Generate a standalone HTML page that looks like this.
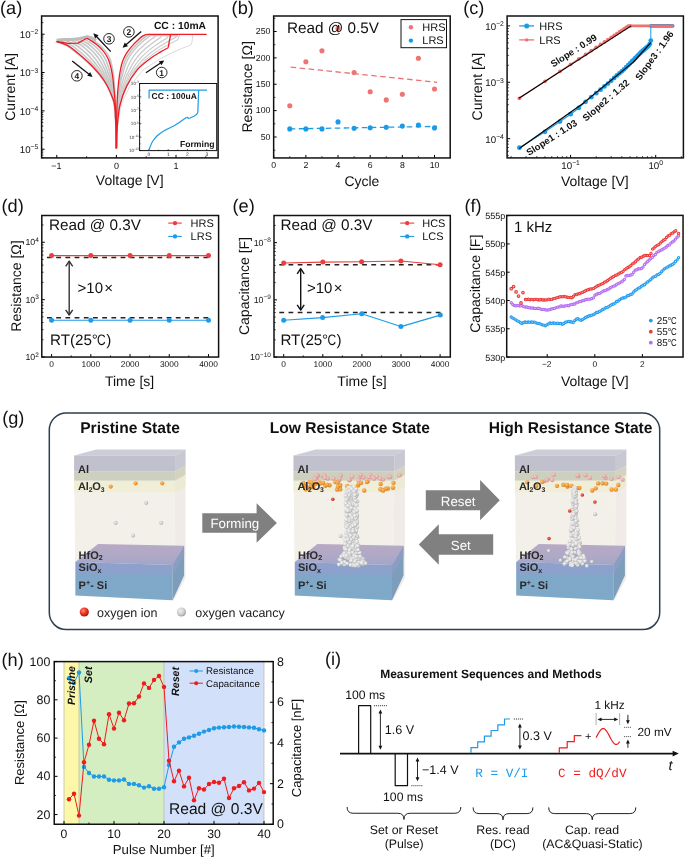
<!DOCTYPE html><html><head><meta charset="utf-8"><style>html,body{margin:0;padding:0;background:#fff;}svg{display:block;will-change:transform;text-rendering:geometricPrecision;}</style></head><body>
<svg width="685" height="858" viewBox="0 0 685 858" font-family='"Liberation Sans", sans-serif'>
<rect width="685" height="858" fill="#fff"/>
<g>
<path d="M89.22,37.94 C90.07,38.47 92.68,40.01 94.36,41.14 C96.03,42.27 97.72,43.41 99.25,44.72 C100.78,46.02 102.21,47.46 103.55,48.97 C104.88,50.47 106.15,52.07 107.23,53.77 C108.31,55.47 109.28,57.28 110.03,59.15 C110.78,61.03 111.26,63.04 111.74,65.01 C112.22,66.99 112.57,69.00 112.91,71.01 C113.24,73.02 113.54,75.05 113.75,77.08 C113.96,79.11 114.03,81.16 114.17,83.19 C114.31,85.23 114.46,87.26 114.59,89.29 C114.71,91.32 114.80,93.35 114.91,95.37 C115.02,97.39 115.17,99.42 115.26,101.44 C115.35,103.46 115.39,105.48 115.47,107.50 C115.54,109.51 115.64,111.53 115.72,113.54 C115.81,115.56 115.92,117.57 115.98,119.58 C116.05,121.60 116.07,123.61 116.12,125.63 C116.17,127.64 116.24,129.66 116.28,131.67 C116.32,133.69 116.33,135.70 116.34,137.72 C116.36,139.73 116.37,142.00 116.38,143.77 C116.39,145.53 116.40,147.54 116.40,148.30" fill="none" stroke="#c8c8c8" stroke-width="1.6"/>
<path d="M83.18,38.60 C84.07,39.10 86.79,40.55 88.54,41.62 C90.28,42.70 92.04,43.78 93.64,45.05 C95.24,46.32 96.72,47.78 98.14,49.26 C99.55,50.74 100.93,52.28 102.13,53.93 C103.33,55.58 104.41,57.34 105.33,59.15 C106.26,60.95 106.97,62.85 107.65,64.75 C108.34,66.65 108.90,68.60 109.46,70.55 C110.01,72.49 110.53,74.45 110.97,76.43 C111.40,78.40 111.69,80.41 112.04,82.40 C112.40,84.40 112.77,86.40 113.07,88.41 C113.38,90.42 113.62,92.45 113.88,94.47 C114.15,96.50 114.45,98.52 114.66,100.56 C114.88,102.59 115.05,104.64 115.20,106.68 C115.35,108.73 115.46,110.78 115.57,112.84 C115.68,114.89 115.78,116.94 115.86,119.00 C115.95,121.05 116.00,123.11 116.06,125.16 C116.12,127.22 116.19,129.28 116.23,131.33 C116.27,133.39 116.29,135.45 116.31,137.50 C116.33,139.56 116.35,141.87 116.36,143.67 C116.38,145.47 116.39,147.53 116.40,148.30" fill="none" stroke="#c8c8c8" stroke-width="1.6"/>
<path d="M79.25,39.03 C80.17,39.51 82.96,40.90 84.75,41.94 C86.54,42.98 88.35,44.02 90.00,45.27 C91.65,46.52 93.16,47.99 94.62,49.45 C96.09,50.91 97.54,52.42 98.81,54.03 C100.09,55.65 101.25,57.38 102.28,59.14 C103.31,60.90 104.18,62.73 105.00,64.58 C105.82,66.43 106.52,68.34 107.21,70.24 C107.91,72.15 108.58,74.06 109.16,76.00 C109.73,77.94 110.17,79.92 110.66,81.89 C111.15,83.86 111.66,85.83 112.09,87.83 C112.51,89.83 112.85,91.87 113.22,93.89 C113.58,95.92 113.98,97.94 114.28,99.98 C114.58,102.03 114.82,104.09 115.02,106.15 C115.22,108.22 115.35,110.30 115.47,112.38 C115.60,114.45 115.70,116.54 115.79,118.62 C115.88,120.70 115.95,122.78 116.02,124.86 C116.09,126.95 116.15,129.03 116.20,131.11 C116.24,133.19 116.26,135.28 116.28,137.36 C116.31,139.45 116.33,141.79 116.35,143.61 C116.37,145.44 116.39,147.52 116.40,148.30" fill="none" stroke="#c8c8c8" stroke-width="1.6"/>
<path d="M75.02,39.49 C75.96,39.95 78.83,41.28 80.68,42.28 C82.52,43.28 84.38,44.27 86.08,45.50 C87.77,46.73 89.31,48.22 90.84,49.66 C92.37,51.10 93.88,52.56 95.24,54.14 C96.60,55.72 97.85,57.43 99.00,59.14 C100.15,60.85 101.17,62.60 102.14,64.40 C103.11,66.20 103.95,68.06 104.80,69.92 C105.64,71.77 106.48,73.63 107.21,75.54 C107.94,77.44 108.54,79.39 109.17,81.34 C109.81,83.28 110.47,85.23 111.03,87.21 C111.58,89.20 112.02,91.24 112.50,93.26 C112.97,95.29 113.47,97.31 113.86,99.37 C114.25,101.42 114.58,103.50 114.84,105.58 C115.09,107.67 115.22,109.78 115.37,111.88 C115.51,113.98 115.60,116.10 115.70,118.21 C115.81,120.32 115.90,122.43 115.97,124.54 C116.05,126.65 116.11,128.76 116.16,130.87 C116.21,132.99 116.23,135.10 116.26,137.21 C116.29,139.32 116.32,141.70 116.34,143.55 C116.36,145.40 116.39,147.51 116.40,148.30" fill="none" stroke="#c8c8c8" stroke-width="1.6"/>
<path d="M70.49,39.98 C71.46,40.43 74.41,41.68 76.31,42.64 C78.21,43.61 80.13,44.54 81.87,45.75 C83.62,46.95 85.19,48.46 86.79,49.88 C88.38,51.30 89.97,52.72 91.42,54.26 C92.86,55.81 94.20,57.48 95.48,59.13 C96.75,60.79 97.95,62.46 99.07,64.20 C100.20,65.94 101.20,67.76 102.21,69.57 C103.21,71.38 104.22,73.18 105.12,75.04 C106.02,76.90 106.78,78.83 107.58,80.74 C108.37,82.66 109.20,84.58 109.89,86.55 C110.58,88.52 111.14,90.57 111.73,92.59 C112.31,94.62 112.93,96.64 113.42,98.71 C113.90,100.77 114.33,102.87 114.63,104.97 C114.94,107.08 115.09,109.22 115.25,111.35 C115.42,113.48 115.50,115.63 115.62,117.77 C115.73,119.91 115.84,122.05 115.93,124.19 C116.01,126.33 116.07,128.48 116.12,130.62 C116.17,132.76 116.20,134.90 116.23,137.05 C116.27,139.19 116.30,141.60 116.33,143.48 C116.36,145.35 116.39,147.50 116.40,148.30" fill="none" stroke="#c8c8c8" stroke-width="1.6"/>
<path d="M65.66,40.51 C66.66,40.93 69.70,42.12 71.65,43.03 C73.61,43.95 75.59,44.84 77.39,46.02 C79.19,47.20 80.80,48.72 82.46,50.11 C84.12,51.51 85.79,52.89 87.33,54.39 C88.88,55.89 90.31,57.53 91.72,59.13 C93.13,60.73 94.52,62.32 95.81,64.00 C97.09,65.67 98.26,67.44 99.44,69.20 C100.62,70.95 101.82,72.70 102.89,74.51 C103.96,76.33 104.91,78.22 105.88,80.11 C106.84,82.00 107.84,83.88 108.68,85.84 C109.52,87.80 110.19,89.85 110.90,91.87 C111.61,93.90 112.35,95.93 112.94,98.00 C113.53,100.08 114.05,102.19 114.42,104.32 C114.79,106.45 114.95,108.62 115.13,110.78 C115.32,112.95 115.40,115.13 115.52,117.30 C115.64,119.47 115.78,121.65 115.87,123.82 C115.97,125.99 116.03,128.17 116.08,130.35 C116.14,132.52 116.16,134.70 116.20,136.87 C116.24,139.05 116.28,141.50 116.32,143.40 C116.35,145.31 116.39,147.48 116.40,148.30" fill="none" stroke="#c8c8c8" stroke-width="1.6"/>
<path d="M60.83,41.04 C61.86,41.44 64.99,42.55 67.00,43.42 C69.01,44.30 71.05,45.13 72.91,46.28 C74.76,47.44 76.41,48.97 78.13,50.35 C79.86,51.72 81.61,53.06 83.25,54.52 C84.89,55.98 86.42,57.58 87.97,59.12 C89.51,60.67 91.09,62.17 92.54,63.79 C93.99,65.40 95.33,67.12 96.68,68.82 C98.04,70.52 99.42,72.21 100.67,73.99 C101.91,75.76 103.04,77.62 104.17,79.48 C105.31,81.34 106.49,83.19 107.47,85.13 C108.45,87.08 109.25,89.13 110.08,91.16 C110.91,93.18 111.78,95.21 112.46,97.30 C113.15,99.38 113.78,101.52 114.21,103.67 C114.63,105.83 114.81,108.02 115.01,110.22 C115.22,112.41 115.29,114.63 115.43,116.83 C115.56,119.04 115.72,121.24 115.82,123.45 C115.93,125.66 115.98,127.86 116.04,130.07 C116.10,132.28 116.13,134.49 116.17,136.70 C116.22,138.91 116.27,141.40 116.30,143.33 C116.34,145.26 116.38,147.47 116.40,148.30" fill="none" stroke="#c8c8c8" stroke-width="1.6"/>
<path d="M55.69,41.60 C56.75,41.97 59.98,43.01 62.05,43.84 C64.12,44.66 66.23,45.44 68.14,46.57 C70.06,47.69 71.74,49.25 73.54,50.60 C75.33,51.94 77.18,53.24 78.92,54.66 C80.66,56.08 82.28,57.63 83.98,59.12 C85.67,60.60 87.44,62.01 89.07,63.56 C90.69,65.12 92.21,66.78 93.75,68.43 C95.29,70.07 96.86,71.70 98.30,73.43 C99.74,75.16 101.05,76.98 102.37,78.81 C103.68,80.63 105.04,82.45 106.18,84.38 C107.32,86.31 108.25,88.37 109.21,90.40 C110.17,92.42 111.16,94.45 111.96,96.55 C112.75,98.65 113.49,100.80 113.98,102.98 C114.47,105.16 114.66,107.39 114.88,109.61 C115.11,111.84 115.18,114.09 115.32,116.34 C115.47,118.58 115.66,120.81 115.77,123.06 C115.88,125.30 115.93,127.54 116.00,129.78 C116.06,132.03 116.09,134.27 116.14,136.52 C116.19,138.76 116.25,141.29 116.29,143.25 C116.33,145.21 116.38,147.46 116.40,148.30" fill="none" stroke="#c8c8c8" stroke-width="1.6"/>
<path d="M116.40,148.30 L116.41,147.24 L116.42,146.18 L116.43,145.11 L116.44,144.05 L116.45,142.99 L116.46,141.93 L116.47,140.87 L116.48,139.80 L116.49,138.74 L116.50,137.68 L116.51,136.62 L116.52,135.55 L116.53,134.49 L116.54,133.43 L116.55,132.37 L116.56,131.31 L116.58,130.24 L116.60,129.18 L116.62,128.12 L116.65,127.06 L116.67,126.00 L116.70,124.94 L116.72,123.88 L116.75,122.81 L116.77,121.75 L116.80,120.69 L116.82,119.63 L116.85,118.57 L116.88,117.51 L116.91,116.45 L116.95,115.38 L116.99,114.32 L117.03,113.26 L117.07,112.20 L117.12,111.15 L117.18,110.09 L117.23,109.03 L117.29,107.98 L117.35,106.92 L117.40,105.86 L117.46,104.81 L117.51,103.75 L117.57,102.69 L117.64,101.64 L117.73,100.58 L117.81,99.53 L117.89,98.47 L117.98,97.41 L118.06,96.36 L118.16,95.31 L118.26,94.26 L118.36,93.22 L118.46,92.17 L118.56,91.12 L118.70,90.08 L118.83,89.03 L118.97,87.99 L119.10,86.95 L119.24,85.90 L119.37,84.86 L119.50,83.81 L119.64,82.77 L119.79,81.72 L119.96,80.68 L120.15,79.66 L120.35,78.64 L120.54,77.61 L120.73,76.59 L120.92,75.57 L121.14,74.55 L121.37,73.53 L121.59,72.51 L121.82,71.49 L122.05,70.47 L122.27,69.45 L122.55,68.44 L122.82,67.43 L123.10,66.43 L123.39,65.43 L123.67,64.43 L124.04,63.45 L124.40,62.48 L124.76,61.50 L125.12,60.52 L125.57,59.57 L126.03,58.63 L126.50,57.69 L126.96,56.76 L127.50,55.86 L128.07,54.97 L128.63,54.09 L129.19,53.20 L129.78,52.33 L130.43,51.50 L131.08,50.68 L131.74,49.85 L132.39,49.02 L133.08,48.23 L133.79,47.45 L134.51,46.67 L135.22,45.90 L135.94,45.12 L136.66,44.36 L137.43,43.63 L138.20,42.90 L138.97,42.18 L139.74,41.45 L140.51,40.73 L141.31,40.04 L142.12,39.36 L142.94,38.68 L143.75,38.01 L144.57,37.33 L145.38,36.66 L146.29,36.13 L147.25,35.67 L148.21,35.21 L149.17,34.76 L150.13,34.30" fill="none" stroke="#c4c4c4" stroke-width="1.6" stroke-linejoin="round"/>
<path d="M116.40,148.30 L116.41,147.22 L116.43,146.14 L116.44,145.06 L116.45,143.98 L116.47,142.91 L116.48,141.83 L116.49,140.75 L116.51,139.67 L116.52,138.59 L116.53,137.51 L116.55,136.43 L116.56,135.35 L116.57,134.28 L116.59,133.20 L116.60,132.12 L116.61,131.04 L116.64,129.96 L116.66,128.88 L116.69,127.80 L116.73,126.73 L116.76,125.65 L116.80,124.57 L116.83,123.49 L116.87,122.42 L116.91,121.34 L116.94,120.26 L116.98,119.19 L117.01,118.11 L117.05,117.03 L117.10,115.95 L117.14,114.88 L117.19,113.80 L117.24,112.72 L117.29,111.65 L117.38,110.58 L117.46,109.51 L117.54,108.44 L117.63,107.37 L117.71,106.30 L117.80,105.24 L117.88,104.17 L117.96,103.10 L118.05,102.03 L118.15,100.96 L118.26,99.90 L118.37,98.83 L118.48,97.76 L118.59,96.69 L118.69,95.63 L118.83,94.57 L118.98,93.52 L119.12,92.47 L119.27,91.43 L119.42,90.38 L119.59,89.33 L119.77,88.28 L119.95,87.23 L120.12,86.19 L120.30,85.14 L120.47,84.09 L120.65,83.04 L120.82,82.00 L121.02,80.95 L121.23,79.91 L121.48,78.89 L121.73,77.88 L121.98,76.87 L122.23,75.86 L122.48,74.85 L122.75,73.85 L123.03,72.84 L123.32,71.83 L123.60,70.83 L123.88,69.82 L124.16,68.82 L124.49,67.82 L124.82,66.82 L125.15,65.83 L125.49,64.86 L125.84,63.88 L126.26,62.92 L126.67,61.97 L127.09,61.01 L127.51,60.05 L128.00,59.13 L128.51,58.20 L129.02,57.28 L129.54,56.37 L130.12,55.49 L130.72,54.63 L131.33,53.76 L131.94,52.89 L132.57,52.04 L133.25,51.23 L133.94,50.42 L134.63,49.61 L135.32,48.81 L136.05,48.03 L136.79,47.27 L137.54,46.51 L138.29,45.75 L139.04,44.99 L139.80,44.24 L140.59,43.53 L141.39,42.81 L142.19,42.10 L142.99,41.40 L143.79,40.69 L144.62,40.00 L145.46,39.34 L146.30,38.67 L147.14,38.01 L147.98,37.34 L148.83,36.68 L149.76,36.15 L150.73,35.69 L151.71,35.22 L152.68,34.76" fill="none" stroke="#c8c8c8" stroke-width="1.4" stroke-linejoin="round"/>
<path d="M116.40,148.30 L116.42,147.19 L116.44,146.09 L116.46,144.98 L116.48,143.87 L116.50,142.76 L116.51,141.66 L116.53,140.55 L116.55,139.44 L116.57,138.33 L116.59,137.23 L116.61,136.12 L116.63,135.01 L116.65,133.90 L116.67,132.80 L116.69,131.69 L116.71,130.58 L116.73,129.47 L116.76,128.37 L116.81,127.26 L116.86,126.16 L116.92,125.05 L116.97,123.95 L117.02,122.84 L117.08,121.74 L117.13,120.63 L117.19,119.53 L117.24,118.42 L117.30,117.32 L117.35,116.21 L117.41,115.11 L117.48,114.00 L117.54,112.90 L117.60,111.80 L117.68,110.69 L117.81,109.60 L117.94,108.52 L118.08,107.43 L118.21,106.34 L118.34,105.25 L118.47,104.16 L118.60,103.08 L118.74,101.99 L118.87,100.90 L119.02,99.81 L119.17,98.72 L119.32,97.64 L119.48,96.55 L119.63,95.46 L119.79,94.37 L119.99,93.31 L120.21,92.26 L120.43,91.20 L120.66,90.15 L120.88,89.09 L121.13,88.04 L121.37,86.99 L121.62,85.94 L121.87,84.88 L122.12,83.83 L122.36,82.78 L122.61,81.73 L122.86,80.67 L123.12,79.62 L123.40,78.57 L123.74,77.58 L124.09,76.59 L124.44,75.61 L124.79,74.62 L125.14,73.63 L125.51,72.65 L125.89,71.66 L126.27,70.68 L126.65,69.69 L127.03,68.71 L127.40,67.73 L127.82,66.75 L128.23,65.77 L128.66,64.81 L129.11,63.87 L129.55,62.94 L130.06,62.02 L130.57,61.09 L131.08,60.17 L131.59,59.25 L132.17,58.36 L132.76,57.47 L133.34,56.58 L133.94,55.70 L134.60,54.86 L135.28,54.03 L135.96,53.20 L136.64,52.37 L137.34,51.55 L138.09,50.76 L138.84,49.99 L139.59,49.21 L140.35,48.44 L141.13,47.69 L141.94,46.96 L142.74,46.23 L143.55,45.50 L144.36,44.77 L145.17,44.04 L146.02,43.35 L146.87,42.66 L147.72,41.98 L148.57,41.29 L149.42,40.61 L150.30,39.95 L151.18,39.30 L152.07,38.66 L152.96,38.01 L153.85,37.37 L154.73,36.72 L155.70,36.19" fill="none" stroke="#cacaca" stroke-width="1.3" stroke-linejoin="round"/>
<polyline points="155.70,36.19 156.90,35.50 157.70,34.30" fill="none" stroke="#cacaca" stroke-width="1.3" stroke-linejoin="round"/>
<path d="M116.40,148.30 L116.43,147.16 L116.45,146.02 L116.48,144.88 L116.50,143.74 L116.53,142.60 L116.56,141.46 L116.58,140.31 L116.61,139.17 L116.63,138.03 L116.66,136.89 L116.68,135.75 L116.71,134.61 L116.74,133.47 L116.76,132.33 L116.79,131.19 L116.82,130.05 L116.85,128.91 L116.88,127.77 L116.95,126.63 L117.02,125.49 L117.10,124.36 L117.17,123.22 L117.25,122.08 L117.32,120.94 L117.40,119.81 L117.47,118.67 L117.55,117.53 L117.62,116.40 L117.70,115.26 L117.78,114.12 L117.87,112.99 L117.95,111.85 L118.03,110.71 L118.13,109.58 L118.32,108.47 L118.51,107.36 L118.70,106.25 L118.88,105.14 L119.07,104.02 L119.26,102.91 L119.45,101.80 L119.64,100.69 L119.83,99.58 L120.03,98.47 L120.23,97.36 L120.44,96.25 L120.65,95.13 L120.85,94.02 L121.06,92.91 L121.35,91.84 L121.66,90.78 L121.96,89.72 L122.27,88.66 L122.59,87.60 L122.92,86.54 L123.25,85.48 L123.58,84.42 L123.91,83.36 L124.24,82.31 L124.57,81.25 L124.90,80.19 L125.23,79.13 L125.57,78.07 L125.93,77.01 L126.39,76.05 L126.86,75.09 L127.32,74.13 L127.79,73.17 L128.25,72.20 L128.74,71.25 L129.23,70.29 L129.71,69.33 L130.20,68.37 L130.69,67.41 L131.18,66.46 L131.70,65.50 L132.22,64.55 L132.76,63.62 L133.32,62.72 L133.89,61.83 L134.51,60.95 L135.12,60.08 L135.74,59.20 L136.36,58.32 L137.03,57.46 L137.71,56.61 L138.39,55.75 L139.09,54.92 L139.84,54.12 L140.60,53.33 L141.36,52.54 L142.12,51.75 L142.91,50.97 L143.72,50.21 L144.55,49.48 L145.38,48.74 L146.21,48.01 L147.07,47.30 L147.94,46.60 L148.81,45.90 L149.69,45.20 L150.56,44.51 L151.44,43.81 L152.34,43.14 L153.25,42.48 L154.16,41.83 L155.08,41.18 L155.99,40.52 L156.92,39.89 L157.86,39.26 L158.80,38.64 L159.74,38.02 L160.68,37.39" fill="none" stroke="#cbcbcb" stroke-width="1.3" stroke-linejoin="round"/>
<polyline points="160.68,37.39 161.40,35.50 162.20,34.30" fill="none" stroke="#cbcbcb" stroke-width="1.3" stroke-linejoin="round"/>
<path d="M116.40,148.30 L116.43,147.12 L116.47,145.95 L116.50,144.77 L116.53,143.59 L116.57,142.42 L116.60,141.24 L116.63,140.06 L116.67,138.89 L116.70,137.71 L116.73,136.54 L116.77,135.36 L116.80,134.18 L116.83,133.01 L116.86,131.83 L116.90,130.65 L116.93,129.48 L116.97,128.30 L117.01,127.12 L117.10,125.95 L117.19,124.78 L117.29,123.61 L117.39,122.44 L117.49,121.27 L117.58,120.10 L117.68,118.92 L117.78,117.75 L117.88,116.58 L117.98,115.41 L118.07,114.24 L118.18,113.07 L118.28,111.90 L118.38,110.73 L118.49,109.55 L118.61,108.39 L118.86,107.25 L119.11,106.12 L119.36,104.98 L119.61,103.84 L119.86,102.71 L120.11,101.57 L120.36,100.43 L120.61,99.30 L120.85,98.16 L121.11,97.03 L121.37,95.89 L121.64,94.75 L121.90,93.62 L122.16,92.48 L122.42,91.35 L122.80,90.27 L123.20,89.20 L123.60,88.13 L124.01,87.07 L124.41,86.00 L124.83,84.93 L125.25,83.87 L125.67,82.80 L126.09,81.74 L126.51,80.67 L126.93,79.61 L127.35,78.54 L127.77,77.48 L128.20,76.41 L128.64,75.35 L129.22,74.41 L129.81,73.48 L130.41,72.54 L131.00,71.61 L131.59,70.68 L132.19,69.75 L132.80,68.81 L133.41,67.88 L134.02,66.95 L134.62,66.02 L135.23,65.09 L135.86,64.17 L136.49,63.24 L137.14,62.34 L137.84,61.49 L138.53,60.65 L139.26,59.82 L140.00,58.98 L140.73,58.15 L141.46,57.32 L142.23,56.50 L143.02,55.68 L143.80,54.87 L144.60,54.09 L145.44,53.33 L146.30,52.59 L147.15,51.84 L148.00,51.09 L148.87,50.35 L149.77,49.63 L150.67,48.93 L151.59,48.24 L152.50,47.55 L153.43,46.88 L154.37,46.22 L155.32,45.55 L156.26,44.89 L157.20,44.22 L158.15,43.57 L159.12,42.93 L160.09,42.29 L161.07,41.67 L162.05,41.05 L163.02,40.43 L164.01,39.82 L165.01,39.22 L166.01,38.62 L167.01,38.02" fill="none" stroke="#cccccc" stroke-width="1.2" stroke-linejoin="round"/>
<polyline points="167.01,38.02 168.40,35.50 169.20,34.30" fill="none" stroke="#cccccc" stroke-width="1.2" stroke-linejoin="round"/>
<path d="M116.40,148.30 L116.44,147.09 L116.48,145.88 L116.52,144.66 L116.56,143.45 L116.60,142.24 L116.64,141.03 L116.68,139.81 L116.72,138.60 L116.76,137.39 L116.80,136.18 L116.85,134.97 L116.89,133.75 L116.93,132.54 L116.97,131.33 L117.01,130.12 L117.05,128.90 L117.09,127.69 L117.13,126.48 L117.24,125.27 L117.36,124.07 L117.48,122.86 L117.61,121.66 L117.73,120.45 L117.85,119.25 L117.97,118.04 L118.09,116.83 L118.21,115.63 L118.33,114.42 L118.45,113.22 L118.57,112.01 L118.70,110.81 L118.82,109.60 L118.95,108.40 L119.10,107.20 L119.41,106.04 L119.72,104.88 L120.03,103.71 L120.33,102.55 L120.64,101.39 L120.95,100.23 L121.26,99.07 L121.57,97.91 L121.88,96.75 L122.20,95.59 L122.51,94.43 L122.83,93.26 L123.15,92.10 L123.47,90.94 L123.78,89.78 L124.25,88.69 L124.74,87.62 L125.24,86.54 L125.74,85.47 L126.24,84.40 L126.75,83.33 L127.26,82.25 L127.77,81.18 L128.28,80.11 L128.79,79.04 L129.30,77.97 L129.80,76.89 L130.31,75.82 L130.83,74.75 L131.35,73.68 L132.06,72.77 L132.77,71.86 L133.49,70.96 L134.21,70.05 L134.92,69.15 L135.64,68.24 L136.37,67.34 L137.10,66.44 L137.83,65.54 L138.55,64.63 L139.28,63.73 L140.02,62.83 L140.77,61.93 L141.53,61.06 L142.35,60.26 L143.18,59.47 L144.02,58.68 L144.87,57.89 L145.72,57.10 L146.57,56.32 L147.44,55.54 L148.32,54.76 L149.20,53.99 L150.11,53.26 L151.05,52.55 L151.99,51.84 L152.94,51.14 L153.88,50.43 L154.83,49.73 L155.81,49.04 L156.79,48.39 L157.79,47.74 L158.78,47.10 L159.79,46.46 L160.80,45.83 L161.82,45.20 L162.83,44.57 L163.85,43.94 L164.86,43.32 L165.90,42.71 L166.93,42.10 L167.97,41.51 L169.02,40.92 L170.06,40.33 L171.11,39.75 L172.17,39.17 L173.22,38.60 L174.28,38.02 L175.34,37.45 L176.39,36.87" fill="none" stroke="#cccccc" stroke-width="1.2" stroke-linejoin="round"/>
<polyline points="176.39,36.87 176.90,35.50 177.70,34.30" fill="none" stroke="#cccccc" stroke-width="1.2" stroke-linejoin="round"/>
<path d="M116.40,148.30 L116.45,147.05 L116.49,145.81 L116.54,144.56 L116.59,143.32 L116.64,142.07 L116.68,140.83 L116.73,139.58 L116.78,138.34 L116.83,137.09 L116.87,135.84 L116.92,134.60 L116.97,133.35 L117.01,132.11 L117.06,130.86 L117.11,129.62 L117.16,128.37 L117.21,127.12 L117.25,125.88 L117.38,124.64 L117.52,123.40 L117.67,122.17 L117.81,120.93 L117.95,119.69 L118.09,118.45 L118.23,117.22 L118.37,115.98 L118.51,114.74 L118.66,113.50 L118.80,112.26 L118.94,111.03 L119.08,109.79 L119.23,108.55 L119.37,107.31 L119.55,106.09 L119.92,104.90 L120.28,103.72 L120.65,102.53 L121.01,101.35 L121.38,100.16 L121.74,98.98 L122.11,97.79 L122.47,96.61 L122.84,95.43 L123.21,94.24 L123.58,93.06 L123.95,91.87 L124.32,90.69 L124.69,89.50 L125.06,88.32 L125.60,87.22 L126.19,86.14 L126.77,85.06 L127.36,83.98 L127.95,82.90 L128.54,81.83 L129.13,80.75 L129.72,79.67 L130.32,78.59 L130.91,77.51 L131.50,76.43 L132.09,75.36 L132.69,74.28 L133.28,73.20 L133.88,72.12 L134.70,71.24 L135.54,70.36 L136.37,69.48 L137.20,68.60 L138.03,67.72 L138.87,66.84 L139.71,65.97 L140.55,65.09 L141.38,64.21 L142.22,63.33 L143.06,62.46 L143.91,61.58 L144.75,60.71 L145.63,59.87 L146.57,59.12 L147.51,58.37 L148.47,57.62 L149.42,56.87 L150.38,56.13 L151.33,55.38 L152.30,54.64 L153.28,53.90 L154.25,53.16 L155.25,52.48 L156.28,51.81 L157.31,51.14 L158.34,50.48 L159.37,49.81 L160.40,49.15 L161.44,48.50 L162.51,47.88 L163.58,47.27 L164.65,46.67 L165.72,46.07 L166.81,45.47 L167.89,44.88 L168.97,44.28 L170.05,43.68 L171.13,43.09 L172.22,42.50 L173.32,41.93 L174.42,41.37 L175.52,40.80 L176.63,40.24 L177.73,39.69" fill="none" stroke="#cfcfcf" stroke-width="1.1" stroke-linejoin="round"/>
<polyline points="177.73,39.69 178.90,36.69 179.70,34.30" fill="none" stroke="#cfcfcf" stroke-width="1.1" stroke-linejoin="round"/>
<path d="M116.40,148.30 L116.47,147.02 L116.54,145.73 L116.61,144.45 L116.69,143.17 L116.76,141.88 L116.83,140.60 L116.90,139.31 L116.97,138.03 L117.04,136.75 L117.12,135.46 L117.19,134.18 L117.26,132.90 L117.33,131.61 L117.40,130.33 L117.47,129.04 L117.55,127.76 L117.62,126.48 L117.69,125.19 L117.88,123.92 L118.10,122.64 L118.31,121.37 L118.53,120.09 L118.74,118.82 L118.96,117.55 L119.18,116.27 L119.39,115.00 L119.61,113.72 L119.82,112.45 L120.04,111.18 L120.25,109.90 L120.47,108.63 L120.68,107.35 L120.90,106.08 L121.17,104.81 L121.72,103.60 L122.28,102.39 L122.84,101.18 L123.40,99.97 L123.96,98.76 L124.52,97.55 L125.08,96.34 L125.63,95.13 L126.19,93.92 L126.75,92.70 L127.31,91.49 L127.87,90.28 L128.43,89.07 L128.99,87.86 L129.54,86.65 L130.37,85.54 L131.26,84.45 L132.16,83.37 L133.05,82.28 L133.95,81.20 L134.84,80.11 L135.73,79.03 L136.63,77.94 L137.52,76.86 L138.41,75.77 L139.31,74.68 L140.20,73.60 L141.10,72.51 L141.99,71.43 L142.88,70.34 L144.13,69.49 L145.38,68.64 L146.63,67.79 L147.89,66.94 L149.14,66.09 L150.40,65.24 L151.65,64.40 L152.91,63.55 L154.16,62.70 L155.42,61.85 L156.67,61.00 L157.93,60.16 L159.18,59.31 L160.48,58.50 L161.88,57.80 L163.28,57.11 L164.69,56.41 L166.09,55.71 L167.49,55.01 L168.89,54.31 L170.30,53.62 L171.70,52.92 L173.10,52.22 L174.55,51.59 L176.02,50.97 L177.48,50.35 L178.94,49.73 L180.41,49.11 L181.87,48.49 L183.34,47.87 L184.83,47.30 L186.33,46.74 L187.84,46.18 L189.34,45.62 L190.84,45.06" fill="none" stroke="#d4d4d4" stroke-width="0.9" stroke-linejoin="round"/>
<polyline points="190.84,45.06 192.00,42.06 192.80,34.30" fill="none" stroke="#d4d4d4" stroke-width="0.9" stroke-linejoin="round"/>
<polyline points="56.60,40.30 64.00,39.40 72.00,39.50 80.00,38.40 87.40,36.60 92.00,38.00 96.00,40.60" fill="none" stroke="#bdbdbd" stroke-width="3.0" stroke-linejoin="round"/>
<polyline points="147.00,35.40 160.00,35.60 178.00,35.80" fill="none" stroke="#cccccc" stroke-width="1.4" stroke-linejoin="round"/>
<path d="M86.80,38.20 C87.62,38.68 89.92,39.93 91.70,41.10 C93.48,42.27 95.75,43.73 97.50,45.20 C99.25,46.67 100.83,48.35 102.20,49.90 C103.57,51.45 104.63,52.82 105.70,54.50 C106.77,56.18 107.73,57.83 108.60,60.00 C109.47,62.17 110.23,64.75 110.90,67.50 C111.57,70.25 112.10,73.08 112.60,76.50 C113.10,79.92 113.48,83.75 113.90,88.00 C114.32,92.25 114.77,97.00 115.10,102.00 C115.43,107.00 115.70,112.83 115.90,118.00 C116.10,123.17 116.22,127.95 116.30,133.00 C116.38,138.05 116.38,145.75 116.40,148.30" fill="none" stroke="#ee1c25" stroke-width="1.3"/>
<path d="M56.60,41.50 C58.42,42.15 63.73,43.28 67.50,45.40 C71.27,47.52 75.30,50.98 79.20,54.20 C83.10,57.42 87.40,61.20 90.90,64.70 C94.40,68.20 97.48,71.70 100.20,75.20 C102.92,78.70 105.25,82.20 107.20,85.70 C109.15,89.20 110.67,92.98 111.90,96.20 C113.13,99.42 113.93,100.20 114.60,105.00 C115.27,109.80 115.60,117.78 115.90,125.00 C116.20,132.22 116.32,144.42 116.40,148.30" fill="none" stroke="#ee1c25" stroke-width="1.3"/>
<polyline points="56.60,41.50 68.00,43.40 78.00,43.10 86.80,38.20" fill="none" stroke="#ee1c25" stroke-width="1.3" stroke-linejoin="round"/>
<path d="M146.60,34.30 C145.87,34.65 143.72,35.37 142.20,36.40 C140.68,37.43 138.97,39.13 137.50,40.50 C136.03,41.87 134.70,43.20 133.40,44.60 C132.10,46.00 130.80,47.52 129.70,48.90 C128.60,50.28 127.67,51.57 126.80,52.90 C125.93,54.23 125.17,55.58 124.50,56.90 C123.83,58.22 123.30,59.45 122.80,60.80 C122.30,62.15 121.90,63.47 121.50,65.00 C121.10,66.53 120.75,68.17 120.40,70.00 C120.05,71.83 119.72,73.83 119.40,76.00 C119.08,78.17 118.78,80.33 118.50,83.00 C118.22,85.67 117.93,88.67 117.70,92.00 C117.47,95.33 117.27,98.67 117.10,103.00 C116.93,107.33 116.80,113.17 116.70,118.00 C116.60,122.83 116.55,126.95 116.50,132.00 C116.45,137.05 116.42,145.58 116.40,148.30" fill="none" stroke="#ee1c25" stroke-width="1.3"/>
<path d="M168.20,47.70 C166.87,48.43 163.23,50.27 160.20,52.10 C157.17,53.93 153.90,55.67 150.00,58.70 C146.10,61.73 140.70,65.68 136.80,70.30 C132.90,74.92 129.40,80.62 126.60,86.40 C123.80,92.18 121.53,98.57 120.00,105.00 C118.47,111.43 118.00,117.78 117.40,125.00 C116.80,132.22 116.57,144.42 116.40,148.30" fill="none" stroke="#ee1c25" stroke-width="1.3"/>
<polyline points="168.20,47.70 170.40,35.30 170.60,34.30" fill="none" stroke="#ee1c25" stroke-width="1.3" stroke-linejoin="round"/>
<line x1="146.60" y1="34.30" x2="206.60" y2="34.30" stroke="#ee1c25" stroke-width="1.3"/>
</g>
<line x1="145.90" y1="72.70" x2="160.55" y2="62.99" stroke="#111" stroke-width="1.3"/>
<polygon points="164.30,60.50 161.46,65.26 158.81,61.26" fill="#111"/>
<line x1="141.20" y1="31.40" x2="125.98" y2="44.73" stroke="#111" stroke-width="1.3"/>
<polygon points="122.60,47.70 124.78,42.60 127.94,46.21" fill="#111"/>
<line x1="110.70" y1="51.60" x2="96.48" y2="36.48" stroke="#111" stroke-width="1.3"/>
<polygon points="93.40,33.20 98.57,35.20 95.08,38.49" fill="#111"/>
<line x1="72.20" y1="61.00" x2="89.06" y2="74.22" stroke="#111" stroke-width="1.3"/>
<polygon points="92.60,77.00 87.18,75.80 90.15,72.03" fill="#111"/>
<circle cx="161.70" cy="72.50" r="5.3" fill="#fff" stroke="#111" stroke-width="0.9"/>
<text x="161.70" y="75.50" font-size="8.4" text-anchor="middle" fill="#111" font-weight="bold">1</text>
<circle cx="128.90" cy="31.90" r="5.3" fill="#fff" stroke="#111" stroke-width="0.9"/>
<text x="128.90" y="34.90" font-size="8.4" text-anchor="middle" fill="#111" font-weight="bold">2</text>
<circle cx="109.00" cy="38.80" r="5.3" fill="#fff" stroke="#111" stroke-width="0.9"/>
<text x="109.00" y="41.80" font-size="8.4" text-anchor="middle" fill="#111" font-weight="bold">3</text>
<circle cx="76.90" cy="75.80" r="5.3" fill="#fff" stroke="#111" stroke-width="0.9"/>
<text x="76.90" y="78.80" font-size="8.4" text-anchor="middle" fill="#111" font-weight="bold">4</text>
<text x="206.00" y="29.30" font-size="10.3" text-anchor="end" fill="#111" font-weight="bold">CC : 10mA</text>
<rect x="139.60" y="83.50" width="77.10" height="67.10" fill="#fff" stroke="#111" stroke-width="1.0"/>
<line x1="139.60" y1="83.50" x2="141.40" y2="83.50" stroke="#000" stroke-width="0.6"/>
<text x="139" y="85.10" font-size="4.6" text-anchor="end" fill="#444">10<tspan font-size="3.4" dy="-1.8">-3</tspan></text>
<line x1="139.60" y1="90.20" x2="140.60" y2="90.20" stroke="#000" stroke-width="0.5"/>
<line x1="139.60" y1="96.90" x2="141.40" y2="96.90" stroke="#000" stroke-width="0.6"/>
<text x="139" y="98.50" font-size="4.6" text-anchor="end" fill="#444">10<tspan font-size="3.4" dy="-1.8">-5</tspan></text>
<line x1="139.60" y1="103.60" x2="140.60" y2="103.60" stroke="#000" stroke-width="0.5"/>
<line x1="139.60" y1="110.30" x2="141.40" y2="110.30" stroke="#000" stroke-width="0.6"/>
<text x="139" y="111.90" font-size="4.6" text-anchor="end" fill="#444">10<tspan font-size="3.4" dy="-1.8">-7</tspan></text>
<line x1="139.60" y1="117.00" x2="140.60" y2="117.00" stroke="#000" stroke-width="0.5"/>
<line x1="139.60" y1="123.70" x2="141.40" y2="123.70" stroke="#000" stroke-width="0.6"/>
<text x="139" y="125.30" font-size="4.6" text-anchor="end" fill="#444">10<tspan font-size="3.4" dy="-1.8">-9</tspan></text>
<line x1="139.60" y1="130.40" x2="140.60" y2="130.40" stroke="#000" stroke-width="0.5"/>
<line x1="139.60" y1="137.10" x2="141.40" y2="137.10" stroke="#000" stroke-width="0.6"/>
<text x="139" y="138.70" font-size="4.6" text-anchor="end" fill="#444">10<tspan font-size="3.4" dy="-1.8">-11</tspan></text>
<line x1="139.60" y1="143.80" x2="140.60" y2="143.80" stroke="#000" stroke-width="0.5"/>
<line x1="139.60" y1="150.50" x2="141.40" y2="150.50" stroke="#000" stroke-width="0.6"/>
<text x="139" y="152.10" font-size="4.6" text-anchor="end" fill="#444">10<tspan font-size="3.4" dy="-1.8">-13</tspan></text>
<line x1="148.80" y1="150.60" x2="148.80" y2="149.00" stroke="#000" stroke-width="0.6"/>
<text x="148.80" y="155.60" font-size="5" text-anchor="middle" fill="#333">0</text>
<line x1="158.45" y1="150.60" x2="158.45" y2="149.60" stroke="#000" stroke-width="0.5"/>
<line x1="168.20" y1="150.60" x2="168.20" y2="149.00" stroke="#000" stroke-width="0.6"/>
<text x="168.20" y="155.60" font-size="5" text-anchor="middle" fill="#333">1</text>
<line x1="177.85" y1="150.60" x2="177.85" y2="149.60" stroke="#000" stroke-width="0.5"/>
<line x1="187.50" y1="150.60" x2="187.50" y2="149.00" stroke="#000" stroke-width="0.6"/>
<text x="187.50" y="155.60" font-size="5" text-anchor="middle" fill="#333">2</text>
<line x1="197.15" y1="150.60" x2="197.15" y2="149.60" stroke="#000" stroke-width="0.5"/>
<line x1="206.80" y1="150.60" x2="206.80" y2="149.00" stroke="#000" stroke-width="0.6"/>
<text x="206.80" y="155.60" font-size="5" text-anchor="middle" fill="#333">3</text>
<path d="M148.80,150.20 C149.05,149.58 149.77,147.78 150.30,146.50 C150.83,145.22 151.35,143.72 152.00,142.50 C152.65,141.28 153.20,140.45 154.20,139.20 C155.20,137.95 156.53,136.30 158.00,135.00 C159.47,133.70 161.33,132.45 163.00,131.40 C164.67,130.35 166.07,129.70 168.00,128.70 C169.93,127.70 172.60,126.52 174.60,125.40 C176.60,124.28 178.05,123.30 180.00,122.00 C181.95,120.70 185.25,118.33 186.30,117.60" fill="none" stroke="#1e9ae6" stroke-width="1.2"/>
<polyline points="186.30,117.60 187.50,117.30 188.50,118.40 190.00,118.00 194.00,116.20 196.50,114.60 197.80,112.50 198.30,100.00 198.70,90.30" fill="none" stroke="#1e9ae6" stroke-width="1.2" stroke-linejoin="round"/>
<polyline points="149.10,98.40 149.10,90.20 207.00,90.20" fill="none" stroke="#1e9ae6" stroke-width="1.2" stroke-linejoin="round"/>
<text x="151.50" y="99.30" font-size="8.5" text-anchor="start" fill="#111" font-weight="bold">CC : 100uA</text>
<text x="214.40" y="146.70" font-size="8.6" text-anchor="end" fill="#111" font-weight="bold">Forming</text>
<rect x="41.60" y="16.00" width="176.50" height="141.90" fill="none" stroke="#111" stroke-width="1.5"/>
<line x1="41.60" y1="34.20" x2="44.60" y2="34.20" stroke="#000" stroke-width="1"/>
<text x="38.30" y="38.00" font-size="9.7" text-anchor="end" fill="#111">10<tspan font-size="6.8" dy="-3.69">−2</tspan></text>
<line x1="41.60" y1="72.53" x2="44.60" y2="72.53" stroke="#000" stroke-width="1"/>
<text x="38.30" y="76.33" font-size="9.7" text-anchor="end" fill="#111">10<tspan font-size="6.8" dy="-3.69">−3</tspan></text>
<line x1="41.60" y1="110.86" x2="44.60" y2="110.86" stroke="#000" stroke-width="1"/>
<text x="38.30" y="114.66" font-size="9.7" text-anchor="end" fill="#111">10<tspan font-size="6.8" dy="-3.69">−4</tspan></text>
<line x1="41.60" y1="149.19" x2="44.60" y2="149.19" stroke="#000" stroke-width="1"/>
<text x="38.30" y="152.99" font-size="9.7" text-anchor="end" fill="#111">10<tspan font-size="6.8" dy="-3.69">−5</tspan></text>
<line x1="41.60" y1="157.69" x2="43.30" y2="157.69" stroke="#000" stroke-width="0.8"/>
<line x1="41.60" y1="155.13" x2="43.30" y2="155.13" stroke="#000" stroke-width="0.8"/>
<line x1="41.60" y1="152.90" x2="43.30" y2="152.90" stroke="#000" stroke-width="0.8"/>
<line x1="41.60" y1="150.94" x2="43.30" y2="150.94" stroke="#000" stroke-width="0.8"/>
<line x1="41.60" y1="137.65" x2="43.30" y2="137.65" stroke="#000" stroke-width="0.8"/>
<line x1="41.60" y1="130.90" x2="43.30" y2="130.90" stroke="#000" stroke-width="0.8"/>
<line x1="41.60" y1="126.11" x2="43.30" y2="126.11" stroke="#000" stroke-width="0.8"/>
<line x1="41.60" y1="122.40" x2="43.30" y2="122.40" stroke="#000" stroke-width="0.8"/>
<line x1="41.60" y1="119.36" x2="43.30" y2="119.36" stroke="#000" stroke-width="0.8"/>
<line x1="41.60" y1="116.80" x2="43.30" y2="116.80" stroke="#000" stroke-width="0.8"/>
<line x1="41.60" y1="114.57" x2="43.30" y2="114.57" stroke="#000" stroke-width="0.8"/>
<line x1="41.60" y1="112.61" x2="43.30" y2="112.61" stroke="#000" stroke-width="0.8"/>
<line x1="41.60" y1="99.32" x2="43.30" y2="99.32" stroke="#000" stroke-width="0.8"/>
<line x1="41.60" y1="92.57" x2="43.30" y2="92.57" stroke="#000" stroke-width="0.8"/>
<line x1="41.60" y1="87.78" x2="43.30" y2="87.78" stroke="#000" stroke-width="0.8"/>
<line x1="41.60" y1="84.07" x2="43.30" y2="84.07" stroke="#000" stroke-width="0.8"/>
<line x1="41.60" y1="81.03" x2="43.30" y2="81.03" stroke="#000" stroke-width="0.8"/>
<line x1="41.60" y1="78.47" x2="43.30" y2="78.47" stroke="#000" stroke-width="0.8"/>
<line x1="41.60" y1="76.24" x2="43.30" y2="76.24" stroke="#000" stroke-width="0.8"/>
<line x1="41.60" y1="74.28" x2="43.30" y2="74.28" stroke="#000" stroke-width="0.8"/>
<line x1="41.60" y1="60.99" x2="43.30" y2="60.99" stroke="#000" stroke-width="0.8"/>
<line x1="41.60" y1="54.24" x2="43.30" y2="54.24" stroke="#000" stroke-width="0.8"/>
<line x1="41.60" y1="49.45" x2="43.30" y2="49.45" stroke="#000" stroke-width="0.8"/>
<line x1="41.60" y1="45.74" x2="43.30" y2="45.74" stroke="#000" stroke-width="0.8"/>
<line x1="41.60" y1="42.70" x2="43.30" y2="42.70" stroke="#000" stroke-width="0.8"/>
<line x1="41.60" y1="40.14" x2="43.30" y2="40.14" stroke="#000" stroke-width="0.8"/>
<line x1="41.60" y1="37.91" x2="43.30" y2="37.91" stroke="#000" stroke-width="0.8"/>
<line x1="41.60" y1="35.95" x2="43.30" y2="35.95" stroke="#000" stroke-width="0.8"/>
<line x1="41.60" y1="22.66" x2="43.30" y2="22.66" stroke="#000" stroke-width="0.8"/>
<line x1="56.80" y1="157.90" x2="56.80" y2="154.90" stroke="#000" stroke-width="1"/>
<line x1="116.40" y1="157.90" x2="116.40" y2="154.90" stroke="#000" stroke-width="1"/>
<line x1="176.00" y1="157.90" x2="176.00" y2="154.90" stroke="#000" stroke-width="1"/>
<line x1="86.60" y1="157.90" x2="86.60" y2="156.20" stroke="#000" stroke-width="0.8"/>
<line x1="146.20" y1="157.90" x2="146.20" y2="156.20" stroke="#000" stroke-width="0.8"/>
<line x1="205.80" y1="157.90" x2="205.80" y2="156.20" stroke="#000" stroke-width="0.8"/>
<text x="56.30" y="168.90" font-size="9" text-anchor="middle" fill="#111">−1</text>
<text x="116.40" y="168.90" font-size="9" text-anchor="middle" fill="#111">0</text>
<text x="176.00" y="168.90" font-size="9" text-anchor="middle" fill="#111">1</text>
<text x="129.70" y="184.90" font-size="14.0" text-anchor="middle" fill="#111">Voltage [V]</text>
<text x="14.60" y="86.90" font-size="14.0" text-anchor="middle" fill="#111" transform="rotate(-90 14.60 86.90)">Current [A]</text>
<text x="0.00" y="14.30" font-size="18.2" text-anchor="start" fill="#111">(a)</text>
<line x1="273.65" y1="137.00" x2="276.65" y2="137.00" stroke="#000" stroke-width="1"/>
<text x="270.30" y="139.80" font-size="8.7" text-anchor="end" fill="#111">50</text>
<line x1="273.65" y1="110.62" x2="276.65" y2="110.62" stroke="#000" stroke-width="1"/>
<text x="270.30" y="113.42" font-size="8.7" text-anchor="end" fill="#111">100</text>
<line x1="273.65" y1="84.25" x2="276.65" y2="84.25" stroke="#000" stroke-width="1"/>
<text x="270.30" y="87.05" font-size="8.7" text-anchor="end" fill="#111">150</text>
<line x1="273.65" y1="57.88" x2="276.65" y2="57.88" stroke="#000" stroke-width="1"/>
<text x="270.30" y="60.67" font-size="8.7" text-anchor="end" fill="#111">200</text>
<line x1="273.65" y1="31.50" x2="276.65" y2="31.50" stroke="#000" stroke-width="1"/>
<text x="270.30" y="34.30" font-size="8.7" text-anchor="end" fill="#111">250</text>
<line x1="273.65" y1="150.19" x2="275.35" y2="150.19" stroke="#000" stroke-width="0.8"/>
<line x1="273.65" y1="123.81" x2="275.35" y2="123.81" stroke="#000" stroke-width="0.8"/>
<line x1="273.65" y1="97.44" x2="275.35" y2="97.44" stroke="#000" stroke-width="0.8"/>
<line x1="273.65" y1="71.06" x2="275.35" y2="71.06" stroke="#000" stroke-width="0.8"/>
<line x1="273.65" y1="44.69" x2="275.35" y2="44.69" stroke="#000" stroke-width="0.8"/>
<line x1="273.65" y1="18.31" x2="275.35" y2="18.31" stroke="#000" stroke-width="0.8"/>
<line x1="273.70" y1="157.95" x2="273.70" y2="154.95" stroke="#000" stroke-width="1"/>
<text x="273.70" y="168.40" font-size="8.7" text-anchor="middle" fill="#111">0</text>
<line x1="289.78" y1="157.95" x2="289.78" y2="156.25" stroke="#000" stroke-width="0.8"/>
<line x1="305.86" y1="157.95" x2="305.86" y2="154.95" stroke="#000" stroke-width="1"/>
<text x="305.86" y="168.40" font-size="8.7" text-anchor="middle" fill="#111">2</text>
<line x1="321.94" y1="157.95" x2="321.94" y2="156.25" stroke="#000" stroke-width="0.8"/>
<line x1="338.02" y1="157.95" x2="338.02" y2="154.95" stroke="#000" stroke-width="1"/>
<text x="338.02" y="168.40" font-size="8.7" text-anchor="middle" fill="#111">4</text>
<line x1="354.10" y1="157.95" x2="354.10" y2="156.25" stroke="#000" stroke-width="0.8"/>
<line x1="370.18" y1="157.95" x2="370.18" y2="154.95" stroke="#000" stroke-width="1"/>
<text x="370.18" y="168.40" font-size="8.7" text-anchor="middle" fill="#111">6</text>
<line x1="386.26" y1="157.95" x2="386.26" y2="156.25" stroke="#000" stroke-width="0.8"/>
<line x1="402.34" y1="157.95" x2="402.34" y2="154.95" stroke="#000" stroke-width="1"/>
<text x="402.34" y="168.40" font-size="8.7" text-anchor="middle" fill="#111">8</text>
<line x1="418.42" y1="157.95" x2="418.42" y2="156.25" stroke="#000" stroke-width="0.8"/>
<line x1="434.50" y1="157.95" x2="434.50" y2="154.95" stroke="#000" stroke-width="1"/>
<text x="434.50" y="168.40" font-size="8.7" text-anchor="middle" fill="#111">10</text>
<line x1="290.70" y1="67.10" x2="437.20" y2="82.30" stroke="#f07070" stroke-width="1.3" stroke-dasharray="5.5 3.5"/>
<line x1="289.80" y1="128.90" x2="437.00" y2="126.40" stroke="#1a9be8" stroke-width="1.3" stroke-dasharray="5.5 3.5"/>
<circle cx="289.78" cy="105.80" r="2.55" fill="#f07272" stroke="none" stroke-width="0"/>
<circle cx="305.86" cy="61.70" r="2.55" fill="#f07272" stroke="none" stroke-width="0"/>
<circle cx="321.94" cy="50.80" r="2.55" fill="#f07272" stroke="none" stroke-width="0"/>
<circle cx="338.02" cy="28.20" r="2.55" fill="#f07272" stroke="none" stroke-width="0"/>
<circle cx="354.10" cy="72.50" r="2.55" fill="#f07272" stroke="none" stroke-width="0"/>
<circle cx="370.18" cy="91.80" r="2.55" fill="#f07272" stroke="none" stroke-width="0"/>
<circle cx="386.26" cy="99.90" r="2.55" fill="#f07272" stroke="none" stroke-width="0"/>
<circle cx="402.34" cy="94.30" r="2.55" fill="#f07272" stroke="none" stroke-width="0"/>
<circle cx="418.42" cy="58.20" r="2.55" fill="#f07272" stroke="none" stroke-width="0"/>
<circle cx="434.50" cy="89.00" r="2.55" fill="#f07272" stroke="none" stroke-width="0"/>
<circle cx="289.78" cy="128.90" r="2.55" fill="#1a9be8" stroke="none" stroke-width="0"/>
<circle cx="305.86" cy="128.90" r="2.55" fill="#1a9be8" stroke="none" stroke-width="0"/>
<circle cx="321.94" cy="128.90" r="2.55" fill="#1a9be8" stroke="none" stroke-width="0"/>
<circle cx="338.02" cy="121.90" r="2.55" fill="#1a9be8" stroke="none" stroke-width="0"/>
<circle cx="354.10" cy="128.20" r="2.55" fill="#1a9be8" stroke="none" stroke-width="0"/>
<circle cx="370.18" cy="127.80" r="2.55" fill="#1a9be8" stroke="none" stroke-width="0"/>
<circle cx="386.26" cy="127.20" r="2.55" fill="#1a9be8" stroke="none" stroke-width="0"/>
<circle cx="402.34" cy="126.10" r="2.55" fill="#1a9be8" stroke="none" stroke-width="0"/>
<circle cx="418.42" cy="125.10" r="2.55" fill="#1a9be8" stroke="none" stroke-width="0"/>
<circle cx="434.50" cy="127.90" r="2.55" fill="#1a9be8" stroke="none" stroke-width="0"/>
<text x="286.90" y="32.90" font-size="15.3" text-anchor="start" fill="#111">Read @ 0.5V</text>
<rect x="401.00" y="19.60" width="45.50" height="28.10" fill="#fff" stroke="#111" stroke-width="1"/>
<circle cx="410.90" cy="27.20" r="2.2" fill="#f07272" stroke="none" stroke-width="0"/>
<circle cx="410.90" cy="40.60" r="2.2" fill="#1a9be8" stroke="none" stroke-width="0"/>
<text x="422.30" y="31.30" font-size="11" text-anchor="start" fill="#111">HRS</text>
<text x="422.30" y="44.30" font-size="11" text-anchor="start" fill="#111">LRS</text>
<rect x="273.65" y="16.00" width="176.55" height="141.95" fill="none" stroke="#111" stroke-width="1.5"/>
<text x="361.90" y="186.10" font-size="14.0" text-anchor="middle" fill="#111">Cycle</text>
<text x="251.60" y="86.90" font-size="14.0" text-anchor="middle" fill="#111" transform="rotate(-90 251.60 86.90)">Resistance [Ω]</text>
<text x="231.60" y="14.10" font-size="18.2" text-anchor="start" fill="#111">(b)</text>
<line x1="507.10" y1="25.90" x2="510.10" y2="25.90" stroke="#000" stroke-width="1"/>
<text x="503.90" y="29.80" font-size="9.7" text-anchor="end" fill="#111">10<tspan font-size="6.8" dy="-3.69">−2</tspan></text>
<line x1="507.10" y1="82.30" x2="510.10" y2="82.30" stroke="#000" stroke-width="1"/>
<text x="503.90" y="86.20" font-size="9.7" text-anchor="end" fill="#111">10<tspan font-size="6.8" dy="-3.69">−3</tspan></text>
<line x1="507.10" y1="138.70" x2="510.10" y2="138.70" stroke="#000" stroke-width="1"/>
<text x="503.90" y="142.60" font-size="9.7" text-anchor="end" fill="#111">10<tspan font-size="6.8" dy="-3.69">−4</tspan></text>
<line x1="507.10" y1="155.68" x2="508.80" y2="155.68" stroke="#000" stroke-width="0.8"/>
<line x1="507.10" y1="151.21" x2="508.80" y2="151.21" stroke="#000" stroke-width="0.8"/>
<line x1="507.10" y1="147.44" x2="508.80" y2="147.44" stroke="#000" stroke-width="0.8"/>
<line x1="507.10" y1="144.17" x2="508.80" y2="144.17" stroke="#000" stroke-width="0.8"/>
<line x1="507.10" y1="141.28" x2="508.80" y2="141.28" stroke="#000" stroke-width="0.8"/>
<line x1="507.10" y1="121.72" x2="508.80" y2="121.72" stroke="#000" stroke-width="0.8"/>
<line x1="507.10" y1="111.79" x2="508.80" y2="111.79" stroke="#000" stroke-width="0.8"/>
<line x1="507.10" y1="104.74" x2="508.80" y2="104.74" stroke="#000" stroke-width="0.8"/>
<line x1="507.10" y1="99.28" x2="508.80" y2="99.28" stroke="#000" stroke-width="0.8"/>
<line x1="507.10" y1="94.81" x2="508.80" y2="94.81" stroke="#000" stroke-width="0.8"/>
<line x1="507.10" y1="91.04" x2="508.80" y2="91.04" stroke="#000" stroke-width="0.8"/>
<line x1="507.10" y1="87.77" x2="508.80" y2="87.77" stroke="#000" stroke-width="0.8"/>
<line x1="507.10" y1="84.88" x2="508.80" y2="84.88" stroke="#000" stroke-width="0.8"/>
<line x1="507.10" y1="65.32" x2="508.80" y2="65.32" stroke="#000" stroke-width="0.8"/>
<line x1="507.10" y1="55.39" x2="508.80" y2="55.39" stroke="#000" stroke-width="0.8"/>
<line x1="507.10" y1="48.34" x2="508.80" y2="48.34" stroke="#000" stroke-width="0.8"/>
<line x1="507.10" y1="42.88" x2="508.80" y2="42.88" stroke="#000" stroke-width="0.8"/>
<line x1="507.10" y1="38.41" x2="508.80" y2="38.41" stroke="#000" stroke-width="0.8"/>
<line x1="507.10" y1="34.64" x2="508.80" y2="34.64" stroke="#000" stroke-width="0.8"/>
<line x1="507.10" y1="31.37" x2="508.80" y2="31.37" stroke="#000" stroke-width="0.8"/>
<line x1="507.10" y1="28.48" x2="508.80" y2="28.48" stroke="#000" stroke-width="0.8"/>
<line x1="511.12" y1="157.90" x2="511.12" y2="156.20" stroke="#000" stroke-width="0.8"/>
<line x1="526.10" y1="157.90" x2="526.10" y2="156.20" stroke="#000" stroke-width="0.8"/>
<line x1="536.74" y1="157.90" x2="536.74" y2="156.20" stroke="#000" stroke-width="0.8"/>
<line x1="544.98" y1="157.90" x2="544.98" y2="156.20" stroke="#000" stroke-width="0.8"/>
<line x1="551.72" y1="157.90" x2="551.72" y2="156.20" stroke="#000" stroke-width="0.8"/>
<line x1="557.42" y1="157.90" x2="557.42" y2="156.20" stroke="#000" stroke-width="0.8"/>
<line x1="562.35" y1="157.90" x2="562.35" y2="156.20" stroke="#000" stroke-width="0.8"/>
<line x1="566.71" y1="157.90" x2="566.71" y2="156.20" stroke="#000" stroke-width="0.8"/>
<line x1="570.60" y1="157.90" x2="570.60" y2="154.90" stroke="#000" stroke-width="1"/>
<line x1="596.22" y1="157.90" x2="596.22" y2="156.20" stroke="#000" stroke-width="0.8"/>
<line x1="611.20" y1="157.90" x2="611.20" y2="156.20" stroke="#000" stroke-width="0.8"/>
<line x1="621.84" y1="157.90" x2="621.84" y2="156.20" stroke="#000" stroke-width="0.8"/>
<line x1="630.08" y1="157.90" x2="630.08" y2="156.20" stroke="#000" stroke-width="0.8"/>
<line x1="636.82" y1="157.90" x2="636.82" y2="156.20" stroke="#000" stroke-width="0.8"/>
<line x1="642.52" y1="157.90" x2="642.52" y2="156.20" stroke="#000" stroke-width="0.8"/>
<line x1="647.45" y1="157.90" x2="647.45" y2="156.20" stroke="#000" stroke-width="0.8"/>
<line x1="651.81" y1="157.90" x2="651.81" y2="156.20" stroke="#000" stroke-width="0.8"/>
<line x1="655.70" y1="157.90" x2="655.70" y2="154.90" stroke="#000" stroke-width="1"/>
<line x1="681.32" y1="157.90" x2="681.32" y2="156.20" stroke="#000" stroke-width="0.8"/>
<text x="579.90" y="168.80" font-size="9.7" text-anchor="end" fill="#111">10<tspan font-size="6.8" dy="-3.69">−1</tspan></text>
<text x="663.00" y="168.80" font-size="9.7" text-anchor="end" fill="#111">10<tspan font-size="6.8" dy="-3.69">0</tspan></text>
<line x1="650.80" y1="25.90" x2="672.60" y2="25.90" stroke="#1a9be8" stroke-width="3.9" stroke-linecap="round"/>
<polyline points="519.36,98.28 544.98,81.30 559.97,71.37 570.60,64.32 578.85,58.86 585.59,54.39 591.28,50.61 596.22,47.34 600.57,44.46 604.46,41.88 607.99,39.54 611.20,37.41 614.16,35.45 616.90,33.64 619.45,31.95 621.84,30.37 624.08,28.88 626.19,27.48 628.19,26.16 630.08,25.90 631.20,25.90" fill="none" stroke="#f07070" stroke-width="1.2" stroke-linejoin="round"/>
<line x1="631.20" y1="25.90" x2="672.20" y2="25.90" stroke="#f07070" stroke-width="2.8" stroke-linecap="round"/>
<circle cx="519.36" cy="98.28" r="1.9" fill="#f07070" stroke="none" stroke-width="0"/>
<circle cx="544.98" cy="81.30" r="1.9" fill="#f07070" stroke="none" stroke-width="0"/>
<circle cx="559.97" cy="71.37" r="1.9" fill="#f07070" stroke="none" stroke-width="0"/>
<circle cx="570.60" cy="64.32" r="1.9" fill="#f07070" stroke="none" stroke-width="0"/>
<circle cx="578.85" cy="58.86" r="1.9" fill="#f07070" stroke="none" stroke-width="0"/>
<circle cx="585.59" cy="54.39" r="1.9" fill="#f07070" stroke="none" stroke-width="0"/>
<circle cx="591.28" cy="50.61" r="1.9" fill="#f07070" stroke="none" stroke-width="0"/>
<circle cx="596.22" cy="47.34" r="1.9" fill="#f07070" stroke="none" stroke-width="0"/>
<circle cx="600.57" cy="44.46" r="1.9" fill="#f07070" stroke="none" stroke-width="0"/>
<circle cx="604.46" cy="41.88" r="1.9" fill="#f07070" stroke="none" stroke-width="0"/>
<circle cx="607.99" cy="39.54" r="1.9" fill="#f07070" stroke="none" stroke-width="0"/>
<circle cx="611.20" cy="37.41" r="1.9" fill="#f07070" stroke="none" stroke-width="0"/>
<circle cx="614.16" cy="35.45" r="1.9" fill="#f07070" stroke="none" stroke-width="0"/>
<circle cx="616.90" cy="33.64" r="1.9" fill="#f07070" stroke="none" stroke-width="0"/>
<circle cx="619.45" cy="31.95" r="1.9" fill="#f07070" stroke="none" stroke-width="0"/>
<circle cx="621.84" cy="30.37" r="1.9" fill="#f07070" stroke="none" stroke-width="0"/>
<circle cx="624.08" cy="28.88" r="1.9" fill="#f07070" stroke="none" stroke-width="0"/>
<circle cx="626.19" cy="27.48" r="1.9" fill="#f07070" stroke="none" stroke-width="0"/>
<circle cx="628.19" cy="26.16" r="1.9" fill="#f07070" stroke="none" stroke-width="0"/>
<circle cx="630.08" cy="25.90" r="1.9" fill="#f07070" stroke="none" stroke-width="0"/>
<line x1="650.80" y1="40.60" x2="650.80" y2="25.90" stroke="#1a9be8" stroke-width="1.0"/>
<polyline points="519.36,147.70 544.98,131.84 559.97,121.56 570.60,114.17 578.85,107.92 585.59,101.81 591.28,97.13 596.22,93.15 600.57,89.66 604.46,86.43 607.99,83.56 611.20,80.69 614.16,77.88 616.90,75.45 619.45,73.32 621.84,71.34 624.08,69.32 626.19,67.21 628.19,65.21 630.08,63.32 631.89,61.51 633.60,59.80 635.25,58.15 636.82,56.58 638.33,55.07 639.78,53.62 641.17,52.23 642.52,51.02 643.81,49.91 645.07,48.85 646.28,47.82 647.45,46.82 648.59,45.85 649.69,44.15 650.80,40.60" fill="none" stroke="#1a9be8" stroke-width="1.2" stroke-linejoin="round"/>
<circle cx="519.36" cy="147.70" r="2.4" fill="#1a9be8" stroke="none" stroke-width="0"/>
<circle cx="544.98" cy="131.84" r="2.4" fill="#1a9be8" stroke="none" stroke-width="0"/>
<circle cx="559.97" cy="121.56" r="2.4" fill="#1a9be8" stroke="none" stroke-width="0"/>
<circle cx="570.60" cy="114.17" r="2.4" fill="#1a9be8" stroke="none" stroke-width="0"/>
<circle cx="578.85" cy="107.92" r="2.4" fill="#1a9be8" stroke="none" stroke-width="0"/>
<circle cx="585.59" cy="101.81" r="2.4" fill="#1a9be8" stroke="none" stroke-width="0"/>
<circle cx="591.28" cy="97.13" r="2.4" fill="#1a9be8" stroke="none" stroke-width="0"/>
<circle cx="596.22" cy="93.15" r="2.4" fill="#1a9be8" stroke="none" stroke-width="0"/>
<circle cx="600.57" cy="89.66" r="2.4" fill="#1a9be8" stroke="none" stroke-width="0"/>
<circle cx="604.46" cy="86.43" r="2.4" fill="#1a9be8" stroke="none" stroke-width="0"/>
<circle cx="607.99" cy="83.56" r="2.4" fill="#1a9be8" stroke="none" stroke-width="0"/>
<circle cx="611.20" cy="80.69" r="2.4" fill="#1a9be8" stroke="none" stroke-width="0"/>
<circle cx="614.16" cy="77.88" r="2.4" fill="#1a9be8" stroke="none" stroke-width="0"/>
<circle cx="616.90" cy="75.45" r="2.4" fill="#1a9be8" stroke="none" stroke-width="0"/>
<circle cx="619.45" cy="73.32" r="2.4" fill="#1a9be8" stroke="none" stroke-width="0"/>
<circle cx="621.84" cy="71.34" r="2.4" fill="#1a9be8" stroke="none" stroke-width="0"/>
<circle cx="624.08" cy="69.32" r="2.4" fill="#1a9be8" stroke="none" stroke-width="0"/>
<circle cx="626.19" cy="67.21" r="2.4" fill="#1a9be8" stroke="none" stroke-width="0"/>
<circle cx="628.19" cy="65.21" r="2.4" fill="#1a9be8" stroke="none" stroke-width="0"/>
<circle cx="630.08" cy="63.32" r="2.4" fill="#1a9be8" stroke="none" stroke-width="0"/>
<circle cx="631.89" cy="61.51" r="2.4" fill="#1a9be8" stroke="none" stroke-width="0"/>
<circle cx="633.60" cy="59.80" r="2.4" fill="#1a9be8" stroke="none" stroke-width="0"/>
<circle cx="635.25" cy="58.15" r="2.4" fill="#1a9be8" stroke="none" stroke-width="0"/>
<circle cx="636.82" cy="56.58" r="2.4" fill="#1a9be8" stroke="none" stroke-width="0"/>
<circle cx="638.33" cy="55.07" r="2.4" fill="#1a9be8" stroke="none" stroke-width="0"/>
<circle cx="639.78" cy="53.62" r="2.4" fill="#1a9be8" stroke="none" stroke-width="0"/>
<circle cx="641.17" cy="52.23" r="2.4" fill="#1a9be8" stroke="none" stroke-width="0"/>
<circle cx="642.52" cy="51.02" r="2.4" fill="#1a9be8" stroke="none" stroke-width="0"/>
<circle cx="643.81" cy="49.91" r="2.4" fill="#1a9be8" stroke="none" stroke-width="0"/>
<circle cx="645.07" cy="48.85" r="2.4" fill="#1a9be8" stroke="none" stroke-width="0"/>
<circle cx="646.28" cy="47.82" r="2.4" fill="#1a9be8" stroke="none" stroke-width="0"/>
<circle cx="647.45" cy="46.82" r="2.4" fill="#1a9be8" stroke="none" stroke-width="0"/>
<circle cx="648.59" cy="45.85" r="2.4" fill="#1a9be8" stroke="none" stroke-width="0"/>
<circle cx="649.69" cy="44.15" r="2.4" fill="#1a9be8" stroke="none" stroke-width="0"/>
<circle cx="650.80" cy="40.60" r="2.4" fill="#1a9be8" stroke="none" stroke-width="0"/>
<line x1="518.90" y1="98.20" x2="631.20" y2="25.90" stroke="#000" stroke-width="1.1"/>
<line x1="519.30" y1="148.60" x2="584.30" y2="102.40" stroke="#000" stroke-width="1.2"/>
<line x1="583.80" y1="102.60" x2="633.90" y2="61.60" stroke="#000" stroke-width="1.2"/>
<line x1="633.50" y1="62.00" x2="650.80" y2="42.60" stroke="#000" stroke-width="1.2"/>
<text x="553.20" y="67.50" font-size="9.5" font-weight="bold" fill="#111" transform="rotate(-32.5 553.20 67.50)">Slope : 0.99</text>
<text x="529.00" y="156.00" font-size="9.5" font-weight="bold" fill="#111" transform="rotate(-32.7 529.00 156.00)">Slope1 : 1.03</text>
<text x="586.00" y="121.80" font-size="9.5" font-weight="bold" fill="#111" transform="rotate(-40.9 586.00 121.80)">Slope2 : 1.32</text>
<text x="640.00" y="81.00" font-size="9.5" font-weight="bold" fill="#111" transform="rotate(-54.1 640.00 81.00)">Slope3 : 1.96</text>
<line x1="519.20" y1="25.90" x2="534.10" y2="25.90" stroke="#1a9be8" stroke-width="1.3"/>
<circle cx="526.70" cy="25.90" r="2.5" fill="#1a9be8" stroke="none" stroke-width="0"/>
<line x1="519.20" y1="39.90" x2="534.10" y2="39.90" stroke="#f07070" stroke-width="1.3"/>
<circle cx="526.70" cy="39.90" r="1.7" fill="#f07070" stroke="none" stroke-width="0"/>
<text x="539.30" y="29.90" font-size="11" text-anchor="start" fill="#111">HRS</text>
<text x="539.30" y="43.50" font-size="11" text-anchor="start" fill="#111">LRS</text>
<rect x="507.10" y="16.00" width="176.30" height="141.90" fill="none" stroke="#111" stroke-width="1.5"/>
<text x="594.80" y="186.00" font-size="14.0" text-anchor="middle" fill="#111">Voltage [V]</text>
<text x="482.20" y="86.60" font-size="14.0" text-anchor="middle" fill="#111" transform="rotate(-90 482.20 86.60)">Current [A]</text>
<text x="463.20" y="14.30" font-size="18.2" text-anchor="start" fill="#111">(c)</text>
<line x1="41.80" y1="357.05" x2="44.80" y2="357.05" stroke="#000" stroke-width="1"/>
<text x="38.9" y="360.15" font-size="8.8" text-anchor="end" fill="#111">10<tspan font-size="6.5" dy="-3.4">2</tspan></text>
<line x1="41.80" y1="299.65" x2="44.80" y2="299.65" stroke="#000" stroke-width="1"/>
<text x="38.9" y="302.75" font-size="8.8" text-anchor="end" fill="#111">10<tspan font-size="6.5" dy="-3.4">3</tspan></text>
<line x1="41.80" y1="242.25" x2="44.80" y2="242.25" stroke="#000" stroke-width="1"/>
<text x="38.9" y="245.35" font-size="8.8" text-anchor="end" fill="#111">10<tspan font-size="6.5" dy="-3.4">4</tspan></text>
<line x1="41.80" y1="339.77" x2="43.50" y2="339.77" stroke="#000" stroke-width="0.8"/>
<line x1="41.80" y1="329.66" x2="43.50" y2="329.66" stroke="#000" stroke-width="0.8"/>
<line x1="41.80" y1="322.49" x2="43.50" y2="322.49" stroke="#000" stroke-width="0.8"/>
<line x1="41.80" y1="316.93" x2="43.50" y2="316.93" stroke="#000" stroke-width="0.8"/>
<line x1="41.80" y1="312.38" x2="43.50" y2="312.38" stroke="#000" stroke-width="0.8"/>
<line x1="41.80" y1="308.54" x2="43.50" y2="308.54" stroke="#000" stroke-width="0.8"/>
<line x1="41.80" y1="305.21" x2="43.50" y2="305.21" stroke="#000" stroke-width="0.8"/>
<line x1="41.80" y1="302.28" x2="43.50" y2="302.28" stroke="#000" stroke-width="0.8"/>
<line x1="41.80" y1="282.37" x2="43.50" y2="282.37" stroke="#000" stroke-width="0.8"/>
<line x1="41.80" y1="272.26" x2="43.50" y2="272.26" stroke="#000" stroke-width="0.8"/>
<line x1="41.80" y1="265.09" x2="43.50" y2="265.09" stroke="#000" stroke-width="0.8"/>
<line x1="41.80" y1="259.53" x2="43.50" y2="259.53" stroke="#000" stroke-width="0.8"/>
<line x1="41.80" y1="254.98" x2="43.50" y2="254.98" stroke="#000" stroke-width="0.8"/>
<line x1="41.80" y1="251.14" x2="43.50" y2="251.14" stroke="#000" stroke-width="0.8"/>
<line x1="41.80" y1="247.81" x2="43.50" y2="247.81" stroke="#000" stroke-width="0.8"/>
<line x1="41.80" y1="244.88" x2="43.50" y2="244.88" stroke="#000" stroke-width="0.8"/>
<line x1="41.80" y1="224.97" x2="43.50" y2="224.97" stroke="#000" stroke-width="0.8"/>
<line x1="51.60" y1="357.05" x2="51.60" y2="354.05" stroke="#000" stroke-width="1"/>
<text x="51.60" y="367.40" font-size="8.4" text-anchor="middle" fill="#111">0</text>
<line x1="71.21" y1="357.05" x2="71.21" y2="355.35" stroke="#000" stroke-width="0.8"/>
<line x1="90.82" y1="357.05" x2="90.82" y2="354.05" stroke="#000" stroke-width="1"/>
<text x="90.82" y="367.40" font-size="8.4" text-anchor="middle" fill="#111">1000</text>
<line x1="110.43" y1="357.05" x2="110.43" y2="355.35" stroke="#000" stroke-width="0.8"/>
<line x1="130.04" y1="357.05" x2="130.04" y2="354.05" stroke="#000" stroke-width="1"/>
<text x="130.04" y="367.40" font-size="8.4" text-anchor="middle" fill="#111">2000</text>
<line x1="149.65" y1="357.05" x2="149.65" y2="355.35" stroke="#000" stroke-width="0.8"/>
<line x1="169.26" y1="357.05" x2="169.26" y2="354.05" stroke="#000" stroke-width="1"/>
<text x="169.26" y="367.40" font-size="8.4" text-anchor="middle" fill="#111">3000</text>
<line x1="188.87" y1="357.05" x2="188.87" y2="355.35" stroke="#000" stroke-width="0.8"/>
<line x1="208.48" y1="357.05" x2="208.48" y2="354.05" stroke="#000" stroke-width="1"/>
<text x="208.48" y="367.40" font-size="8.4" text-anchor="middle" fill="#111">4000</text>
<line x1="47.00" y1="257.40" x2="212.00" y2="257.40" stroke="#222" stroke-width="1.5" stroke-dasharray="4.8 4.4"/>
<line x1="47.00" y1="317.70" x2="212.00" y2="317.70" stroke="#222" stroke-width="1.5" stroke-dasharray="4.8 4.4"/>
<line x1="51.60" y1="255.60" x2="208.48" y2="255.60" stroke="#ee3d3d" stroke-width="1.1"/>
<line x1="51.60" y1="320.30" x2="208.48" y2="320.30" stroke="#1e9be8" stroke-width="1.1"/>
<circle cx="51.60" cy="255.60" r="2.5" fill="#ee3d3d" stroke="none" stroke-width="0"/>
<circle cx="51.60" cy="320.30" r="2.5" fill="#1e9be8" stroke="none" stroke-width="0"/>
<circle cx="90.82" cy="255.60" r="2.5" fill="#ee3d3d" stroke="none" stroke-width="0"/>
<circle cx="90.82" cy="320.30" r="2.5" fill="#1e9be8" stroke="none" stroke-width="0"/>
<circle cx="130.04" cy="255.60" r="2.5" fill="#ee3d3d" stroke="none" stroke-width="0"/>
<circle cx="130.04" cy="320.30" r="2.5" fill="#1e9be8" stroke="none" stroke-width="0"/>
<circle cx="169.26" cy="255.60" r="2.5" fill="#ee3d3d" stroke="none" stroke-width="0"/>
<circle cx="169.26" cy="320.30" r="2.5" fill="#1e9be8" stroke="none" stroke-width="0"/>
<circle cx="208.48" cy="255.60" r="2.5" fill="#ee3d3d" stroke="none" stroke-width="0"/>
<circle cx="208.48" cy="320.30" r="2.5" fill="#1e9be8" stroke="none" stroke-width="0"/>
<line x1="69.20" y1="261.50" x2="69.20" y2="314.70" stroke="#333" stroke-width="1.4"/>
<polyline points="65.70,266.40 69.20,261.20 72.70,266.40" fill="none" stroke="#333" stroke-width="1.4" stroke-linejoin="round"/>
<polyline points="65.70,309.80 69.20,315.00 72.70,309.80" fill="none" stroke="#333" stroke-width="1.4" stroke-linejoin="round"/>
<text x="77.60" y="292.60" font-size="15" text-anchor="start" fill="#111">&gt;10<tspan dx="1.3">×</tspan></text>
<text x="48.90" y="229.70" font-size="15.3" text-anchor="start" fill="#111">Read @ 0.3V</text>
<text x="50.00" y="344.80" font-size="15.2" text-anchor="start" fill="#111">RT(25<tspan dx="-0.2">°</tspan><tspan dx="-0.7" textLength="8.6" lengthAdjust="spacingAndGlyphs">C</tspan><tspan dx="0.5">)</tspan></text>
<line x1="168.20" y1="223.10" x2="181.80" y2="223.10" stroke="#ee3d3d" stroke-width="1.1"/>
<circle cx="175.00" cy="223.10" r="2.2" fill="#ee3d3d" stroke="none" stroke-width="0"/>
<line x1="168.20" y1="236.40" x2="181.80" y2="236.40" stroke="#1e9be8" stroke-width="1.1"/>
<circle cx="175.00" cy="236.40" r="2.2" fill="#1e9be8" stroke="none" stroke-width="0"/>
<text x="190.60" y="227.20" font-size="11" text-anchor="start" fill="#111">HRS</text>
<text x="190.60" y="240.30" font-size="11" text-anchor="start" fill="#111">LRS</text>
<rect x="41.80" y="215.50" width="176.80" height="141.55" fill="none" stroke="#111" stroke-width="1.5"/>
<text x="129.60" y="386.20" font-size="14.0" text-anchor="middle" fill="#111">Time [s]</text>
<text x="21.00" y="286.00" font-size="14.0" text-anchor="middle" fill="#111" transform="rotate(-90 21.00 286.00)">Resistance [Ω]</text>
<text x="1.50" y="211.60" font-size="18.2" text-anchor="start" fill="#111">(d)</text>
<line x1="274.00" y1="357.05" x2="277.00" y2="357.05" stroke="#000" stroke-width="1"/>
<text x="270.9" y="359.95" font-size="8.8" text-anchor="end" fill="#111">10<tspan font-size="6.5" dy="-3.4">−10</tspan></text>
<line x1="274.00" y1="299.85" x2="277.00" y2="299.85" stroke="#000" stroke-width="1"/>
<text x="270.9" y="302.75" font-size="8.8" text-anchor="end" fill="#111">10<tspan font-size="6.5" dy="-3.4">−9</tspan></text>
<line x1="274.00" y1="242.65" x2="277.00" y2="242.65" stroke="#000" stroke-width="1"/>
<text x="270.9" y="245.55" font-size="8.8" text-anchor="end" fill="#111">10<tspan font-size="6.5" dy="-3.4">−8</tspan></text>
<line x1="274.00" y1="339.83" x2="275.70" y2="339.83" stroke="#000" stroke-width="0.8"/>
<line x1="274.00" y1="329.76" x2="275.70" y2="329.76" stroke="#000" stroke-width="0.8"/>
<line x1="274.00" y1="322.61" x2="275.70" y2="322.61" stroke="#000" stroke-width="0.8"/>
<line x1="274.00" y1="317.07" x2="275.70" y2="317.07" stroke="#000" stroke-width="0.8"/>
<line x1="274.00" y1="312.54" x2="275.70" y2="312.54" stroke="#000" stroke-width="0.8"/>
<line x1="274.00" y1="308.71" x2="275.70" y2="308.71" stroke="#000" stroke-width="0.8"/>
<line x1="274.00" y1="305.39" x2="275.70" y2="305.39" stroke="#000" stroke-width="0.8"/>
<line x1="274.00" y1="302.47" x2="275.70" y2="302.47" stroke="#000" stroke-width="0.8"/>
<line x1="274.00" y1="282.63" x2="275.70" y2="282.63" stroke="#000" stroke-width="0.8"/>
<line x1="274.00" y1="272.56" x2="275.70" y2="272.56" stroke="#000" stroke-width="0.8"/>
<line x1="274.00" y1="265.41" x2="275.70" y2="265.41" stroke="#000" stroke-width="0.8"/>
<line x1="274.00" y1="259.87" x2="275.70" y2="259.87" stroke="#000" stroke-width="0.8"/>
<line x1="274.00" y1="255.34" x2="275.70" y2="255.34" stroke="#000" stroke-width="0.8"/>
<line x1="274.00" y1="251.51" x2="275.70" y2="251.51" stroke="#000" stroke-width="0.8"/>
<line x1="274.00" y1="248.19" x2="275.70" y2="248.19" stroke="#000" stroke-width="0.8"/>
<line x1="274.00" y1="245.27" x2="275.70" y2="245.27" stroke="#000" stroke-width="0.8"/>
<line x1="274.00" y1="225.43" x2="275.70" y2="225.43" stroke="#000" stroke-width="0.8"/>
<line x1="283.70" y1="357.05" x2="283.70" y2="354.05" stroke="#000" stroke-width="1"/>
<text x="283.70" y="367.40" font-size="8.4" text-anchor="middle" fill="#111">0</text>
<line x1="303.25" y1="357.05" x2="303.25" y2="355.35" stroke="#000" stroke-width="0.8"/>
<line x1="322.80" y1="357.05" x2="322.80" y2="354.05" stroke="#000" stroke-width="1"/>
<text x="322.80" y="367.40" font-size="8.4" text-anchor="middle" fill="#111">1000</text>
<line x1="342.35" y1="357.05" x2="342.35" y2="355.35" stroke="#000" stroke-width="0.8"/>
<line x1="361.90" y1="357.05" x2="361.90" y2="354.05" stroke="#000" stroke-width="1"/>
<text x="361.90" y="367.40" font-size="8.4" text-anchor="middle" fill="#111">2000</text>
<line x1="381.45" y1="357.05" x2="381.45" y2="355.35" stroke="#000" stroke-width="0.8"/>
<line x1="401.00" y1="357.05" x2="401.00" y2="354.05" stroke="#000" stroke-width="1"/>
<text x="401.00" y="367.40" font-size="8.4" text-anchor="middle" fill="#111">3000</text>
<line x1="420.55" y1="357.05" x2="420.55" y2="355.35" stroke="#000" stroke-width="0.8"/>
<line x1="440.10" y1="357.05" x2="440.10" y2="354.05" stroke="#000" stroke-width="1"/>
<text x="440.10" y="367.40" font-size="8.4" text-anchor="middle" fill="#111">4000</text>
<line x1="279.30" y1="264.80" x2="443.00" y2="264.80" stroke="#222" stroke-width="1.5" stroke-dasharray="4.8 4.4"/>
<line x1="279.30" y1="312.40" x2="443.00" y2="312.40" stroke="#222" stroke-width="1.5" stroke-dasharray="4.8 4.4"/>
<polyline points="283.70,263.00 322.80,262.10 361.60,261.70 400.90,261.00 440.10,264.80" fill="none" stroke="#ee3d3d" stroke-width="1.1" stroke-linejoin="round"/>
<polyline points="283.70,320.30 322.60,317.60 361.70,313.70 400.90,326.60 440.30,315.10" fill="none" stroke="#1e9be8" stroke-width="1.1" stroke-linejoin="round"/>
<circle cx="283.70" cy="263.00" r="2.5" fill="#ee3d3d" stroke="none" stroke-width="0"/>
<circle cx="322.80" cy="262.10" r="2.5" fill="#ee3d3d" stroke="none" stroke-width="0"/>
<circle cx="361.60" cy="261.70" r="2.5" fill="#ee3d3d" stroke="none" stroke-width="0"/>
<circle cx="400.90" cy="261.00" r="2.5" fill="#ee3d3d" stroke="none" stroke-width="0"/>
<circle cx="440.10" cy="264.80" r="2.5" fill="#ee3d3d" stroke="none" stroke-width="0"/>
<circle cx="283.70" cy="320.30" r="2.5" fill="#1e9be8" stroke="none" stroke-width="0"/>
<circle cx="322.60" cy="317.60" r="2.5" fill="#1e9be8" stroke="none" stroke-width="0"/>
<circle cx="361.70" cy="313.70" r="2.5" fill="#1e9be8" stroke="none" stroke-width="0"/>
<circle cx="400.90" cy="326.60" r="2.5" fill="#1e9be8" stroke="none" stroke-width="0"/>
<circle cx="440.30" cy="315.10" r="2.5" fill="#1e9be8" stroke="none" stroke-width="0"/>
<line x1="300.70" y1="268.90" x2="300.70" y2="309.80" stroke="#111" stroke-width="1.4"/>
<polyline points="297.20,273.80 300.70,268.60 304.20,273.80" fill="none" stroke="#111" stroke-width="1.4" stroke-linejoin="round"/>
<polyline points="297.20,304.90 300.70,310.10 304.20,304.90" fill="none" stroke="#111" stroke-width="1.4" stroke-linejoin="round"/>
<text x="306.90" y="292.60" font-size="15" text-anchor="start" fill="#111">&gt;10<tspan dx="1.3">×</tspan></text>
<text x="280.50" y="229.70" font-size="15.3" text-anchor="start" fill="#111">Read @ 0.3V</text>
<text x="280.40" y="344.50" font-size="15.2" text-anchor="start" fill="#111">RT(25<tspan dx="-0.2">°</tspan><tspan dx="-0.7" textLength="8.6" lengthAdjust="spacingAndGlyphs">C</tspan><tspan dx="0.5">)</tspan></text>
<line x1="400.20" y1="223.10" x2="414.20" y2="223.10" stroke="#ee3d3d" stroke-width="1.1"/>
<circle cx="407.20" cy="223.10" r="2.2" fill="#ee3d3d" stroke="none" stroke-width="0"/>
<line x1="400.20" y1="236.40" x2="414.20" y2="236.40" stroke="#1e9be8" stroke-width="1.1"/>
<circle cx="407.20" cy="236.40" r="2.2" fill="#1e9be8" stroke="none" stroke-width="0"/>
<text x="422.20" y="227.20" font-size="11" text-anchor="start" fill="#111">HCS</text>
<text x="422.20" y="240.30" font-size="11" text-anchor="start" fill="#111">LCS</text>
<rect x="274.00" y="215.50" width="176.30" height="141.55" fill="none" stroke="#111" stroke-width="1.5"/>
<text x="362.00" y="386.20" font-size="14.0" text-anchor="middle" fill="#111">Time [s]</text>
<text x="248.80" y="286.00" font-size="14.0" text-anchor="middle" fill="#111" transform="rotate(-90 248.80 286.00)">Capacitance [F]</text>
<text x="232.50" y="211.60" font-size="18.2" text-anchor="start" fill="#111">(e)</text>
<line x1="506.70" y1="357.05" x2="509.70" y2="357.05" stroke="#000" stroke-width="1"/>
<text x="505.30" y="360.55" font-size="9.0" text-anchor="end" fill="#111">530p</text>
<line x1="506.70" y1="328.77" x2="509.70" y2="328.77" stroke="#000" stroke-width="1"/>
<text x="505.30" y="332.27" font-size="9.0" text-anchor="end" fill="#111">535p</text>
<line x1="506.70" y1="300.49" x2="509.70" y2="300.49" stroke="#000" stroke-width="1"/>
<text x="505.30" y="303.99" font-size="9.0" text-anchor="end" fill="#111">540p</text>
<line x1="506.70" y1="272.21" x2="509.70" y2="272.21" stroke="#000" stroke-width="1"/>
<text x="505.30" y="275.71" font-size="9.0" text-anchor="end" fill="#111">545p</text>
<line x1="506.70" y1="243.93" x2="509.70" y2="243.93" stroke="#000" stroke-width="1"/>
<text x="505.30" y="247.43" font-size="9.0" text-anchor="end" fill="#111">550p</text>
<line x1="506.70" y1="215.65" x2="509.70" y2="215.65" stroke="#000" stroke-width="1"/>
<text x="505.30" y="219.15" font-size="9.0" text-anchor="end" fill="#111">555p</text>
<line x1="547.20" y1="357.05" x2="547.20" y2="354.05" stroke="#000" stroke-width="1"/>
<text x="546.70" y="367.40" font-size="8.4" text-anchor="middle" fill="#111">−2</text>
<line x1="594.80" y1="357.05" x2="594.80" y2="354.05" stroke="#000" stroke-width="1"/>
<text x="594.80" y="367.40" font-size="8.4" text-anchor="middle" fill="#111">0</text>
<line x1="642.40" y1="357.05" x2="642.40" y2="354.05" stroke="#000" stroke-width="1"/>
<text x="642.40" y="367.40" font-size="8.4" text-anchor="middle" fill="#111">2</text>
<g fill="#cfe9fc" stroke="#1f9cf0" stroke-width="1.05">
<circle cx="511.2" cy="317.0" r="1.15"/>
<circle cx="512.8" cy="318.1" r="1.15"/>
<circle cx="514.3" cy="318.8" r="1.15"/>
<circle cx="515.9" cy="319.8" r="1.15"/>
<circle cx="517.4" cy="320.9" r="1.15"/>
<circle cx="519.0" cy="321.6" r="1.15"/>
<circle cx="520.5" cy="322.7" r="1.15"/>
<circle cx="522.1" cy="323.4" r="1.15"/>
<circle cx="523.6" cy="322.4" r="1.15"/>
<circle cx="525.2" cy="322.0" r="1.15"/>
<circle cx="526.7" cy="322.4" r="1.15"/>
<circle cx="528.3" cy="322.0" r="1.15"/>
<circle cx="529.8" cy="322.3" r="1.15"/>
<circle cx="531.4" cy="322.0" r="1.15"/>
<circle cx="532.9" cy="322.2" r="1.15"/>
<circle cx="534.5" cy="322.1" r="1.15"/>
<circle cx="536.0" cy="322.8" r="1.15"/>
<circle cx="537.6" cy="323.3" r="1.15"/>
<circle cx="539.1" cy="323.3" r="1.15"/>
<circle cx="540.7" cy="324.1" r="1.15"/>
<circle cx="542.2" cy="324.8" r="1.15"/>
<circle cx="543.8" cy="325.1" r="1.15"/>
<circle cx="545.3" cy="325.7" r="1.15"/>
<circle cx="546.9" cy="324.8" r="1.15"/>
<circle cx="548.4" cy="323.9" r="1.15"/>
<circle cx="550.0" cy="323.0" r="1.15"/>
<circle cx="551.5" cy="323.3" r="1.15"/>
<circle cx="553.1" cy="323.0" r="1.15"/>
<circle cx="554.6" cy="323.2" r="1.15"/>
<circle cx="556.2" cy="323.3" r="1.15"/>
<circle cx="557.7" cy="323.2" r="1.15"/>
<circle cx="559.3" cy="323.6" r="1.15"/>
<circle cx="560.8" cy="323.5" r="1.15"/>
<circle cx="562.4" cy="324.2" r="1.15"/>
<circle cx="563.9" cy="323.4" r="1.15"/>
<circle cx="565.5" cy="322.2" r="1.15"/>
<circle cx="567.0" cy="321.8" r="1.15"/>
<circle cx="568.6" cy="321.4" r="1.15"/>
<circle cx="570.1" cy="321.7" r="1.15"/>
<circle cx="571.7" cy="322.0" r="1.15"/>
<circle cx="573.2" cy="322.6" r="1.15"/>
<circle cx="574.8" cy="320.6" r="1.15"/>
<circle cx="576.3" cy="319.2" r="1.15"/>
<circle cx="577.9" cy="318.6" r="1.15"/>
<circle cx="579.4" cy="319.6" r="1.15"/>
<circle cx="581.0" cy="320.3" r="1.15"/>
<circle cx="582.5" cy="319.6" r="1.15"/>
<circle cx="584.1" cy="318.6" r="1.15"/>
<circle cx="585.6" cy="317.5" r="1.15"/>
<circle cx="587.2" cy="316.7" r="1.15"/>
<circle cx="588.7" cy="316.0" r="1.15"/>
<circle cx="590.3" cy="315.7" r="1.15"/>
<circle cx="591.8" cy="315.1" r="1.15"/>
<circle cx="593.4" cy="314.6" r="1.15"/>
<circle cx="594.9" cy="313.7" r="1.15"/>
<circle cx="596.5" cy="312.4" r="1.15"/>
<circle cx="598.0" cy="312.2" r="1.15"/>
<circle cx="599.6" cy="311.4" r="1.15"/>
<circle cx="601.1" cy="310.6" r="1.15"/>
<circle cx="602.7" cy="309.5" r="1.15"/>
<circle cx="604.2" cy="308.8" r="1.15"/>
<circle cx="605.8" cy="307.7" r="1.15"/>
<circle cx="607.3" cy="307.4" r="1.15"/>
<circle cx="608.9" cy="306.4" r="1.15"/>
<circle cx="610.4" cy="305.4" r="1.15"/>
<circle cx="612.0" cy="304.3" r="1.15"/>
<circle cx="613.5" cy="304.0" r="1.15"/>
<circle cx="615.1" cy="303.1" r="1.15"/>
<circle cx="616.6" cy="301.4" r="1.15"/>
<circle cx="618.2" cy="301.0" r="1.15"/>
<circle cx="619.7" cy="299.7" r="1.15"/>
<circle cx="621.3" cy="298.6" r="1.15"/>
<circle cx="622.8" cy="298.0" r="1.15"/>
<circle cx="624.4" cy="297.7" r="1.15"/>
<circle cx="625.9" cy="297.1" r="1.15"/>
<circle cx="627.5" cy="295.7" r="1.15"/>
<circle cx="629.0" cy="295.5" r="1.15"/>
<circle cx="630.6" cy="294.4" r="1.15"/>
<circle cx="632.1" cy="294.0" r="1.15"/>
<circle cx="633.7" cy="291.9" r="1.15"/>
<circle cx="635.2" cy="290.5" r="1.15"/>
<circle cx="636.8" cy="289.4" r="1.15"/>
<circle cx="638.3" cy="288.1" r="1.15"/>
<circle cx="639.9" cy="287.7" r="1.15"/>
<circle cx="641.4" cy="286.2" r="1.15"/>
<circle cx="643.0" cy="285.2" r="1.15"/>
<circle cx="644.5" cy="284.7" r="1.15"/>
<circle cx="646.1" cy="283.1" r="1.15"/>
<circle cx="647.6" cy="281.9" r="1.15"/>
<circle cx="649.2" cy="280.8" r="1.15"/>
<circle cx="650.7" cy="279.6" r="1.15"/>
<circle cx="652.3" cy="278.0" r="1.15"/>
<circle cx="653.8" cy="276.8" r="1.15"/>
<circle cx="655.4" cy="276.4" r="1.15"/>
<circle cx="656.9" cy="275.0" r="1.15"/>
<circle cx="658.5" cy="274.4" r="1.15"/>
<circle cx="660.0" cy="273.4" r="1.15"/>
<circle cx="661.6" cy="271.6" r="1.15"/>
<circle cx="663.1" cy="270.1" r="1.15"/>
<circle cx="664.7" cy="268.6" r="1.15"/>
<circle cx="666.2" cy="267.8" r="1.15"/>
<circle cx="667.8" cy="266.9" r="1.15"/>
<circle cx="669.3" cy="266.0" r="1.15"/>
<circle cx="670.9" cy="265.2" r="1.15"/>
<circle cx="672.4" cy="264.5" r="1.15"/>
<circle cx="674.0" cy="263.2" r="1.15"/>
<circle cx="675.5" cy="261.4" r="1.15"/>
<circle cx="677.1" cy="259.8" r="1.15"/>
<circle cx="678.6" cy="257.6" r="1.15"/>
</g>
<g fill="#eddcfc" stroke="#b46cf0" stroke-width="1.05">
<circle cx="511.2" cy="302.7" r="1.15"/>
<circle cx="512.8" cy="304.6" r="1.15"/>
<circle cx="514.3" cy="305.5" r="1.15"/>
<circle cx="515.9" cy="305.8" r="1.15"/>
<circle cx="517.4" cy="305.4" r="1.15"/>
<circle cx="519.0" cy="305.7" r="1.15"/>
<circle cx="520.5" cy="305.9" r="1.15"/>
<circle cx="522.1" cy="305.6" r="1.15"/>
<circle cx="523.6" cy="306.6" r="1.15"/>
<circle cx="525.2" cy="307.1" r="1.15"/>
<circle cx="526.7" cy="307.0" r="1.15"/>
<circle cx="528.3" cy="307.6" r="1.15"/>
<circle cx="529.8" cy="307.7" r="1.15"/>
<circle cx="531.4" cy="308.1" r="1.15"/>
<circle cx="532.9" cy="308.0" r="1.15"/>
<circle cx="534.5" cy="308.4" r="1.15"/>
<circle cx="536.0" cy="308.6" r="1.15"/>
<circle cx="537.6" cy="308.2" r="1.15"/>
<circle cx="539.1" cy="308.4" r="1.15"/>
<circle cx="540.7" cy="309.1" r="1.15"/>
<circle cx="542.2" cy="309.6" r="1.15"/>
<circle cx="543.8" cy="309.3" r="1.15"/>
<circle cx="545.3" cy="309.7" r="1.15"/>
<circle cx="546.9" cy="310.1" r="1.15"/>
<circle cx="548.4" cy="309.9" r="1.15"/>
<circle cx="550.0" cy="309.5" r="1.15"/>
<circle cx="551.5" cy="309.0" r="1.15"/>
<circle cx="553.1" cy="308.6" r="1.15"/>
<circle cx="554.6" cy="308.3" r="1.15"/>
<circle cx="556.2" cy="307.6" r="1.15"/>
<circle cx="557.7" cy="307.1" r="1.15"/>
<circle cx="559.3" cy="306.9" r="1.15"/>
<circle cx="560.8" cy="305.9" r="1.15"/>
<circle cx="562.4" cy="306.2" r="1.15"/>
<circle cx="563.9" cy="306.2" r="1.15"/>
<circle cx="565.5" cy="305.8" r="1.15"/>
<circle cx="567.0" cy="305.6" r="1.15"/>
<circle cx="568.6" cy="305.7" r="1.15"/>
<circle cx="570.1" cy="304.9" r="1.15"/>
<circle cx="571.7" cy="304.4" r="1.15"/>
<circle cx="573.2" cy="304.2" r="1.15"/>
<circle cx="574.8" cy="304.0" r="1.15"/>
<circle cx="576.3" cy="302.8" r="1.15"/>
<circle cx="577.9" cy="302.3" r="1.15"/>
<circle cx="579.4" cy="301.6" r="1.15"/>
<circle cx="581.0" cy="301.4" r="1.15"/>
<circle cx="582.5" cy="300.6" r="1.15"/>
<circle cx="584.1" cy="300.5" r="1.15"/>
<circle cx="585.6" cy="299.6" r="1.15"/>
<circle cx="587.2" cy="299.3" r="1.15"/>
<circle cx="588.7" cy="299.1" r="1.15"/>
<circle cx="590.3" cy="299.1" r="1.15"/>
<circle cx="591.8" cy="298.5" r="1.15"/>
<circle cx="593.4" cy="297.8" r="1.15"/>
<circle cx="594.9" cy="295.2" r="1.15"/>
<circle cx="596.5" cy="294.5" r="1.15"/>
<circle cx="598.0" cy="293.5" r="1.15"/>
<circle cx="599.6" cy="293.3" r="1.15"/>
<circle cx="601.1" cy="292.6" r="1.15"/>
<circle cx="602.7" cy="291.3" r="1.15"/>
<circle cx="604.2" cy="290.7" r="1.15"/>
<circle cx="605.8" cy="290.4" r="1.15"/>
<circle cx="607.3" cy="289.5" r="1.15"/>
<circle cx="608.9" cy="288.9" r="1.15"/>
<circle cx="610.4" cy="287.7" r="1.15"/>
<circle cx="612.0" cy="286.8" r="1.15"/>
<circle cx="613.5" cy="286.1" r="1.15"/>
<circle cx="615.1" cy="285.7" r="1.15"/>
<circle cx="616.6" cy="284.4" r="1.15"/>
<circle cx="618.2" cy="283.6" r="1.15"/>
<circle cx="619.7" cy="282.8" r="1.15"/>
<circle cx="621.3" cy="281.9" r="1.15"/>
<circle cx="622.8" cy="281.0" r="1.15"/>
<circle cx="624.4" cy="279.4" r="1.15"/>
<circle cx="625.9" cy="276.0" r="1.15"/>
<circle cx="627.5" cy="275.4" r="1.15"/>
<circle cx="629.0" cy="275.6" r="1.15"/>
<circle cx="630.6" cy="275.0" r="1.15"/>
<circle cx="632.1" cy="274.6" r="1.15"/>
<circle cx="633.7" cy="272.2" r="1.15"/>
<circle cx="635.2" cy="270.1" r="1.15"/>
<circle cx="636.8" cy="269.7" r="1.15"/>
<circle cx="638.3" cy="268.7" r="1.15"/>
<circle cx="639.9" cy="268.8" r="1.15"/>
<circle cx="641.4" cy="268.5" r="1.15"/>
<circle cx="643.0" cy="267.1" r="1.15"/>
<circle cx="644.5" cy="264.6" r="1.15"/>
<circle cx="646.1" cy="262.8" r="1.15"/>
<circle cx="647.6" cy="261.5" r="1.15"/>
<circle cx="649.2" cy="260.0" r="1.15"/>
<circle cx="650.7" cy="258.5" r="1.15"/>
<circle cx="652.3" cy="257.4" r="1.15"/>
<circle cx="653.8" cy="255.6" r="1.15"/>
<circle cx="655.4" cy="254.5" r="1.15"/>
<circle cx="656.9" cy="252.3" r="1.15"/>
<circle cx="658.5" cy="251.6" r="1.15"/>
<circle cx="660.0" cy="250.6" r="1.15"/>
<circle cx="661.6" cy="249.9" r="1.15"/>
<circle cx="663.1" cy="249.0" r="1.15"/>
<circle cx="664.7" cy="248.1" r="1.15"/>
<circle cx="666.2" cy="247.0" r="1.15"/>
<circle cx="667.8" cy="245.5" r="1.15"/>
<circle cx="669.3" cy="244.9" r="1.15"/>
<circle cx="670.9" cy="243.1" r="1.15"/>
<circle cx="672.4" cy="242.0" r="1.15"/>
<circle cx="674.0" cy="241.0" r="1.15"/>
<circle cx="675.5" cy="239.1" r="1.15"/>
<circle cx="677.1" cy="237.2" r="1.15"/>
<circle cx="678.6" cy="235.9" r="1.15"/>
</g>
<circle cx="511.20" cy="288.70" r="1.3" fill="#f9d0d0" stroke="#ec3a3a" stroke-width="1.1"/>
<circle cx="513.60" cy="286.60" r="1.3" fill="#f9d0d0" stroke="#ec3a3a" stroke-width="1.1"/>
<circle cx="516.10" cy="291.90" r="1.3" fill="#f9d0d0" stroke="#ec3a3a" stroke-width="1.1"/>
<circle cx="518.50" cy="296.10" r="1.3" fill="#f9d0d0" stroke="#ec3a3a" stroke-width="1.1"/>
<circle cx="523.00" cy="292.60" r="1.3" fill="#f9d0d0" stroke="#ec3a3a" stroke-width="1.1"/>
<circle cx="521.00" cy="302.90" r="1.3" fill="#f9d0d0" stroke="#ec3a3a" stroke-width="1.1"/>
<g fill="#f9d0d0" stroke="#ec3a3a" stroke-width="1.05">
<circle cx="525.5" cy="299.5" r="1.15"/>
<circle cx="527.0" cy="299.3" r="1.15"/>
<circle cx="528.6" cy="299.2" r="1.15"/>
<circle cx="530.1" cy="299.7" r="1.15"/>
<circle cx="531.7" cy="299.4" r="1.15"/>
<circle cx="533.2" cy="299.7" r="1.15"/>
<circle cx="534.8" cy="299.4" r="1.15"/>
<circle cx="536.3" cy="299.3" r="1.15"/>
<circle cx="537.9" cy="299.7" r="1.15"/>
<circle cx="539.4" cy="300.0" r="1.15"/>
<circle cx="541.0" cy="299.5" r="1.15"/>
<circle cx="542.5" cy="300.0" r="1.15"/>
<circle cx="544.1" cy="300.0" r="1.15"/>
<circle cx="545.6" cy="299.9" r="1.15"/>
<circle cx="547.2" cy="299.8" r="1.15"/>
<circle cx="548.7" cy="299.1" r="1.15"/>
<circle cx="550.3" cy="299.5" r="1.15"/>
<circle cx="551.8" cy="299.4" r="1.15"/>
<circle cx="553.4" cy="298.6" r="1.15"/>
<circle cx="554.9" cy="298.3" r="1.15"/>
<circle cx="556.5" cy="297.8" r="1.15"/>
<circle cx="558.0" cy="297.4" r="1.15"/>
<circle cx="559.6" cy="296.9" r="1.15"/>
<circle cx="561.1" cy="296.6" r="1.15"/>
<circle cx="562.7" cy="296.8" r="1.15"/>
<circle cx="564.2" cy="296.5" r="1.15"/>
<circle cx="565.8" cy="296.8" r="1.15"/>
<circle cx="567.3" cy="297.2" r="1.15"/>
<circle cx="568.9" cy="297.3" r="1.15"/>
<circle cx="570.4" cy="297.3" r="1.15"/>
<circle cx="572.0" cy="297.7" r="1.15"/>
<circle cx="573.5" cy="296.2" r="1.15"/>
<circle cx="575.1" cy="294.6" r="1.15"/>
<circle cx="576.6" cy="294.5" r="1.15"/>
<circle cx="578.2" cy="293.9" r="1.15"/>
<circle cx="579.7" cy="293.5" r="1.15"/>
<circle cx="581.3" cy="292.8" r="1.15"/>
<circle cx="582.8" cy="292.2" r="1.15"/>
<circle cx="584.4" cy="291.4" r="1.15"/>
<circle cx="585.9" cy="290.5" r="1.15"/>
<circle cx="587.5" cy="289.9" r="1.15"/>
<circle cx="589.0" cy="289.5" r="1.15"/>
<circle cx="590.6" cy="288.9" r="1.15"/>
<circle cx="592.1" cy="288.8" r="1.15"/>
<circle cx="593.7" cy="288.4" r="1.15"/>
<circle cx="595.2" cy="287.3" r="1.15"/>
<circle cx="596.8" cy="286.2" r="1.15"/>
<circle cx="598.3" cy="285.5" r="1.15"/>
<circle cx="599.9" cy="284.8" r="1.15"/>
<circle cx="601.4" cy="284.1" r="1.15"/>
<circle cx="603.0" cy="283.4" r="1.15"/>
<circle cx="604.5" cy="282.2" r="1.15"/>
<circle cx="606.1" cy="281.6" r="1.15"/>
<circle cx="607.6" cy="280.5" r="1.15"/>
<circle cx="609.2" cy="279.3" r="1.15"/>
<circle cx="610.7" cy="278.2" r="1.15"/>
<circle cx="612.3" cy="277.2" r="1.15"/>
<circle cx="613.8" cy="276.4" r="1.15"/>
<circle cx="615.4" cy="275.4" r="1.15"/>
<circle cx="616.9" cy="274.9" r="1.15"/>
<circle cx="618.5" cy="274.0" r="1.15"/>
<circle cx="620.0" cy="273.0" r="1.15"/>
<circle cx="621.6" cy="272.4" r="1.15"/>
<circle cx="623.1" cy="271.3" r="1.15"/>
<circle cx="624.7" cy="269.6" r="1.15"/>
<circle cx="626.2" cy="268.7" r="1.15"/>
<circle cx="627.8" cy="267.5" r="1.15"/>
<circle cx="629.3" cy="266.7" r="1.15"/>
<circle cx="630.9" cy="265.5" r="1.15"/>
<circle cx="632.4" cy="263.8" r="1.15"/>
<circle cx="634.0" cy="263.0" r="1.15"/>
<circle cx="635.5" cy="261.7" r="1.15"/>
<circle cx="637.1" cy="260.0" r="1.15"/>
<circle cx="638.6" cy="258.9" r="1.15"/>
<circle cx="640.2" cy="257.5" r="1.15"/>
<circle cx="641.7" cy="257.2" r="1.15"/>
<circle cx="643.3" cy="256.2" r="1.15"/>
<circle cx="644.8" cy="255.5" r="1.15"/>
<circle cx="646.4" cy="255.5" r="1.15"/>
<circle cx="647.9" cy="255.5" r="1.15"/>
<circle cx="649.5" cy="255.6" r="1.15"/>
<circle cx="651.0" cy="253.4" r="1.15"/>
<circle cx="652.6" cy="249.1" r="1.15"/>
<circle cx="654.1" cy="248.0" r="1.15"/>
<circle cx="655.7" cy="246.3" r="1.15"/>
<circle cx="657.2" cy="245.3" r="1.15"/>
<circle cx="658.8" cy="244.6" r="1.15"/>
<circle cx="660.3" cy="242.9" r="1.15"/>
<circle cx="661.9" cy="241.6" r="1.15"/>
<circle cx="663.4" cy="240.2" r="1.15"/>
<circle cx="665.0" cy="239.4" r="1.15"/>
<circle cx="666.5" cy="237.4" r="1.15"/>
<circle cx="668.1" cy="235.9" r="1.15"/>
<circle cx="669.6" cy="235.3" r="1.15"/>
<circle cx="671.2" cy="233.6" r="1.15"/>
<circle cx="672.7" cy="233.0" r="1.15"/>
<circle cx="674.3" cy="231.7" r="1.15"/>
<circle cx="675.8" cy="230.7" r="1.15"/>
</g>
<circle cx="678.60" cy="233.40" r="1.2" fill="#f9d0d0" stroke="#ec3a3a" stroke-width="1.05"/>
<circle cx="650.80" cy="320.60" r="1.9" fill="#1f9cf0" stroke="none" stroke-width="0"/>
<circle cx="650.80" cy="331.70" r="1.9" fill="#ec3a3a" stroke="none" stroke-width="0"/>
<circle cx="650.80" cy="342.70" r="1.9" fill="#b46cf0" stroke="none" stroke-width="0"/>
<text x="656.7" y="324.0" font-size="9.9" fill="#111">25<tspan dx="-0.1">°</tspan><tspan dx="-0.6" textLength="5.7" lengthAdjust="spacingAndGlyphs">C</tspan></text>
<text x="656.7" y="335.1" font-size="9.9" fill="#111">55<tspan dx="-0.1">°</tspan><tspan dx="-0.6" textLength="5.7" lengthAdjust="spacingAndGlyphs">C</tspan></text>
<text x="656.7" y="346.1" font-size="9.9" fill="#111">85<tspan dx="-0.1">°</tspan><tspan dx="-0.6" textLength="5.7" lengthAdjust="spacingAndGlyphs">C</tspan></text>
<text x="514.00" y="232.10" font-size="15" text-anchor="start" fill="#111">1 kHz</text>
<rect x="506.70" y="215.40" width="176.35" height="141.65" fill="none" stroke="#111" stroke-width="1.5"/>
<text x="594.80" y="386.00" font-size="14.0" text-anchor="middle" fill="#111">Voltage [V]</text>
<text x="480.20" y="283.70" font-size="14.0" text-anchor="middle" fill="#111" transform="rotate(-90 480.20 283.70)">Capacitance [F]</text>
<text x="464.50" y="211.60" font-size="18.2" text-anchor="start" fill="#111">(f)</text>
<defs>
<radialGradient id="gv" cx="0.4" cy="0.38" r="0.65"><stop offset="0" stop-color="#f6f6f6"/><stop offset="0.6" stop-color="#dadada"/><stop offset="1" stop-color="#adadad"/></radialGradient>
<radialGradient id="gv2" cx="0.4" cy="0.38" r="0.65"><stop offset="0" stop-color="#eeeeee"/><stop offset="0.6" stop-color="#cfcfcf"/><stop offset="1" stop-color="#9a9a9a"/></radialGradient>
<radialGradient id="gr" cx="0.38" cy="0.35" r="0.7"><stop offset="0" stop-color="#ff8a7a"/><stop offset="0.55" stop-color="#e8301c"/><stop offset="1" stop-color="#a01008"/></radialGradient>
<radialGradient id="go" cx="0.38" cy="0.35" r="0.7"><stop offset="0" stop-color="#ffc070"/><stop offset="0.6" stop-color="#f09a38"/><stop offset="1" stop-color="#d07820"/></radialGradient>
<radialGradient id="gp" cx="0.38" cy="0.35" r="0.7"><stop offset="0" stop-color="#f4d0cc"/><stop offset="0.6" stop-color="#e2aaa8"/><stop offset="1" stop-color="#cf9090"/></radialGradient>
<radialGradient id="gr2" cx="0.38" cy="0.35" r="0.7"><stop offset="0" stop-color="#ff8070"/><stop offset="0.6" stop-color="#e53a22"/><stop offset="1" stop-color="#b02010"/></radialGradient>
<linearGradient id="hftop" x1="0" y1="0" x2="0" y2="1"><stop offset="0" stop-color="#b7aac5"/><stop offset="0.5" stop-color="#b1a9c6"/><stop offset="1" stop-color="#a3a6c8"/></linearGradient>
<linearGradient id="sifront" x1="0" y1="0" x2="0" y2="1"><stop offset="0" stop-color="#8ea0cc"/><stop offset="0.3" stop-color="#8aa2cb"/><stop offset="0.38" stop-color="#80a7c8"/><stop offset="1" stop-color="#7ea9c8"/></linearGradient>
<linearGradient id="body" x1="0" y1="0" x2="0" y2="1"><stop offset="0" stop-color="#f4f0ea"/><stop offset="1" stop-color="#f2eee9"/></linearGradient>
</defs>
<rect x="49.3" y="413.0" width="610.4" height="216.6" rx="17" ry="17" fill="none" stroke="#2e3f4f" stroke-width="1.5"/>
<text x="2.20" y="424.00" font-size="18.2" text-anchor="start" fill="#111">(g)</text>
<text x="130.00" y="433.00" font-size="15.6" text-anchor="middle" fill="#111" font-weight="bold">Pristine State</text>
<text x="349.80" y="432.80" font-size="15.6" text-anchor="middle" fill="#111" font-weight="bold">Low Resistance State</text>
<text x="570.60" y="433.30" font-size="15.6" text-anchor="middle" fill="#111" font-weight="bold">High Resistance State</text>
<polygon points="74.10,455.40 175.10,455.40 173.70,600.30 75.40,595.50" fill="#f3efe9"/>
<polygon points="175.10,455.40 185.50,449.50 185.50,578.00 173.70,600.30" fill="#f0ebe6"/>
<polygon points="74.10,455.40 96.30,449.50 185.50,449.50 175.10,455.40" fill="#cdcdd7"/>
<polygon points="74.10,455.40 175.10,455.40 175.10,471.30 74.10,471.30" fill="#c1c1cd"/>
<polygon points="175.10,455.40 185.50,449.50 185.50,465.60 175.10,471.30" fill="#c8c8d2"/>
<polygon points="74.10,471.30 175.10,471.30 175.10,480.80 74.10,480.80" fill="#cdd0bf"/>
<polygon points="175.10,471.30 185.50,465.60 185.50,475.10 175.10,480.80" fill="#d3d3c0"/>
<polygon points="74.10,480.80 175.10,480.80 175.10,492.20 74.10,492.20" fill="#f0eed6"/>
<polygon points="175.10,480.80 185.50,475.10 185.50,486.50 175.10,492.20" fill="#ecead4"/>
<polygon points="75.40,562.00 98.00,544.00 184.10,545.80 172.60,565.00" fill="url(#hftop)"/>
<polygon points="75.40,562.00 172.60,565.00 172.60,600.20 75.40,595.50" fill="url(#sifront)"/>
<polygon points="172.60,565.00 184.10,545.80 184.10,575.50 172.60,600.20" fill="#7c9ebc"/>
<polygon points="172.60,565.00 184.10,545.80 184.10,556.00 172.60,575.00" fill="#8e9cc4" opacity="0.8"/>
<polygon points="293.50,455.40 394.50,455.40 393.10,600.30 294.80,595.50" fill="#f3efe9"/>
<polygon points="394.50,455.40 404.90,449.50 404.90,578.00 393.10,600.30" fill="#f0ebe6"/>
<polygon points="293.50,455.40 315.70,449.50 404.90,449.50 394.50,455.40" fill="#cdcdd7"/>
<polygon points="293.50,455.40 394.50,455.40 394.50,471.30 293.50,471.30" fill="#c1c1cd"/>
<polygon points="394.50,455.40 404.90,449.50 404.90,465.60 394.50,471.30" fill="#c8c8d2"/>
<polygon points="293.50,471.30 394.50,471.30 394.50,480.80 293.50,480.80" fill="#cdd0bf"/>
<polygon points="394.50,471.30 404.90,465.60 404.90,475.10 394.50,480.80" fill="#d3d3c0"/>
<polygon points="293.50,480.80 394.50,480.80 394.50,492.20 293.50,492.20" fill="#f0eed6"/>
<polygon points="394.50,480.80 404.90,475.10 404.90,486.50 394.50,492.20" fill="#ecead4"/>
<polygon points="294.80,562.00 317.40,544.00 403.50,545.80 392.00,565.00" fill="url(#hftop)"/>
<polygon points="294.80,562.00 392.00,565.00 392.00,600.20 294.80,595.50" fill="url(#sifront)"/>
<polygon points="392.00,565.00 403.50,545.80 403.50,575.50 392.00,600.20" fill="#7c9ebc"/>
<polygon points="392.00,565.00 403.50,545.80 403.50,556.00 392.00,575.00" fill="#8e9cc4" opacity="0.8"/>
<polygon points="514.90,455.40 615.90,455.40 614.50,600.30 516.20,595.50" fill="#f3efe9"/>
<polygon points="615.90,455.40 626.30,449.50 626.30,578.00 614.50,600.30" fill="#f0ebe6"/>
<polygon points="514.90,455.40 537.10,449.50 626.30,449.50 615.90,455.40" fill="#cdcdd7"/>
<polygon points="514.90,455.40 615.90,455.40 615.90,471.30 514.90,471.30" fill="#c1c1cd"/>
<polygon points="615.90,455.40 626.30,449.50 626.30,465.60 615.90,471.30" fill="#c8c8d2"/>
<polygon points="514.90,471.30 615.90,471.30 615.90,480.80 514.90,480.80" fill="#cdd0bf"/>
<polygon points="615.90,471.30 626.30,465.60 626.30,475.10 615.90,480.80" fill="#d3d3c0"/>
<polygon points="514.90,480.80 615.90,480.80 615.90,492.20 514.90,492.20" fill="#f0eed6"/>
<polygon points="615.90,480.80 626.30,475.10 626.30,486.50 615.90,492.20" fill="#ecead4"/>
<polygon points="516.20,562.00 538.80,544.00 624.90,545.80 613.40,565.00" fill="url(#hftop)"/>
<polygon points="516.20,562.00 613.40,565.00 613.40,600.20 516.20,595.50" fill="url(#sifront)"/>
<polygon points="613.40,565.00 624.90,545.80 624.90,575.50 613.40,600.20" fill="#7c9ebc"/>
<polygon points="613.40,565.00 624.90,545.80 624.90,556.00 613.40,575.00" fill="#8e9cc4" opacity="0.8"/>
<circle cx="110.70" cy="486.60" r="2.1" fill="url(#go)"/>
<circle cx="135.60" cy="483.30" r="2.1" fill="url(#go)"/>
<circle cx="162.20" cy="483.30" r="2.1" fill="url(#go)"/>
<circle cx="146.20" cy="502.70" r="2.0" fill="url(#gv2)"/>
<circle cx="115.60" cy="522.80" r="2.0" fill="url(#gv2)"/>
<circle cx="161.20" cy="522.80" r="2.0" fill="url(#gv2)"/>
<circle cx="133.00" cy="535.60" r="2.0" fill="url(#gv2)"/>
<circle cx="340.54" cy="475.56" r="2.2" fill="url(#gp)"/>
<circle cx="369.98" cy="475.01" r="2.2" fill="url(#gp)"/>
<circle cx="359.63" cy="477.06" r="2.2" fill="url(#gp)"/>
<circle cx="316.62" cy="478.05" r="2.2" fill="url(#gp)"/>
<circle cx="314.77" cy="477.54" r="2.2" fill="url(#gp)"/>
<circle cx="317.69" cy="475.13" r="2.2" fill="url(#gp)"/>
<circle cx="349.61" cy="480.29" r="2.2" fill="url(#gp)"/>
<circle cx="322.54" cy="476.06" r="2.2" fill="url(#gp)"/>
<circle cx="367.87" cy="481.13" r="2.2" fill="url(#gp)"/>
<circle cx="363.34" cy="477.28" r="2.2" fill="url(#gp)"/>
<circle cx="399.26" cy="474.83" r="2.2" fill="url(#gp)"/>
<circle cx="388.66" cy="476.53" r="2.2" fill="url(#gp)"/>
<circle cx="324.38" cy="475.32" r="2.2" fill="url(#gp)"/>
<circle cx="339.16" cy="480.21" r="2.2" fill="url(#gp)"/>
<circle cx="327.67" cy="478.57" r="2.2" fill="url(#gp)"/>
<circle cx="368.90" cy="477.11" r="2.2" fill="url(#gp)"/>
<circle cx="360.70" cy="474.94" r="2.2" fill="url(#gp)"/>
<circle cx="316.76" cy="475.94" r="2.2" fill="url(#gp)"/>
<circle cx="372.64" cy="477.49" r="2.2" fill="url(#gp)"/>
<circle cx="339.67" cy="478.60" r="2.2" fill="url(#gp)"/>
<circle cx="352.19" cy="476.60" r="2.2" fill="url(#gp)"/>
<circle cx="382.89" cy="479.39" r="2.2" fill="url(#gp)"/>
<circle cx="333.37" cy="478.52" r="2.2" fill="url(#gp)"/>
<circle cx="358.67" cy="480.63" r="2.2" fill="url(#gp)"/>
<circle cx="377.05" cy="476.52" r="2.2" fill="url(#gp)"/>
<circle cx="399.62" cy="475.33" r="2.2" fill="url(#gp)"/>
<circle cx="349.03" cy="479.80" r="2.2" fill="url(#gp)"/>
<circle cx="325.08" cy="477.92" r="2.2" fill="url(#gp)"/>
<circle cx="314.93" cy="479.18" r="2.2" fill="url(#gp)"/>
<circle cx="380.21" cy="478.51" r="2.2" fill="url(#gp)"/>
<circle cx="390.19" cy="476.70" r="2.2" fill="url(#gp)"/>
<circle cx="373.98" cy="478.66" r="2.2" fill="url(#gp)"/>
<circle cx="357.91" cy="485.61" r="2.2" fill="url(#go)"/>
<circle cx="382.36" cy="490.00" r="2.2" fill="url(#go)"/>
<circle cx="347.97" cy="487.48" r="2.2" fill="url(#go)"/>
<circle cx="309.10" cy="487.81" r="2.2" fill="url(#go)"/>
<circle cx="364.23" cy="490.44" r="2.2" fill="url(#go)"/>
<circle cx="380.66" cy="484.06" r="2.2" fill="url(#go)"/>
<circle cx="339.66" cy="487.52" r="2.2" fill="url(#go)"/>
<circle cx="305.52" cy="485.66" r="2.2" fill="url(#go)"/>
<circle cx="319.20" cy="482.55" r="2.2" fill="url(#go)"/>
<circle cx="308.94" cy="488.41" r="2.2" fill="url(#go)"/>
<circle cx="315.56" cy="483.73" r="2.2" fill="url(#go)"/>
<circle cx="340.15" cy="489.34" r="2.2" fill="url(#go)"/>
<circle cx="310.97" cy="485.54" r="2.2" fill="url(#go)"/>
<circle cx="355.05" cy="489.45" r="2.2" fill="url(#go)"/>
<circle cx="380.41" cy="489.28" r="2.2" fill="url(#go)"/>
<circle cx="329.57" cy="485.24" r="2.2" fill="url(#go)"/>
<circle cx="337.12" cy="489.46" r="2.2" fill="url(#go)"/>
<circle cx="393.43" cy="482.86" r="2.2" fill="url(#go)"/>
<circle cx="319.96" cy="483.59" r="2.2" fill="url(#go)"/>
<circle cx="325.33" cy="485.86" r="2.2" fill="url(#go)"/>
<circle cx="358.78" cy="483.86" r="2.2" fill="url(#go)"/>
<circle cx="303.78" cy="485.27" r="2.2" fill="url(#go)"/>
<circle cx="338.11" cy="486.60" r="2.2" fill="url(#go)"/>
<circle cx="392.99" cy="487.71" r="2.2" fill="url(#go)"/>
<circle cx="351.86" cy="487.06" r="2.2" fill="url(#go)"/>
<circle cx="366.96" cy="481.99" r="2.2" fill="url(#go)"/>
<circle cx="387.96" cy="488.52" r="2.2" fill="url(#go)"/>
<circle cx="385.60" cy="488.68" r="2.2" fill="url(#go)"/>
<circle cx="340.28" cy="485.09" r="2.2" fill="url(#go)"/>
<circle cx="313.13" cy="487.21" r="2.2" fill="url(#go)"/>
<circle cx="309.25" cy="482.11" r="2.2" fill="url(#go)"/>
<circle cx="323.02" cy="482.96" r="2.2" fill="url(#go)"/>
<circle cx="335.37" cy="481.97" r="2.2" fill="url(#go)"/>
<circle cx="303.42" cy="482.86" r="2.2" fill="url(#go)"/>
<circle cx="312.94" cy="484.77" r="2.2" fill="url(#go)"/>
<circle cx="305.80" cy="489.37" r="2.2" fill="url(#go)"/>
<circle cx="361.12" cy="482.84" r="2.2" fill="url(#go)"/>
<circle cx="327.11" cy="484.63" r="2.2" fill="url(#go)"/>
<circle cx="337.63" cy="482.61" r="2.2" fill="url(#go)"/>
<circle cx="383.20" cy="490.44" r="2.2" fill="url(#go)"/>
<circle cx="347.20" cy="485.85" r="2.2" fill="url(#go)"/>
<circle cx="311.47" cy="482.42" r="2.2" fill="url(#go)"/>
<circle cx="351.70" cy="559.94" r="2.0" fill="url(#gv)"/>
<circle cx="351.64" cy="532.99" r="2.0" fill="url(#gv)"/>
<circle cx="346.59" cy="493.53" r="2.0" fill="url(#gv)"/>
<circle cx="354.76" cy="563.18" r="2.0" fill="url(#gv)"/>
<circle cx="351.84" cy="498.60" r="2.0" fill="url(#gv)"/>
<circle cx="348.40" cy="490.76" r="2.0" fill="url(#gv)"/>
<circle cx="350.79" cy="488.41" r="2.0" fill="url(#gv)"/>
<circle cx="354.17" cy="553.39" r="2.0" fill="url(#gv)"/>
<circle cx="357.04" cy="522.59" r="2.0" fill="url(#gv)"/>
<circle cx="357.87" cy="565.66" r="2.0" fill="url(#gv)"/>
<circle cx="349.09" cy="511.22" r="2.0" fill="url(#gv)"/>
<circle cx="345.89" cy="553.78" r="2.0" fill="url(#gv)"/>
<circle cx="362.94" cy="558.82" r="2.0" fill="url(#gv)"/>
<circle cx="352.94" cy="517.79" r="2.0" fill="url(#gv)"/>
<circle cx="345.22" cy="548.28" r="2.0" fill="url(#gv)"/>
<circle cx="347.82" cy="546.64" r="2.0" fill="url(#gv)"/>
<circle cx="355.06" cy="494.08" r="2.0" fill="url(#gv)"/>
<circle cx="354.07" cy="521.79" r="2.0" fill="url(#gv)"/>
<circle cx="348.05" cy="495.32" r="2.0" fill="url(#gv)"/>
<circle cx="357.93" cy="550.27" r="2.0" fill="url(#gv)"/>
<circle cx="355.70" cy="502.86" r="2.0" fill="url(#gv)"/>
<circle cx="357.31" cy="537.35" r="2.0" fill="url(#gv)"/>
<circle cx="354.73" cy="503.06" r="2.0" fill="url(#gv)"/>
<circle cx="346.64" cy="512.32" r="2.0" fill="url(#gv)"/>
<circle cx="356.65" cy="515.74" r="2.0" fill="url(#gv)"/>
<circle cx="344.41" cy="555.32" r="2.0" fill="url(#gv)"/>
<circle cx="354.30" cy="505.96" r="2.0" fill="url(#gv)"/>
<circle cx="363.31" cy="561.23" r="2.0" fill="url(#gv)"/>
<circle cx="349.81" cy="556.58" r="2.0" fill="url(#gv)"/>
<circle cx="357.05" cy="494.31" r="2.0" fill="url(#gv)"/>
<circle cx="347.71" cy="533.72" r="2.0" fill="url(#gv)"/>
<circle cx="347.87" cy="543.63" r="2.0" fill="url(#gv)"/>
<circle cx="356.41" cy="535.14" r="2.0" fill="url(#gv)"/>
<circle cx="348.76" cy="502.32" r="2.0" fill="url(#gv)"/>
<circle cx="347.91" cy="521.66" r="2.0" fill="url(#gv)"/>
<circle cx="356.19" cy="496.53" r="2.0" fill="url(#gv)"/>
<circle cx="357.13" cy="564.44" r="2.0" fill="url(#gv)"/>
<circle cx="346.09" cy="532.76" r="2.0" fill="url(#gv)"/>
<circle cx="354.04" cy="555.08" r="2.0" fill="url(#gv)"/>
<circle cx="353.14" cy="534.71" r="2.0" fill="url(#gv)"/>
<circle cx="358.45" cy="565.47" r="2.0" fill="url(#gv)"/>
<circle cx="355.43" cy="532.48" r="2.0" fill="url(#gv)"/>
<circle cx="353.73" cy="524.48" r="2.0" fill="url(#gv)"/>
<circle cx="339.46" cy="559.64" r="2.0" fill="url(#gv)"/>
<circle cx="356.32" cy="502.21" r="2.0" fill="url(#gv)"/>
<circle cx="356.18" cy="538.80" r="2.0" fill="url(#gv)"/>
<circle cx="355.14" cy="501.88" r="2.0" fill="url(#gv)"/>
<circle cx="351.46" cy="511.32" r="2.0" fill="url(#gv)"/>
<circle cx="350.93" cy="508.14" r="2.0" fill="url(#gv)"/>
<circle cx="350.50" cy="508.01" r="2.0" fill="url(#gv)"/>
<circle cx="338.93" cy="564.56" r="2.0" fill="url(#gv)"/>
<circle cx="354.88" cy="531.65" r="2.0" fill="url(#gv)"/>
<circle cx="350.96" cy="487.53" r="2.0" fill="url(#gv)"/>
<circle cx="346.18" cy="504.99" r="2.0" fill="url(#gv)"/>
<circle cx="353.04" cy="536.33" r="2.0" fill="url(#gv)"/>
<circle cx="343.18" cy="562.68" r="2.0" fill="url(#gv)"/>
<circle cx="346.02" cy="524.01" r="2.0" fill="url(#gv)"/>
<circle cx="349.65" cy="500.33" r="2.0" fill="url(#gv)"/>
<circle cx="361.67" cy="558.50" r="2.0" fill="url(#gv)"/>
<circle cx="350.88" cy="543.79" r="2.0" fill="url(#gv)"/>
<circle cx="355.52" cy="561.54" r="2.0" fill="url(#gv)"/>
<circle cx="356.81" cy="543.41" r="2.0" fill="url(#gv)"/>
<circle cx="343.22" cy="554.46" r="2.0" fill="url(#gv)"/>
<circle cx="344.52" cy="547.46" r="2.0" fill="url(#gv)"/>
<circle cx="356.61" cy="550.73" r="2.0" fill="url(#gv)"/>
<circle cx="354.95" cy="499.83" r="2.0" fill="url(#gv)"/>
<circle cx="351.70" cy="497.24" r="2.0" fill="url(#gv)"/>
<circle cx="351.82" cy="492.88" r="2.0" fill="url(#gv)"/>
<circle cx="347.90" cy="553.49" r="2.0" fill="url(#gv)"/>
<circle cx="359.58" cy="558.04" r="2.0" fill="url(#gv)"/>
<circle cx="353.58" cy="563.48" r="2.0" fill="url(#gv)"/>
<circle cx="354.92" cy="527.28" r="2.0" fill="url(#gv)"/>
<circle cx="351.98" cy="541.28" r="2.0" fill="url(#gv)"/>
<circle cx="350.83" cy="559.87" r="2.0" fill="url(#gv)"/>
<circle cx="355.29" cy="496.16" r="2.0" fill="url(#gv)"/>
<circle cx="347.29" cy="558.04" r="2.0" fill="url(#gv)"/>
<circle cx="358.49" cy="560.02" r="2.0" fill="url(#gv)"/>
<circle cx="348.23" cy="487.82" r="2.0" fill="url(#gv)"/>
<circle cx="349.71" cy="540.96" r="2.0" fill="url(#gv)"/>
<circle cx="354.22" cy="535.58" r="2.0" fill="url(#gv)"/>
<circle cx="351.86" cy="506.04" r="2.0" fill="url(#gv)"/>
<circle cx="350.54" cy="520.94" r="2.0" fill="url(#gv)"/>
<circle cx="348.12" cy="528.35" r="2.0" fill="url(#gv)"/>
<circle cx="356.33" cy="511.27" r="2.0" fill="url(#gv)"/>
<circle cx="345.76" cy="557.00" r="2.0" fill="url(#gv)"/>
<circle cx="346.04" cy="544.13" r="2.0" fill="url(#gv)"/>
<circle cx="356.84" cy="552.57" r="2.0" fill="url(#gv)"/>
<circle cx="353.72" cy="496.08" r="2.0" fill="url(#gv)"/>
<circle cx="353.69" cy="487.42" r="2.0" fill="url(#gv)"/>
<circle cx="354.19" cy="546.65" r="2.0" fill="url(#gv)"/>
<circle cx="346.80" cy="501.12" r="2.0" fill="url(#gv)"/>
<circle cx="347.95" cy="497.72" r="2.0" fill="url(#gv)"/>
<circle cx="340.48" cy="560.15" r="2.0" fill="url(#gv)"/>
<circle cx="358.68" cy="562.12" r="2.0" fill="url(#gv)"/>
<circle cx="351.67" cy="512.15" r="2.0" fill="url(#gv)"/>
<circle cx="350.62" cy="553.54" r="2.0" fill="url(#gv)"/>
<circle cx="347.25" cy="545.15" r="2.0" fill="url(#gv)"/>
<circle cx="349.58" cy="554.86" r="2.0" fill="url(#gv)"/>
<circle cx="344.34" cy="564.61" r="2.0" fill="url(#gv)"/>
<circle cx="358.15" cy="558.90" r="2.0" fill="url(#gv)"/>
<circle cx="358.39" cy="551.17" r="2.0" fill="url(#gv)"/>
<circle cx="357.22" cy="556.39" r="2.0" fill="url(#gv)"/>
<circle cx="354.77" cy="547.22" r="2.0" fill="url(#gv)"/>
<circle cx="351.13" cy="491.64" r="2.0" fill="url(#gv)"/>
<circle cx="353.16" cy="486.85" r="2.0" fill="url(#gv)"/>
<circle cx="356.75" cy="535.92" r="2.0" fill="url(#gv)"/>
<circle cx="353.41" cy="539.29" r="2.0" fill="url(#gv)"/>
<circle cx="350.13" cy="545.10" r="2.0" fill="url(#gv)"/>
<circle cx="350.01" cy="490.04" r="2.0" fill="url(#gv)"/>
<circle cx="356.37" cy="493.88" r="2.0" fill="url(#gv)"/>
<circle cx="365.55" cy="563.37" r="2.0" fill="url(#gv)"/>
<circle cx="357.75" cy="546.74" r="2.0" fill="url(#gv)"/>
<circle cx="347.53" cy="498.79" r="2.0" fill="url(#gv)"/>
<circle cx="349.00" cy="533.83" r="2.0" fill="url(#gv)"/>
<circle cx="348.56" cy="509.68" r="2.0" fill="url(#gv)"/>
<circle cx="354.56" cy="489.42" r="2.0" fill="url(#gv)"/>
<circle cx="358.44" cy="545.87" r="2.0" fill="url(#gv)"/>
<circle cx="362.27" cy="561.56" r="2.0" fill="url(#gv)"/>
<circle cx="352.17" cy="563.85" r="2.0" fill="url(#gv)"/>
<circle cx="350.68" cy="560.98" r="2.0" fill="url(#gv)"/>
<circle cx="354.54" cy="564.31" r="2.0" fill="url(#gv)"/>
<circle cx="346.52" cy="522.46" r="2.0" fill="url(#gv)"/>
<circle cx="350.85" cy="528.25" r="2.0" fill="url(#gv)"/>
<circle cx="348.65" cy="539.43" r="2.0" fill="url(#gv)"/>
<circle cx="354.73" cy="532.58" r="2.0" fill="url(#gv)"/>
<circle cx="344.38" cy="562.21" r="2.0" fill="url(#gv)"/>
<circle cx="353.58" cy="514.73" r="2.0" fill="url(#gv)"/>
<circle cx="357.23" cy="501.19" r="2.0" fill="url(#gv)"/>
<circle cx="348.75" cy="489.16" r="2.0" fill="url(#gv)"/>
<circle cx="353.62" cy="491.80" r="2.0" fill="url(#gv)"/>
<circle cx="354.40" cy="502.85" r="2.0" fill="url(#gv)"/>
<circle cx="344.35" cy="553.08" r="2.0" fill="url(#gv)"/>
<circle cx="350.38" cy="547.50" r="2.0" fill="url(#gv)"/>
<circle cx="352.96" cy="565.13" r="2.0" fill="url(#gv)"/>
<circle cx="347.06" cy="520.21" r="2.0" fill="url(#gv)"/>
<circle cx="342.74" cy="556.01" r="2.0" fill="url(#gv)"/>
<circle cx="354.89" cy="540.83" r="2.0" fill="url(#gv)"/>
<circle cx="353.45" cy="492.09" r="2.0" fill="url(#gv)"/>
<circle cx="354.20" cy="492.54" r="2.0" fill="url(#gv)"/>
<circle cx="347.01" cy="541.52" r="2.0" fill="url(#gv)"/>
<circle cx="353.85" cy="515.31" r="2.0" fill="url(#gv)"/>
<circle cx="350.35" cy="510.38" r="2.0" fill="url(#gv)"/>
<circle cx="349.93" cy="505.86" r="2.0" fill="url(#gv)"/>
<circle cx="350.24" cy="515.06" r="2.0" fill="url(#gv)"/>
<circle cx="356.99" cy="549.77" r="2.0" fill="url(#gv)"/>
<circle cx="354.49" cy="531.02" r="2.0" fill="url(#gv)"/>
<circle cx="341.24" cy="556.47" r="2.0" fill="url(#gv)"/>
<circle cx="344.90" cy="549.05" r="2.0" fill="url(#gv)"/>
<circle cx="348.17" cy="537.92" r="2.0" fill="url(#gv)"/>
<circle cx="355.39" cy="547.23" r="2.0" fill="url(#gv)"/>
<circle cx="356.71" cy="517.55" r="2.0" fill="url(#gv)"/>
<circle cx="347.60" cy="519.73" r="2.0" fill="url(#gv)"/>
<circle cx="348.19" cy="516.04" r="2.0" fill="url(#gv)"/>
<circle cx="356.67" cy="520.00" r="2.0" fill="url(#gv)"/>
<circle cx="346.88" cy="490.74" r="2.0" fill="url(#gv)"/>
<circle cx="351.01" cy="500.35" r="2.0" fill="url(#gv)"/>
<circle cx="347.71" cy="488.91" r="2.0" fill="url(#gv)"/>
<circle cx="354.07" cy="503.39" r="2.0" fill="url(#gv)"/>
<circle cx="347.82" cy="533.58" r="2.0" fill="url(#gv)"/>
<circle cx="354.48" cy="508.48" r="2.0" fill="url(#gv)"/>
<circle cx="347.30" cy="551.37" r="2.0" fill="url(#gv)"/>
<circle cx="343.81" cy="562.56" r="2.0" fill="url(#gv)"/>
<circle cx="351.96" cy="550.11" r="2.0" fill="url(#gv)"/>
<circle cx="357.07" cy="527.27" r="2.0" fill="url(#gv)"/>
<circle cx="345.66" cy="538.60" r="2.0" fill="url(#gv)"/>
<circle cx="354.82" cy="523.81" r="2.0" fill="url(#gv)"/>
<circle cx="349.36" cy="498.58" r="2.0" fill="url(#gv)"/>
<circle cx="352.55" cy="565.45" r="2.0" fill="url(#gv)"/>
<circle cx="354.10" cy="492.59" r="2.0" fill="url(#gv)"/>
<circle cx="351.12" cy="493.77" r="2.0" fill="url(#gv)"/>
<circle cx="361.31" cy="562.44" r="2.0" fill="url(#gv)"/>
<circle cx="355.29" cy="528.05" r="2.0" fill="url(#gv)"/>
<circle cx="346.64" cy="510.91" r="2.0" fill="url(#gv)"/>
<circle cx="353.97" cy="510.46" r="2.0" fill="url(#gv)"/>
<circle cx="351.04" cy="494.46" r="2.0" fill="url(#gv)"/>
<circle cx="355.86" cy="563.35" r="2.0" fill="url(#gv)"/>
<circle cx="354.02" cy="486.99" r="2.0" fill="url(#gv)"/>
<circle cx="356.97" cy="522.65" r="2.0" fill="url(#gv)"/>
<circle cx="353.41" cy="549.96" r="2.0" fill="url(#gv)"/>
<circle cx="351.96" cy="509.23" r="2.0" fill="url(#gv)"/>
<circle cx="350.26" cy="509.86" r="2.0" fill="url(#gv)"/>
<circle cx="347.91" cy="539.34" r="2.0" fill="url(#gv)"/>
<circle cx="357.59" cy="544.52" r="2.0" fill="url(#gv)"/>
<circle cx="346.63" cy="493.38" r="2.0" fill="url(#gv)"/>
<circle cx="355.54" cy="500.39" r="2.0" fill="url(#gv)"/>
<circle cx="348.31" cy="533.42" r="2.0" fill="url(#gv)"/>
<circle cx="350.38" cy="498.57" r="2.0" fill="url(#gv)"/>
<circle cx="348.50" cy="551.69" r="2.0" fill="url(#gv)"/>
<circle cx="350.40" cy="518.97" r="2.0" fill="url(#gv)"/>
<circle cx="349.52" cy="534.69" r="2.0" fill="url(#gv)"/>
<circle cx="351.61" cy="494.50" r="2.0" fill="url(#gv)"/>
<circle cx="354.63" cy="534.91" r="2.0" fill="url(#gv)"/>
<circle cx="348.07" cy="558.24" r="2.0" fill="url(#gv)"/>
<circle cx="353.91" cy="526.03" r="2.0" fill="url(#gv)"/>
<circle cx="357.95" cy="564.94" r="2.0" fill="url(#gv)"/>
<circle cx="359.79" cy="552.84" r="2.0" fill="url(#gv)"/>
<circle cx="346.58" cy="536.17" r="2.0" fill="url(#gv)"/>
<circle cx="356.93" cy="541.77" r="2.0" fill="url(#gv)"/>
<circle cx="347.27" cy="514.90" r="2.0" fill="url(#gv)"/>
<circle cx="363.17" cy="563.89" r="2.0" fill="url(#gv)"/>
<circle cx="356.22" cy="530.83" r="2.0" fill="url(#gv)"/>
<circle cx="354.58" cy="565.37" r="2.0" fill="url(#gv)"/>
<circle cx="352.38" cy="552.46" r="2.0" fill="url(#gv)"/>
<circle cx="347.66" cy="492.10" r="2.0" fill="url(#gv)"/>
<circle cx="356.24" cy="564.96" r="2.0" fill="url(#gv)"/>
<circle cx="352.78" cy="545.01" r="2.0" fill="url(#gv)"/>
<circle cx="346.47" cy="550.31" r="2.0" fill="url(#gv)"/>
<circle cx="350.23" cy="523.44" r="2.0" fill="url(#gv)"/>
<circle cx="351.73" cy="531.56" r="2.0" fill="url(#gv)"/>
<circle cx="350.46" cy="534.01" r="2.0" fill="url(#gv)"/>
<circle cx="352.23" cy="518.72" r="2.0" fill="url(#gv)"/>
<circle cx="352.09" cy="558.42" r="2.0" fill="url(#gv)"/>
<circle cx="354.08" cy="511.66" r="2.0" fill="url(#gv)"/>
<circle cx="353.74" cy="558.01" r="2.0" fill="url(#gv)"/>
<circle cx="352.84" cy="546.15" r="2.0" fill="url(#gv)"/>
<circle cx="350.86" cy="491.58" r="2.0" fill="url(#gv)"/>
<circle cx="346.43" cy="526.21" r="2.0" fill="url(#gv)"/>
<circle cx="350.27" cy="505.13" r="2.0" fill="url(#gv)"/>
<circle cx="356.34" cy="504.87" r="2.0" fill="url(#gv)"/>
<circle cx="361.88" cy="563.32" r="2.0" fill="url(#gv)"/>
<circle cx="344.57" cy="562.08" r="2.0" fill="url(#gv)"/>
<circle cx="346.47" cy="509.94" r="2.0" fill="url(#gv)"/>
<circle cx="352.45" cy="517.78" r="2.0" fill="url(#gv)"/>
<circle cx="356.28" cy="489.67" r="2.0" fill="url(#gv)"/>
<circle cx="349.21" cy="523.81" r="2.0" fill="url(#gv)"/>
<circle cx="355.56" cy="565.63" r="2.0" fill="url(#gv)"/>
<circle cx="354.21" cy="490.00" r="2.0" fill="url(#gv)"/>
<circle cx="343.95" cy="555.57" r="2.0" fill="url(#gv)"/>
<circle cx="348.43" cy="521.61" r="2.0" fill="url(#gv)"/>
<circle cx="348.35" cy="501.72" r="2.0" fill="url(#gv)"/>
<circle cx="345.60" cy="556.76" r="2.0" fill="url(#gv)"/>
<circle cx="353.17" cy="539.36" r="2.0" fill="url(#gv)"/>
<circle cx="352.64" cy="528.46" r="2.0" fill="url(#gv)"/>
<circle cx="355.01" cy="508.76" r="2.0" fill="url(#gv)"/>
<circle cx="354.57" cy="492.97" r="2.0" fill="url(#gv)"/>
<circle cx="352.06" cy="505.67" r="2.0" fill="url(#gv)"/>
<circle cx="350.35" cy="565.02" r="2.0" fill="url(#gv)"/>
<circle cx="357.62" cy="546.05" r="2.0" fill="url(#gv)"/>
<circle cx="352.13" cy="525.99" r="2.0" fill="url(#gv)"/>
<circle cx="353.38" cy="537.60" r="2.0" fill="url(#gv)"/>
<circle cx="351.59" cy="548.64" r="2.0" fill="url(#gv)"/>
<circle cx="354.71" cy="504.83" r="2.0" fill="url(#gv)"/>
<circle cx="352.59" cy="525.92" r="2.0" fill="url(#gv)"/>
<circle cx="344.23" cy="555.83" r="2.0" fill="url(#gv)"/>
<circle cx="348.88" cy="520.77" r="2.0" fill="url(#gv)"/>
<circle cx="358.18" cy="549.88" r="2.0" fill="url(#gv)"/>
<circle cx="345.84" cy="549.33" r="2.0" fill="url(#gv)"/>
<circle cx="349.37" cy="510.88" r="2.0" fill="url(#gv)"/>
<circle cx="347.42" cy="499.73" r="2.0" fill="url(#gv)"/>
<circle cx="350.10" cy="548.94" r="2.0" fill="url(#gv)"/>
<circle cx="356.79" cy="515.15" r="2.0" fill="url(#gv)"/>
<circle cx="354.44" cy="497.57" r="2.0" fill="url(#gv)"/>
<circle cx="356.18" cy="489.14" r="2.0" fill="url(#gv)"/>
<circle cx="349.08" cy="497.32" r="2.0" fill="url(#gv)"/>
<circle cx="346.38" cy="519.96" r="2.0" fill="url(#gv)"/>
<circle cx="358.68" cy="565.69" r="2.0" fill="url(#gv)"/>
<circle cx="352.11" cy="504.39" r="2.0" fill="url(#gv)"/>
<circle cx="356.57" cy="505.33" r="2.0" fill="url(#gv)"/>
<circle cx="356.91" cy="515.12" r="2.0" fill="url(#gv)"/>
<circle cx="350.36" cy="534.87" r="2.0" fill="url(#gv)"/>
<circle cx="349.63" cy="537.98" r="2.0" fill="url(#gv)"/>
<circle cx="355.33" cy="523.01" r="2.0" fill="url(#gv)"/>
<circle cx="347.75" cy="503.23" r="2.0" fill="url(#gv)"/>
<circle cx="348.09" cy="529.96" r="2.0" fill="url(#gv)"/>
<circle cx="349.23" cy="503.16" r="2.0" fill="url(#gv)"/>
<circle cx="346.42" cy="502.37" r="2.0" fill="url(#gv)"/>
<circle cx="348.68" cy="541.31" r="2.0" fill="url(#gv)"/>
<circle cx="348.65" cy="487.49" r="2.0" fill="url(#gv)"/>
<circle cx="349.67" cy="543.22" r="2.0" fill="url(#gv)"/>
<circle cx="350.11" cy="487.63" r="2.0" fill="url(#gv)"/>
<circle cx="350.29" cy="527.54" r="2.0" fill="url(#gv)"/>
<circle cx="347.40" cy="505.06" r="2.0" fill="url(#gv)"/>
<circle cx="349.31" cy="533.63" r="2.0" fill="url(#gv)"/>
<circle cx="347.97" cy="539.29" r="2.0" fill="url(#gv)"/>
<circle cx="355.55" cy="518.42" r="2.0" fill="url(#gv)"/>
<circle cx="349.67" cy="504.08" r="2.0" fill="url(#gv)"/>
<circle cx="345.87" cy="503.26" r="2.0" fill="url(#gv)"/>
<circle cx="356.14" cy="559.53" r="2.0" fill="url(#gv)"/>
<circle cx="354.23" cy="555.47" r="2.0" fill="url(#gv)"/>
<circle cx="350.21" cy="493.19" r="2.0" fill="url(#gv)"/>
<circle cx="349.44" cy="490.81" r="2.0" fill="url(#gv)"/>
<circle cx="347.65" cy="525.77" r="2.0" fill="url(#gv)"/>
<circle cx="349.64" cy="505.18" r="2.0" fill="url(#gv)"/>
<circle cx="352.41" cy="519.78" r="2.0" fill="url(#gv)"/>
<circle cx="350.11" cy="542.01" r="2.0" fill="url(#gv)"/>
<circle cx="350.42" cy="515.14" r="2.0" fill="url(#gv)"/>
<circle cx="349.47" cy="532.87" r="2.0" fill="url(#gv)"/>
<circle cx="349.71" cy="506.27" r="2.0" fill="url(#gv)"/>
<circle cx="346.18" cy="557.34" r="2.0" fill="url(#gv)"/>
<circle cx="351.13" cy="539.44" r="2.0" fill="url(#gv)"/>
<circle cx="354.86" cy="561.39" r="2.0" fill="url(#gv)"/>
<circle cx="350.51" cy="535.67" r="2.0" fill="url(#gv)"/>
<circle cx="360.26" cy="556.38" r="2.0" fill="url(#gv)"/>
<circle cx="351.58" cy="489.05" r="2.0" fill="url(#gv)"/>
<circle cx="356.97" cy="510.69" r="2.0" fill="url(#gv)"/>
<circle cx="348.24" cy="497.99" r="2.0" fill="url(#gv)"/>
<circle cx="345.43" cy="540.41" r="2.0" fill="url(#gv)"/>
<circle cx="348.51" cy="529.50" r="2.0" fill="url(#gv)"/>
<circle cx="347.13" cy="563.51" r="2.0" fill="url(#gv)"/>
<circle cx="356.23" cy="556.91" r="2.0" fill="url(#gv)"/>
<circle cx="341.93" cy="563.11" r="2.0" fill="url(#gv)"/>
<circle cx="349.02" cy="531.11" r="2.0" fill="url(#gv)"/>
<circle cx="347.76" cy="545.92" r="2.0" fill="url(#gv)"/>
<circle cx="347.73" cy="505.94" r="2.0" fill="url(#gv)"/>
<circle cx="346.54" cy="527.10" r="2.0" fill="url(#gv)"/>
<circle cx="353.96" cy="491.49" r="2.0" fill="url(#gv)"/>
<circle cx="354.77" cy="495.02" r="2.0" fill="url(#gv)"/>
<circle cx="355.61" cy="524.46" r="2.0" fill="url(#gv)"/>
<circle cx="346.41" cy="555.59" r="2.0" fill="url(#gv)"/>
<circle cx="354.45" cy="512.15" r="2.0" fill="url(#gv)"/>
<circle cx="353.89" cy="531.40" r="2.0" fill="url(#gv)"/>
<circle cx="349.46" cy="550.10" r="2.0" fill="url(#gv)"/>
<circle cx="347.72" cy="539.55" r="2.0" fill="url(#gv)"/>
<circle cx="357.92" cy="565.10" r="2.0" fill="url(#gv)"/>
<circle cx="348.93" cy="495.47" r="2.0" fill="url(#gv)"/>
<circle cx="345.82" cy="495.61" r="2.0" fill="url(#gv)"/>
<circle cx="354.87" cy="515.87" r="2.0" fill="url(#gv)"/>
<circle cx="349.46" cy="553.10" r="2.0" fill="url(#gv)"/>
<circle cx="357.22" cy="564.48" r="2.0" fill="url(#gv)"/>
<circle cx="346.79" cy="497.75" r="2.0" fill="url(#gv)"/>
<circle cx="351.20" cy="560.68" r="2.0" fill="url(#gv)"/>
<circle cx="345.73" cy="495.63" r="2.0" fill="url(#gv)"/>
<circle cx="352.95" cy="531.27" r="2.0" fill="url(#gv)"/>
<circle cx="351.29" cy="507.92" r="2.0" fill="url(#gv)"/>
<circle cx="346.46" cy="515.27" r="2.0" fill="url(#gv)"/>
<circle cx="347.86" cy="510.75" r="2.0" fill="url(#gv)"/>
<circle cx="354.95" cy="524.74" r="2.0" fill="url(#gv)"/>
<circle cx="352.06" cy="517.68" r="2.0" fill="url(#gv)"/>
<circle cx="345.11" cy="544.00" r="2.0" fill="url(#gv)"/>
<circle cx="346.40" cy="499.51" r="2.0" fill="url(#gv)"/>
<circle cx="332.80" cy="499.20" r="1.8" fill="url(#gr2)"/>
<circle cx="340.70" cy="536.10" r="2.0" fill="url(#gv2)"/>
<circle cx="547.65" cy="479.33" r="2.2" fill="url(#gp)"/>
<circle cx="589.95" cy="477.85" r="2.2" fill="url(#gp)"/>
<circle cx="552.24" cy="480.05" r="2.2" fill="url(#gp)"/>
<circle cx="605.51" cy="478.09" r="2.2" fill="url(#gp)"/>
<circle cx="578.26" cy="476.15" r="2.2" fill="url(#gp)"/>
<circle cx="533.09" cy="477.10" r="2.2" fill="url(#gp)"/>
<circle cx="585.48" cy="474.98" r="2.2" fill="url(#gp)"/>
<circle cx="604.24" cy="476.13" r="2.2" fill="url(#gp)"/>
<circle cx="553.74" cy="474.80" r="2.2" fill="url(#gp)"/>
<circle cx="622.58" cy="479.67" r="2.2" fill="url(#gp)"/>
<circle cx="611.55" cy="478.81" r="2.2" fill="url(#gp)"/>
<circle cx="535.87" cy="476.80" r="2.2" fill="url(#gp)"/>
<circle cx="577.58" cy="475.31" r="2.2" fill="url(#gp)"/>
<circle cx="618.48" cy="477.08" r="2.2" fill="url(#gp)"/>
<circle cx="546.73" cy="480.22" r="2.2" fill="url(#gp)"/>
<circle cx="544.04" cy="481.00" r="2.2" fill="url(#gp)"/>
<circle cx="567.39" cy="486.47" r="2.2" fill="url(#go)"/>
<circle cx="557.03" cy="485.86" r="2.2" fill="url(#go)"/>
<circle cx="542.37" cy="481.83" r="2.2" fill="url(#go)"/>
<circle cx="606.19" cy="483.61" r="2.2" fill="url(#go)"/>
<circle cx="598.14" cy="483.38" r="2.2" fill="url(#go)"/>
<circle cx="615.86" cy="489.55" r="2.2" fill="url(#go)"/>
<circle cx="595.75" cy="488.37" r="2.2" fill="url(#go)"/>
<circle cx="579.39" cy="488.07" r="2.2" fill="url(#go)"/>
<circle cx="536.31" cy="485.79" r="2.2" fill="url(#go)"/>
<circle cx="602.54" cy="483.31" r="2.2" fill="url(#go)"/>
<circle cx="611.58" cy="489.49" r="2.2" fill="url(#go)"/>
<circle cx="563.30" cy="484.79" r="2.2" fill="url(#go)"/>
<circle cx="567.22" cy="484.97" r="2.2" fill="url(#go)"/>
<circle cx="618.32" cy="484.98" r="2.2" fill="url(#go)"/>
<circle cx="527.32" cy="482.34" r="2.2" fill="url(#go)"/>
<circle cx="592.30" cy="490.44" r="2.2" fill="url(#go)"/>
<circle cx="571.43" cy="485.92" r="2.2" fill="url(#go)"/>
<circle cx="576.54" cy="488.23" r="2.2" fill="url(#go)"/>
<circle cx="583.73" cy="561.53" r="1.9" fill="url(#gv)"/>
<circle cx="572.12" cy="532.34" r="1.9" fill="url(#gv)"/>
<circle cx="578.58" cy="547.49" r="1.9" fill="url(#gv)"/>
<circle cx="575.86" cy="497.01" r="1.9" fill="url(#gv)"/>
<circle cx="576.59" cy="503.55" r="1.9" fill="url(#gv)"/>
<circle cx="583.24" cy="555.92" r="1.9" fill="url(#gv)"/>
<circle cx="571.70" cy="557.61" r="1.9" fill="url(#gv)"/>
<circle cx="572.76" cy="500.11" r="1.9" fill="url(#gv)"/>
<circle cx="576.19" cy="513.69" r="1.9" fill="url(#gv)"/>
<circle cx="574.37" cy="524.98" r="1.9" fill="url(#gv)"/>
<circle cx="579.88" cy="542.67" r="1.9" fill="url(#gv)"/>
<circle cx="579.48" cy="553.75" r="1.9" fill="url(#gv)"/>
<circle cx="573.68" cy="487.72" r="1.9" fill="url(#gv)"/>
<circle cx="580.55" cy="562.46" r="1.9" fill="url(#gv)"/>
<circle cx="573.05" cy="530.07" r="1.9" fill="url(#gv)"/>
<circle cx="573.06" cy="501.02" r="1.9" fill="url(#gv)"/>
<circle cx="576.43" cy="499.76" r="1.9" fill="url(#gv)"/>
<circle cx="572.47" cy="529.15" r="1.9" fill="url(#gv)"/>
<circle cx="578.42" cy="553.24" r="1.9" fill="url(#gv)"/>
<circle cx="581.23" cy="562.03" r="1.9" fill="url(#gv)"/>
<circle cx="586.86" cy="565.94" r="1.9" fill="url(#gv)"/>
<circle cx="571.93" cy="544.63" r="1.9" fill="url(#gv)"/>
<circle cx="573.79" cy="518.90" r="1.9" fill="url(#gv)"/>
<circle cx="577.72" cy="565.08" r="1.9" fill="url(#gv)"/>
<circle cx="571.56" cy="526.45" r="1.9" fill="url(#gv)"/>
<circle cx="579.83" cy="555.52" r="1.9" fill="url(#gv)"/>
<circle cx="583.45" cy="555.72" r="1.9" fill="url(#gv)"/>
<circle cx="575.20" cy="562.56" r="1.9" fill="url(#gv)"/>
<circle cx="578.85" cy="561.05" r="1.9" fill="url(#gv)"/>
<circle cx="570.44" cy="543.91" r="1.9" fill="url(#gv)"/>
<circle cx="574.23" cy="536.84" r="1.9" fill="url(#gv)"/>
<circle cx="572.86" cy="504.87" r="1.9" fill="url(#gv)"/>
<circle cx="572.92" cy="512.07" r="1.9" fill="url(#gv)"/>
<circle cx="577.99" cy="533.62" r="1.9" fill="url(#gv)"/>
<circle cx="575.13" cy="516.54" r="1.9" fill="url(#gv)"/>
<circle cx="572.57" cy="562.71" r="1.9" fill="url(#gv)"/>
<circle cx="572.46" cy="551.23" r="1.9" fill="url(#gv)"/>
<circle cx="570.88" cy="563.47" r="1.9" fill="url(#gv)"/>
<circle cx="566.58" cy="557.58" r="1.9" fill="url(#gv)"/>
<circle cx="573.13" cy="557.41" r="1.9" fill="url(#gv)"/>
<circle cx="576.61" cy="504.88" r="1.9" fill="url(#gv)"/>
<circle cx="569.36" cy="559.19" r="1.9" fill="url(#gv)"/>
<circle cx="572.39" cy="564.50" r="1.9" fill="url(#gv)"/>
<circle cx="574.34" cy="525.85" r="1.9" fill="url(#gv)"/>
<circle cx="576.25" cy="522.03" r="1.9" fill="url(#gv)"/>
<circle cx="575.03" cy="552.32" r="1.9" fill="url(#gv)"/>
<circle cx="571.16" cy="548.77" r="1.9" fill="url(#gv)"/>
<circle cx="574.66" cy="513.55" r="1.9" fill="url(#gv)"/>
<circle cx="576.11" cy="523.68" r="1.9" fill="url(#gv)"/>
<circle cx="572.35" cy="533.67" r="1.9" fill="url(#gv)"/>
<circle cx="564.86" cy="557.15" r="1.9" fill="url(#gv)"/>
<circle cx="575.58" cy="548.49" r="1.9" fill="url(#gv)"/>
<circle cx="570.89" cy="554.30" r="1.9" fill="url(#gv)"/>
<circle cx="580.02" cy="552.57" r="1.9" fill="url(#gv)"/>
<circle cx="572.16" cy="541.88" r="1.9" fill="url(#gv)"/>
<circle cx="574.95" cy="513.13" r="1.9" fill="url(#gv)"/>
<circle cx="570.30" cy="551.13" r="1.9" fill="url(#gv)"/>
<circle cx="576.70" cy="539.42" r="1.9" fill="url(#gv)"/>
<circle cx="578.33" cy="542.40" r="1.9" fill="url(#gv)"/>
<circle cx="565.92" cy="562.23" r="1.9" fill="url(#gv)"/>
<circle cx="575.22" cy="519.70" r="1.9" fill="url(#gv)"/>
<circle cx="574.15" cy="490.44" r="1.9" fill="url(#gv)"/>
<circle cx="574.74" cy="492.69" r="1.9" fill="url(#gv)"/>
<circle cx="575.60" cy="516.56" r="1.9" fill="url(#gv)"/>
<circle cx="572.52" cy="527.84" r="1.9" fill="url(#gv)"/>
<circle cx="576.14" cy="538.75" r="1.9" fill="url(#gv)"/>
<circle cx="574.81" cy="494.20" r="1.9" fill="url(#gv)"/>
<circle cx="576.53" cy="524.96" r="1.9" fill="url(#gv)"/>
<circle cx="575.85" cy="491.24" r="1.9" fill="url(#gv)"/>
<circle cx="570.51" cy="540.81" r="1.9" fill="url(#gv)"/>
<circle cx="582.37" cy="563.84" r="1.9" fill="url(#gv)"/>
<circle cx="573.60" cy="514.99" r="1.9" fill="url(#gv)"/>
<circle cx="573.47" cy="535.49" r="1.9" fill="url(#gv)"/>
<circle cx="571.82" cy="518.25" r="1.9" fill="url(#gv)"/>
<circle cx="576.17" cy="502.99" r="1.9" fill="url(#gv)"/>
<circle cx="573.08" cy="557.29" r="1.9" fill="url(#gv)"/>
<circle cx="572.23" cy="523.78" r="1.9" fill="url(#gv)"/>
<circle cx="573.63" cy="499.02" r="1.9" fill="url(#gv)"/>
<circle cx="573.45" cy="499.76" r="1.9" fill="url(#gv)"/>
<circle cx="577.41" cy="525.08" r="1.9" fill="url(#gv)"/>
<circle cx="570.82" cy="544.61" r="1.9" fill="url(#gv)"/>
<circle cx="573.35" cy="488.97" r="1.9" fill="url(#gv)"/>
<circle cx="574.32" cy="515.78" r="1.9" fill="url(#gv)"/>
<circle cx="571.42" cy="543.72" r="1.9" fill="url(#gv)"/>
<circle cx="579.06" cy="538.02" r="1.9" fill="url(#gv)"/>
<circle cx="575.21" cy="487.50" r="1.9" fill="url(#gv)"/>
<circle cx="574.78" cy="519.40" r="1.9" fill="url(#gv)"/>
<circle cx="570.68" cy="565.18" r="1.9" fill="url(#gv)"/>
<circle cx="575.84" cy="494.41" r="1.9" fill="url(#gv)"/>
<circle cx="573.16" cy="491.25" r="1.9" fill="url(#gv)"/>
<circle cx="573.09" cy="518.39" r="1.9" fill="url(#gv)"/>
<circle cx="571.89" cy="519.19" r="1.9" fill="url(#gv)"/>
<circle cx="582.29" cy="559.78" r="1.9" fill="url(#gv)"/>
<circle cx="574.67" cy="503.94" r="1.9" fill="url(#gv)"/>
<circle cx="568.27" cy="552.29" r="1.9" fill="url(#gv)"/>
<circle cx="575.89" cy="511.63" r="1.9" fill="url(#gv)"/>
<circle cx="568.63" cy="551.74" r="1.9" fill="url(#gv)"/>
<circle cx="573.15" cy="493.48" r="1.9" fill="url(#gv)"/>
<circle cx="575.42" cy="506.39" r="1.9" fill="url(#gv)"/>
<circle cx="573.87" cy="490.79" r="1.9" fill="url(#gv)"/>
<circle cx="574.06" cy="516.53" r="1.9" fill="url(#gv)"/>
<circle cx="577.16" cy="532.40" r="1.9" fill="url(#gv)"/>
<circle cx="572.05" cy="517.21" r="1.9" fill="url(#gv)"/>
<circle cx="575.21" cy="500.38" r="1.9" fill="url(#gv)"/>
<circle cx="575.80" cy="509.56" r="1.9" fill="url(#gv)"/>
<circle cx="570.86" cy="531.02" r="1.9" fill="url(#gv)"/>
<circle cx="573.86" cy="535.35" r="1.9" fill="url(#gv)"/>
<circle cx="571.82" cy="515.63" r="1.9" fill="url(#gv)"/>
<circle cx="574.87" cy="544.42" r="1.9" fill="url(#gv)"/>
<circle cx="571.78" cy="549.79" r="1.9" fill="url(#gv)"/>
<circle cx="573.09" cy="559.28" r="1.9" fill="url(#gv)"/>
<circle cx="585.14" cy="560.97" r="1.9" fill="url(#gv)"/>
<circle cx="577.25" cy="534.09" r="1.9" fill="url(#gv)"/>
<circle cx="577.33" cy="520.14" r="1.9" fill="url(#gv)"/>
<circle cx="573.23" cy="518.02" r="1.9" fill="url(#gv)"/>
<circle cx="571.24" cy="535.83" r="1.9" fill="url(#gv)"/>
<circle cx="566.86" cy="552.70" r="1.9" fill="url(#gv)"/>
<circle cx="575.38" cy="500.39" r="1.9" fill="url(#gv)"/>
<circle cx="580.61" cy="558.11" r="1.9" fill="url(#gv)"/>
<circle cx="580.02" cy="555.19" r="1.9" fill="url(#gv)"/>
<circle cx="574.57" cy="516.74" r="1.9" fill="url(#gv)"/>
<circle cx="573.55" cy="533.35" r="1.9" fill="url(#gv)"/>
<circle cx="573.53" cy="512.06" r="1.9" fill="url(#gv)"/>
<circle cx="579.94" cy="542.56" r="1.9" fill="url(#gv)"/>
<circle cx="572.48" cy="509.45" r="1.9" fill="url(#gv)"/>
<circle cx="581.40" cy="557.88" r="1.9" fill="url(#gv)"/>
<circle cx="584.16" cy="557.79" r="1.9" fill="url(#gv)"/>
<circle cx="570.58" cy="529.97" r="1.9" fill="url(#gv)"/>
<circle cx="575.37" cy="517.82" r="1.9" fill="url(#gv)"/>
<circle cx="570.96" cy="535.47" r="1.9" fill="url(#gv)"/>
<circle cx="579.05" cy="543.51" r="1.9" fill="url(#gv)"/>
<circle cx="573.49" cy="503.80" r="1.9" fill="url(#gv)"/>
<circle cx="568.48" cy="547.55" r="1.9" fill="url(#gv)"/>
<circle cx="572.89" cy="556.41" r="1.9" fill="url(#gv)"/>
<circle cx="569.93" cy="558.47" r="1.9" fill="url(#gv)"/>
<circle cx="572.90" cy="501.79" r="1.9" fill="url(#gv)"/>
<circle cx="574.89" cy="501.53" r="1.9" fill="url(#gv)"/>
<circle cx="574.31" cy="544.58" r="1.9" fill="url(#gv)"/>
<circle cx="567.69" cy="553.42" r="1.9" fill="url(#gv)"/>
<circle cx="572.78" cy="502.29" r="1.9" fill="url(#gv)"/>
<circle cx="573.00" cy="495.16" r="1.9" fill="url(#gv)"/>
<circle cx="573.26" cy="545.69" r="1.9" fill="url(#gv)"/>
<circle cx="571.49" cy="529.93" r="1.9" fill="url(#gv)"/>
<circle cx="576.11" cy="534.17" r="1.9" fill="url(#gv)"/>
<circle cx="580.50" cy="561.66" r="1.9" fill="url(#gv)"/>
<circle cx="569.91" cy="543.98" r="1.9" fill="url(#gv)"/>
<circle cx="576.12" cy="524.84" r="1.9" fill="url(#gv)"/>
<circle cx="569.96" cy="559.55" r="1.9" fill="url(#gv)"/>
<circle cx="571.51" cy="549.33" r="1.9" fill="url(#gv)"/>
<circle cx="573.91" cy="528.02" r="1.9" fill="url(#gv)"/>
<circle cx="573.22" cy="492.80" r="1.9" fill="url(#gv)"/>
<circle cx="577.90" cy="529.77" r="1.9" fill="url(#gv)"/>
<circle cx="578.63" cy="551.05" r="1.9" fill="url(#gv)"/>
<circle cx="573.14" cy="515.52" r="1.9" fill="url(#gv)"/>
<circle cx="574.61" cy="523.20" r="1.9" fill="url(#gv)"/>
<circle cx="575.92" cy="491.20" r="1.9" fill="url(#gv)"/>
<circle cx="575.99" cy="493.74" r="1.9" fill="url(#gv)"/>
<circle cx="569.74" cy="541.28" r="1.9" fill="url(#gv)"/>
<circle cx="577.31" cy="558.29" r="1.9" fill="url(#gv)"/>
<circle cx="575.26" cy="489.85" r="1.9" fill="url(#gv)"/>
<circle cx="572.48" cy="565.54" r="1.9" fill="url(#gv)"/>
<circle cx="574.35" cy="496.74" r="1.9" fill="url(#gv)"/>
<circle cx="575.89" cy="502.53" r="1.9" fill="url(#gv)"/>
<circle cx="565.80" cy="562.90" r="1.9" fill="url(#gv)"/>
<circle cx="567.34" cy="561.07" r="1.9" fill="url(#gv)"/>
<circle cx="576.02" cy="520.89" r="1.9" fill="url(#gv)"/>
<circle cx="564.38" cy="564.02" r="1.9" fill="url(#gv)"/>
<circle cx="576.16" cy="563.30" r="1.9" fill="url(#gv)"/>
<circle cx="574.27" cy="544.78" r="1.9" fill="url(#gv)"/>
<circle cx="577.58" cy="542.75" r="1.9" fill="url(#gv)"/>
<circle cx="573.42" cy="514.31" r="1.9" fill="url(#gv)"/>
<circle cx="575.16" cy="560.06" r="1.9" fill="url(#gv)"/>
<circle cx="576.67" cy="510.84" r="1.9" fill="url(#gv)"/>
<circle cx="573.10" cy="545.16" r="1.9" fill="url(#gv)"/>
<circle cx="575.64" cy="560.04" r="1.9" fill="url(#gv)"/>
<circle cx="572.05" cy="552.54" r="1.9" fill="url(#gv)"/>
<circle cx="574.02" cy="491.73" r="1.9" fill="url(#gv)"/>
<circle cx="575.85" cy="507.80" r="1.9" fill="url(#gv)"/>
<circle cx="578.71" cy="545.55" r="1.9" fill="url(#gv)"/>
<circle cx="575.69" cy="536.43" r="1.9" fill="url(#gv)"/>
<circle cx="576.24" cy="506.41" r="1.9" fill="url(#gv)"/>
<circle cx="572.67" cy="500.98" r="1.9" fill="url(#gv)"/>
<circle cx="568.26" cy="545.44" r="1.9" fill="url(#gv)"/>
<circle cx="575.15" cy="495.77" r="1.9" fill="url(#gv)"/>
<circle cx="574.37" cy="494.33" r="1.9" fill="url(#gv)"/>
<circle cx="576.21" cy="543.95" r="1.9" fill="url(#gv)"/>
<circle cx="578.89" cy="553.65" r="1.9" fill="url(#gv)"/>
<circle cx="572.15" cy="507.43" r="1.9" fill="url(#gv)"/>
<circle cx="579.91" cy="546.90" r="1.9" fill="url(#gv)"/>
<circle cx="572.63" cy="523.78" r="1.9" fill="url(#gv)"/>
<circle cx="582.30" cy="495.00" r="1.8" fill="url(#gr2)"/>
<circle cx="594.90" cy="502.00" r="1.8" fill="url(#gr2)"/>
<circle cx="569.70" cy="511.00" r="1.8" fill="url(#gr2)"/>
<circle cx="549.00" cy="538.60" r="1.8" fill="url(#gr2)"/>
<circle cx="595.10" cy="514.20" r="2.0" fill="url(#gv2)"/>
<circle cx="548.70" cy="550.80" r="2.0" fill="url(#gv2)"/>
<circle cx="560.50" cy="560.40" r="2.0" fill="url(#gv2)"/>
<circle cx="591.90" cy="561.70" r="2.0" fill="url(#gv2)"/>
<polygon points="202.30,513.30 256.60,513.30 256.60,503.25 276.90,523.00 256.60,542.75 256.60,532.70 202.30,532.70" fill="#808080"/>
<text x="234.80" y="528.40" font-size="13.3" text-anchor="middle" fill="#fff">Forming</text>
<polygon points="425.80,490.20 480.10,490.20 480.10,480.10 499.80,500.20 480.10,520.30 480.10,510.20 425.80,510.20" fill="#808080"/>
<text x="458.20" y="505.50" font-size="13.3" text-anchor="middle" fill="#fff">Reset</text>
<polygon points="493.20,534.25 438.80,534.25 438.80,524.20 418.80,544.50 438.80,564.80 438.80,554.75 493.20,554.75" fill="#808080"/>
<text x="460.80" y="549.60" font-size="13.3" text-anchor="middle" fill="#fff">Set</text>
<text x="78.10" y="472.60" font-size="11" text-anchor="start" fill="#2a2a2a" font-weight="bold">Al</text>
<text x="78.10" y="490.3" font-size="11" font-weight="bold" fill="#2a2a2a" letter-spacing="-0.2">Al<tspan font-size="6.8" dy="1.2">2</tspan><tspan dy="-1.2">O</tspan><tspan font-size="6.8" dy="1.6">3</tspan></text>
<text x="78.60" y="558.5" font-size="11" font-weight="bold" fill="#2a2a2a">HfO<tspan font-size="7.2" dy="1.8">2</tspan></text>
<text x="78.60" y="570.8" font-size="11" font-weight="bold" fill="#2a2a2a">SiO<tspan font-size="7.2" dy="1.8">x</tspan></text>
<text x="78.60" y="588.8" font-size="11" font-weight="bold" fill="#2a2a2a">P<tspan font-size="7.2" dy="-4">+</tspan><tspan dy="4">- Si</tspan></text>
<text x="297.50" y="472.60" font-size="11" text-anchor="start" fill="#2a2a2a" font-weight="bold">Al</text>
<text x="297.50" y="490.3" font-size="11" font-weight="bold" fill="#2a2a2a" letter-spacing="-0.2">Al<tspan font-size="6.8" dy="1.2">2</tspan><tspan dy="-1.2">O</tspan><tspan font-size="6.8" dy="1.6">3</tspan></text>
<text x="298.00" y="558.5" font-size="11" font-weight="bold" fill="#2a2a2a">HfO<tspan font-size="7.2" dy="1.8">2</tspan></text>
<text x="298.00" y="570.8" font-size="11" font-weight="bold" fill="#2a2a2a">SiO<tspan font-size="7.2" dy="1.8">x</tspan></text>
<text x="298.00" y="588.8" font-size="11" font-weight="bold" fill="#2a2a2a">P<tspan font-size="7.2" dy="-4">+</tspan><tspan dy="4">- Si</tspan></text>
<text x="518.90" y="472.60" font-size="11" text-anchor="start" fill="#2a2a2a" font-weight="bold">Al</text>
<text x="518.90" y="490.3" font-size="11" font-weight="bold" fill="#2a2a2a" letter-spacing="-0.2">Al<tspan font-size="6.8" dy="1.2">2</tspan><tspan dy="-1.2">O</tspan><tspan font-size="6.8" dy="1.6">3</tspan></text>
<text x="519.40" y="558.5" font-size="11" font-weight="bold" fill="#2a2a2a">HfO<tspan font-size="7.2" dy="1.8">2</tspan></text>
<text x="519.40" y="570.8" font-size="11" font-weight="bold" fill="#2a2a2a">SiO<tspan font-size="7.2" dy="1.8">x</tspan></text>
<text x="519.40" y="588.8" font-size="11" font-weight="bold" fill="#2a2a2a">P<tspan font-size="7.2" dy="-4">+</tspan><tspan dy="4">- Si</tspan></text>
<circle cx="84.30" cy="612.00" r="4.6" fill="url(#gr)"/>
<text x="97.00" y="617.20" font-size="12.5" text-anchor="start" fill="#222">oxygen ion</text>
<circle cx="181.40" cy="612.00" r="4.6" fill="url(#gv2)"/>
<text x="195.20" y="617.20" font-size="12.5" text-anchor="start" fill="#222">oxygen vacancy</text>
<rect x="64.00" y="661.6" width="15.00" height="162.65" fill="#fdf7a9"/>
<rect x="79.00" y="661.6" width="85.00" height="162.65" fill="#d4eec1"/>
<rect x="164.00" y="661.6" width="100.00" height="162.65" fill="#d3e0fa"/>
<line x1="64.00" y1="661.60" x2="64.00" y2="824.25" stroke="#b4b4aa" stroke-width="0.7"/>
<line x1="79.00" y1="661.60" x2="79.00" y2="824.25" stroke="#b4b4aa" stroke-width="0.7"/>
<line x1="164.00" y1="661.60" x2="164.00" y2="824.25" stroke="#b4b4aa" stroke-width="0.7"/>
<line x1="264.00" y1="661.60" x2="264.00" y2="824.25" stroke="#b4b4aa" stroke-width="0.7"/>
<polyline points="69.00,678.20 74.00,683.00 79.00,672.50 84.00,766.90 89.00,773.00 94.00,776.50 99.00,776.50 104.00,776.50 109.00,779.70 114.00,780.40 119.00,780.40 124.00,779.50 129.00,783.90 134.00,783.90 139.00,785.30 144.00,787.60 149.00,786.20 154.00,788.80 159.00,788.80 164.00,787.20 169.00,765.00 174.00,746.70 179.00,742.40 184.00,738.80 189.00,737.40 194.00,735.70 199.00,733.70 204.00,731.60 209.00,730.00 214.00,728.20 219.00,727.60 224.00,727.20 229.00,727.00 234.00,726.50 239.00,726.70 244.00,727.00 249.00,727.40 254.00,727.80 259.00,729.20 264.00,730.40" fill="none" stroke="#1e9ae6" stroke-width="1.0" stroke-linejoin="round"/>
<circle cx="69.00" cy="678.20" r="2.2" fill="#1e9ae6" stroke="none" stroke-width="0"/>
<circle cx="74.00" cy="683.00" r="2.2" fill="#1e9ae6" stroke="none" stroke-width="0"/>
<circle cx="79.00" cy="672.50" r="2.2" fill="#1e9ae6" stroke="none" stroke-width="0"/>
<circle cx="84.00" cy="766.90" r="2.2" fill="#1e9ae6" stroke="none" stroke-width="0"/>
<circle cx="89.00" cy="773.00" r="2.2" fill="#1e9ae6" stroke="none" stroke-width="0"/>
<circle cx="94.00" cy="776.50" r="2.2" fill="#1e9ae6" stroke="none" stroke-width="0"/>
<circle cx="99.00" cy="776.50" r="2.2" fill="#1e9ae6" stroke="none" stroke-width="0"/>
<circle cx="104.00" cy="776.50" r="2.2" fill="#1e9ae6" stroke="none" stroke-width="0"/>
<circle cx="109.00" cy="779.70" r="2.2" fill="#1e9ae6" stroke="none" stroke-width="0"/>
<circle cx="114.00" cy="780.40" r="2.2" fill="#1e9ae6" stroke="none" stroke-width="0"/>
<circle cx="119.00" cy="780.40" r="2.2" fill="#1e9ae6" stroke="none" stroke-width="0"/>
<circle cx="124.00" cy="779.50" r="2.2" fill="#1e9ae6" stroke="none" stroke-width="0"/>
<circle cx="129.00" cy="783.90" r="2.2" fill="#1e9ae6" stroke="none" stroke-width="0"/>
<circle cx="134.00" cy="783.90" r="2.2" fill="#1e9ae6" stroke="none" stroke-width="0"/>
<circle cx="139.00" cy="785.30" r="2.2" fill="#1e9ae6" stroke="none" stroke-width="0"/>
<circle cx="144.00" cy="787.60" r="2.2" fill="#1e9ae6" stroke="none" stroke-width="0"/>
<circle cx="149.00" cy="786.20" r="2.2" fill="#1e9ae6" stroke="none" stroke-width="0"/>
<circle cx="154.00" cy="788.80" r="2.2" fill="#1e9ae6" stroke="none" stroke-width="0"/>
<circle cx="159.00" cy="788.80" r="2.2" fill="#1e9ae6" stroke="none" stroke-width="0"/>
<circle cx="164.00" cy="787.20" r="2.2" fill="#1e9ae6" stroke="none" stroke-width="0"/>
<circle cx="169.00" cy="765.00" r="2.2" fill="#1e9ae6" stroke="none" stroke-width="0"/>
<circle cx="174.00" cy="746.70" r="2.2" fill="#1e9ae6" stroke="none" stroke-width="0"/>
<circle cx="179.00" cy="742.40" r="2.2" fill="#1e9ae6" stroke="none" stroke-width="0"/>
<circle cx="184.00" cy="738.80" r="2.2" fill="#1e9ae6" stroke="none" stroke-width="0"/>
<circle cx="189.00" cy="737.40" r="2.2" fill="#1e9ae6" stroke="none" stroke-width="0"/>
<circle cx="194.00" cy="735.70" r="2.2" fill="#1e9ae6" stroke="none" stroke-width="0"/>
<circle cx="199.00" cy="733.70" r="2.2" fill="#1e9ae6" stroke="none" stroke-width="0"/>
<circle cx="204.00" cy="731.60" r="2.2" fill="#1e9ae6" stroke="none" stroke-width="0"/>
<circle cx="209.00" cy="730.00" r="2.2" fill="#1e9ae6" stroke="none" stroke-width="0"/>
<circle cx="214.00" cy="728.20" r="2.2" fill="#1e9ae6" stroke="none" stroke-width="0"/>
<circle cx="219.00" cy="727.60" r="2.2" fill="#1e9ae6" stroke="none" stroke-width="0"/>
<circle cx="224.00" cy="727.20" r="2.2" fill="#1e9ae6" stroke="none" stroke-width="0"/>
<circle cx="229.00" cy="727.00" r="2.2" fill="#1e9ae6" stroke="none" stroke-width="0"/>
<circle cx="234.00" cy="726.50" r="2.2" fill="#1e9ae6" stroke="none" stroke-width="0"/>
<circle cx="239.00" cy="726.70" r="2.2" fill="#1e9ae6" stroke="none" stroke-width="0"/>
<circle cx="244.00" cy="727.00" r="2.2" fill="#1e9ae6" stroke="none" stroke-width="0"/>
<circle cx="249.00" cy="727.40" r="2.2" fill="#1e9ae6" stroke="none" stroke-width="0"/>
<circle cx="254.00" cy="727.80" r="2.2" fill="#1e9ae6" stroke="none" stroke-width="0"/>
<circle cx="259.00" cy="729.20" r="2.2" fill="#1e9ae6" stroke="none" stroke-width="0"/>
<circle cx="264.00" cy="730.40" r="2.2" fill="#1e9ae6" stroke="none" stroke-width="0"/>
<polyline points="69.00,799.30 74.00,793.70 79.00,815.60 84.00,762.20 89.00,744.70 94.00,720.70 99.00,738.70 104.00,744.30 109.00,714.20 114.00,728.60 119.00,712.80 124.00,720.20 129.00,703.50 134.00,703.20 139.00,696.50 144.00,683.40 149.00,687.90 154.00,679.90 159.00,676.00 164.00,686.90 169.00,760.80 174.00,781.20 179.00,770.70 184.00,786.40 189.00,777.70 194.00,800.20 199.00,788.20 204.00,789.50 209.00,784.00 214.00,782.00 219.00,782.70 224.00,778.80 229.00,798.00 234.00,788.20 239.00,786.00 244.00,782.30 249.00,790.40 254.00,788.60 259.00,782.90 264.00,792.10" fill="none" stroke="#ee1c1c" stroke-width="1.0" stroke-linejoin="round"/>
<circle cx="69.00" cy="799.30" r="2.2" fill="#ee1c1c" stroke="none" stroke-width="0"/>
<circle cx="74.00" cy="793.70" r="2.2" fill="#ee1c1c" stroke="none" stroke-width="0"/>
<circle cx="79.00" cy="815.60" r="2.2" fill="#ee1c1c" stroke="none" stroke-width="0"/>
<circle cx="84.00" cy="762.20" r="2.2" fill="#ee1c1c" stroke="none" stroke-width="0"/>
<circle cx="89.00" cy="744.70" r="2.2" fill="#ee1c1c" stroke="none" stroke-width="0"/>
<circle cx="94.00" cy="720.70" r="2.2" fill="#ee1c1c" stroke="none" stroke-width="0"/>
<circle cx="99.00" cy="738.70" r="2.2" fill="#ee1c1c" stroke="none" stroke-width="0"/>
<circle cx="104.00" cy="744.30" r="2.2" fill="#ee1c1c" stroke="none" stroke-width="0"/>
<circle cx="109.00" cy="714.20" r="2.2" fill="#ee1c1c" stroke="none" stroke-width="0"/>
<circle cx="114.00" cy="728.60" r="2.2" fill="#ee1c1c" stroke="none" stroke-width="0"/>
<circle cx="119.00" cy="712.80" r="2.2" fill="#ee1c1c" stroke="none" stroke-width="0"/>
<circle cx="124.00" cy="720.20" r="2.2" fill="#ee1c1c" stroke="none" stroke-width="0"/>
<circle cx="129.00" cy="703.50" r="2.2" fill="#ee1c1c" stroke="none" stroke-width="0"/>
<circle cx="134.00" cy="703.20" r="2.2" fill="#ee1c1c" stroke="none" stroke-width="0"/>
<circle cx="139.00" cy="696.50" r="2.2" fill="#ee1c1c" stroke="none" stroke-width="0"/>
<circle cx="144.00" cy="683.40" r="2.2" fill="#ee1c1c" stroke="none" stroke-width="0"/>
<circle cx="149.00" cy="687.90" r="2.2" fill="#ee1c1c" stroke="none" stroke-width="0"/>
<circle cx="154.00" cy="679.90" r="2.2" fill="#ee1c1c" stroke="none" stroke-width="0"/>
<circle cx="159.00" cy="676.00" r="2.2" fill="#ee1c1c" stroke="none" stroke-width="0"/>
<circle cx="164.00" cy="686.90" r="2.2" fill="#ee1c1c" stroke="none" stroke-width="0"/>
<circle cx="169.00" cy="760.80" r="2.2" fill="#ee1c1c" stroke="none" stroke-width="0"/>
<circle cx="174.00" cy="781.20" r="2.2" fill="#ee1c1c" stroke="none" stroke-width="0"/>
<circle cx="179.00" cy="770.70" r="2.2" fill="#ee1c1c" stroke="none" stroke-width="0"/>
<circle cx="184.00" cy="786.40" r="2.2" fill="#ee1c1c" stroke="none" stroke-width="0"/>
<circle cx="189.00" cy="777.70" r="2.2" fill="#ee1c1c" stroke="none" stroke-width="0"/>
<circle cx="194.00" cy="800.20" r="2.2" fill="#ee1c1c" stroke="none" stroke-width="0"/>
<circle cx="199.00" cy="788.20" r="2.2" fill="#ee1c1c" stroke="none" stroke-width="0"/>
<circle cx="204.00" cy="789.50" r="2.2" fill="#ee1c1c" stroke="none" stroke-width="0"/>
<circle cx="209.00" cy="784.00" r="2.2" fill="#ee1c1c" stroke="none" stroke-width="0"/>
<circle cx="214.00" cy="782.00" r="2.2" fill="#ee1c1c" stroke="none" stroke-width="0"/>
<circle cx="219.00" cy="782.70" r="2.2" fill="#ee1c1c" stroke="none" stroke-width="0"/>
<circle cx="224.00" cy="778.80" r="2.2" fill="#ee1c1c" stroke="none" stroke-width="0"/>
<circle cx="229.00" cy="798.00" r="2.2" fill="#ee1c1c" stroke="none" stroke-width="0"/>
<circle cx="234.00" cy="788.20" r="2.2" fill="#ee1c1c" stroke="none" stroke-width="0"/>
<circle cx="239.00" cy="786.00" r="2.2" fill="#ee1c1c" stroke="none" stroke-width="0"/>
<circle cx="244.00" cy="782.30" r="2.2" fill="#ee1c1c" stroke="none" stroke-width="0"/>
<circle cx="249.00" cy="790.40" r="2.2" fill="#ee1c1c" stroke="none" stroke-width="0"/>
<circle cx="254.00" cy="788.60" r="2.2" fill="#ee1c1c" stroke="none" stroke-width="0"/>
<circle cx="259.00" cy="782.90" r="2.2" fill="#ee1c1c" stroke="none" stroke-width="0"/>
<circle cx="264.00" cy="792.10" r="2.2" fill="#ee1c1c" stroke="none" stroke-width="0"/>
<text x="75.4" y="705.0" font-size="10.6" font-weight="bold" font-style="italic" fill="#111" transform="rotate(-90 75.4 705.0)">Pristine</text>
<text x="92.3" y="683.2" font-size="10.8" font-weight="bold" font-style="italic" fill="#111" transform="rotate(-90 92.3 683.2)">Set</text>
<text x="179.2" y="695.9" font-size="10.6" font-weight="bold" font-style="italic" fill="#111" transform="rotate(-90 179.2 695.9)">Reset</text>
<line x1="189.60" y1="671.00" x2="202.90" y2="671.00" stroke="#1e9ae6" stroke-width="1.0"/>
<circle cx="196.20" cy="671.00" r="2.0" fill="#1e9ae6" stroke="none" stroke-width="0"/>
<line x1="189.60" y1="683.20" x2="202.90" y2="683.20" stroke="#ee1c1c" stroke-width="1.0"/>
<circle cx="196.20" cy="683.20" r="2.0" fill="#ee1c1c" stroke="none" stroke-width="0"/>
<text x="206.00" y="674.40" font-size="9.7" text-anchor="start" fill="#111">Resistance</text>
<text x="206.00" y="686.60" font-size="9.7" text-anchor="start" fill="#111">Capacitance</text>
<text x="169.00" y="814.40" font-size="15.6" text-anchor="start" fill="#111">Read @ 0.3V</text>
<rect x="54.25" y="661.60" width="218.95" height="162.65" fill="none" stroke="#111" stroke-width="1.5"/>
<line x1="54.25" y1="814.56" x2="57.55" y2="814.56" stroke="#000" stroke-width="1"/>
<text x="50.30" y="818.56" font-size="12.4" text-anchor="end" fill="#111">20</text>
<line x1="54.25" y1="776.32" x2="57.55" y2="776.32" stroke="#000" stroke-width="1"/>
<text x="50.30" y="780.32" font-size="12.4" text-anchor="end" fill="#111">40</text>
<line x1="54.25" y1="738.08" x2="57.55" y2="738.08" stroke="#000" stroke-width="1"/>
<text x="50.30" y="742.08" font-size="12.4" text-anchor="end" fill="#111">60</text>
<line x1="54.25" y1="699.84" x2="57.55" y2="699.84" stroke="#000" stroke-width="1"/>
<text x="50.30" y="703.84" font-size="12.4" text-anchor="end" fill="#111">80</text>
<line x1="54.25" y1="661.60" x2="57.55" y2="661.60" stroke="#000" stroke-width="1"/>
<text x="50.30" y="665.60" font-size="12.4" text-anchor="end" fill="#111">100</text>
<line x1="54.25" y1="795.44" x2="56.05" y2="795.44" stroke="#000" stroke-width="0.8"/>
<line x1="54.25" y1="757.20" x2="56.05" y2="757.20" stroke="#000" stroke-width="0.8"/>
<line x1="54.25" y1="718.96" x2="56.05" y2="718.96" stroke="#000" stroke-width="0.8"/>
<line x1="54.25" y1="680.72" x2="56.05" y2="680.72" stroke="#000" stroke-width="0.8"/>
<line x1="273.20" y1="824.40" x2="269.90" y2="824.40" stroke="#000" stroke-width="1"/>
<text x="277.00" y="828.40" font-size="12.4" text-anchor="start" fill="#111">0</text>
<line x1="273.20" y1="783.68" x2="269.90" y2="783.68" stroke="#000" stroke-width="1"/>
<text x="277.00" y="787.68" font-size="12.4" text-anchor="start" fill="#111">2</text>
<line x1="273.20" y1="742.96" x2="269.90" y2="742.96" stroke="#000" stroke-width="1"/>
<text x="277.00" y="746.96" font-size="12.4" text-anchor="start" fill="#111">4</text>
<line x1="273.20" y1="702.24" x2="269.90" y2="702.24" stroke="#000" stroke-width="1"/>
<text x="277.00" y="706.24" font-size="12.4" text-anchor="start" fill="#111">6</text>
<line x1="273.20" y1="661.52" x2="269.90" y2="661.52" stroke="#000" stroke-width="1"/>
<text x="277.00" y="665.52" font-size="12.4" text-anchor="start" fill="#111">8</text>
<line x1="273.20" y1="804.04" x2="271.40" y2="804.04" stroke="#000" stroke-width="0.8"/>
<line x1="273.20" y1="763.32" x2="271.40" y2="763.32" stroke="#000" stroke-width="0.8"/>
<line x1="273.20" y1="722.60" x2="271.40" y2="722.60" stroke="#000" stroke-width="0.8"/>
<line x1="273.20" y1="681.88" x2="271.40" y2="681.88" stroke="#000" stroke-width="0.8"/>
<line x1="64.00" y1="824.25" x2="64.00" y2="820.95" stroke="#000" stroke-width="1"/>
<text x="64.00" y="838.40" font-size="12.2" text-anchor="middle" fill="#111">0</text>
<line x1="89.00" y1="824.25" x2="89.00" y2="822.45" stroke="#000" stroke-width="0.8"/>
<line x1="114.00" y1="824.25" x2="114.00" y2="820.95" stroke="#000" stroke-width="1"/>
<text x="114.00" y="838.40" font-size="12.2" text-anchor="middle" fill="#111">10</text>
<line x1="139.00" y1="824.25" x2="139.00" y2="822.45" stroke="#000" stroke-width="0.8"/>
<line x1="164.00" y1="824.25" x2="164.00" y2="820.95" stroke="#000" stroke-width="1"/>
<text x="164.00" y="838.40" font-size="12.2" text-anchor="middle" fill="#111">20</text>
<line x1="189.00" y1="824.25" x2="189.00" y2="822.45" stroke="#000" stroke-width="0.8"/>
<line x1="214.00" y1="824.25" x2="214.00" y2="820.95" stroke="#000" stroke-width="1"/>
<text x="214.00" y="838.40" font-size="12.2" text-anchor="middle" fill="#111">30</text>
<line x1="239.00" y1="824.25" x2="239.00" y2="822.45" stroke="#000" stroke-width="0.8"/>
<line x1="264.00" y1="824.25" x2="264.00" y2="820.95" stroke="#000" stroke-width="1"/>
<text x="264.00" y="838.40" font-size="12.2" text-anchor="middle" fill="#111">40</text>
<text x="163.70" y="854.20" font-size="13.2" text-anchor="middle" fill="#111">Pulse Number [#]</text>
<text x="23.80" y="742.60" font-size="13.0" text-anchor="middle" fill="#111" transform="rotate(-90 23.80 742.60)">Resistance [Ω]</text>
<text x="301.30" y="748.00" font-size="13.0" text-anchor="middle" fill="#111" transform="rotate(-90 301.30 748.00)">Capacitance [nF]</text>
<text x="1.50" y="665.60" font-size="18.2" text-anchor="start" fill="#111">(h)</text>
<text x="325.00" y="664.60" font-size="18.2" text-anchor="start" fill="#111">(i)</text>
<text x="490.90" y="677.60" font-size="12.0" text-anchor="middle" fill="#111" font-weight="bold">Measurement Sequences and Methods</text>
<line x1="340.00" y1="753.60" x2="674.50" y2="753.60" stroke="#111" stroke-width="1.6"/>
<polygon points="678.8,753.6 672.6,750.7 672.6,756.5" fill="#111"/>
<text x="668.6" y="770.1" font-size="14" font-style="italic" fill="#111">t</text>
<polyline points="358.60,753.60 358.60,705.70 370.70,705.70 370.70,753.60" fill="none" stroke="#111" stroke-width="1.2" stroke-linejoin="round"/>
<line x1="373.90" y1="705.70" x2="387.80" y2="705.70" stroke="#111" stroke-width="0.9" stroke-dasharray="1 1"/>
<line x1="380.40" y1="712.00" x2="380.40" y2="747.40" stroke="#111" stroke-width="0.9"/>
<polygon points="380.40,709.60 378.50,713.60 382.30,713.60" fill="#111"/>
<polygon points="380.40,749.80 378.50,745.80 382.30,745.80" fill="#111"/>
<text x="345.20" y="699.10" font-size="12.2" text-anchor="start" fill="#111">100 ms</text>
<text x="384.80" y="734.00" font-size="12.6" text-anchor="start" fill="#111">1.6 V</text>
<polyline points="395.20,753.60 395.20,785.70 407.50,785.70 407.50,753.60" fill="none" stroke="#111" stroke-width="1.2" stroke-linejoin="round"/>
<line x1="411.40" y1="785.70" x2="422.50" y2="785.70" stroke="#111" stroke-width="0.9" stroke-dasharray="1 1"/>
<line x1="417.50" y1="760.00" x2="417.50" y2="778.80" stroke="#111" stroke-width="0.9"/>
<polygon points="417.50,757.60 415.60,761.60 419.40,761.60" fill="#111"/>
<polygon points="417.50,781.20 415.60,777.20 419.40,777.20" fill="#111"/>
<text x="422.00" y="774.10" font-size="12.5" text-anchor="start" fill="#111">−1.4 V</text>
<text x="383.10" y="800.90" font-size="12.2" text-anchor="start" fill="#111">100 ms</text>
<polyline points="471.00,752.80 471.00,747.60 477.70,747.60 477.70,741.90 484.40,741.90 484.40,736.20 491.10,736.20 491.10,730.50 497.80,730.50 497.80,724.80 504.50,724.80 504.50,719.00 510.00,719.00" fill="none" stroke="#1e9ae6" stroke-width="1.2" stroke-linejoin="round" stroke-linejoin="miter"/>
<line x1="513.90" y1="719.00" x2="523.00" y2="719.00" stroke="#111" stroke-width="0.9" stroke-dasharray="1 1"/>
<line x1="519.90" y1="725.80" x2="519.90" y2="747.20" stroke="#111" stroke-width="0.9"/>
<polygon points="519.90,723.40 518.00,727.40 521.80,727.40" fill="#111"/>
<polygon points="519.90,749.60 518.00,745.60 521.80,745.60" fill="#111"/>
<text x="522.60" y="740.40" font-size="12.5" text-anchor="start" fill="#111">0.3 V</text>
<polyline points="559.30,752.80 559.30,747.80 567.20,747.80 567.20,741.70 574.30,741.70 574.30,735.70 581.40,735.70" fill="none" stroke="#ee1c1c" stroke-width="1.2" stroke-linejoin="round" stroke-linejoin="miter"/>
<text x="588.30" y="739.80" font-size="11" text-anchor="middle" fill="#111">+</text>
<polyline points="596.10,737.63 596.69,736.50 597.28,735.38 597.87,734.28 598.46,733.22 599.05,732.23 599.64,731.33 600.23,730.53 600.82,729.85 601.41,729.31 602.00,728.92 602.59,728.68 603.18,728.60 603.77,728.68 604.36,728.92 604.95,729.31 605.54,729.85 606.13,730.53 606.72,731.33 607.31,732.23 607.90,733.22 608.49,734.27 609.08,735.37 609.67,736.50 610.26,737.62 610.85,738.72 611.44,739.78 612.03,740.77 612.62,741.67 613.21,742.47 613.80,743.15 614.39,743.69 614.98,744.08 615.57,744.32 616.16,744.40 616.75,744.32 617.34,744.08 617.93,743.69 618.52,743.15 619.11,742.47 619.70,741.67" fill="none" stroke="#ee1c1c" stroke-width="1.2" stroke-linejoin="round"/>
<line x1="596.10" y1="713.60" x2="596.10" y2="724.80" stroke="#333" stroke-width="0.8" stroke-dasharray="1 1"/>
<line x1="619.60" y1="713.60" x2="619.60" y2="724.80" stroke="#333" stroke-width="0.8" stroke-dasharray="1 1"/>
<line x1="599.50" y1="719.40" x2="616.20" y2="719.40" stroke="#111" stroke-width="0.9"/>
<polygon points="597.5,719.4 601.5,717.5 601.5,721.3" fill="#111"/>
<polygon points="618.2,719.4 614.2,717.5 614.2,721.3" fill="#111"/>
<text x="594.50" y="708.90" font-size="11.8" text-anchor="start" fill="#111">1 kHz</text>
<line x1="627.90" y1="714.90" x2="627.90" y2="721.00" stroke="#111" stroke-width="0.9"/>
<polygon points="627.9,724.2 626.0,720.2 629.8,720.2" fill="#111"/>
<line x1="624.20" y1="727.30" x2="631.00" y2="727.30" stroke="#111" stroke-width="0.8" stroke-dasharray="1 1"/>
<line x1="624.20" y1="736.60" x2="631.00" y2="736.60" stroke="#111" stroke-width="0.8" stroke-dasharray="1 1"/>
<line x1="627.90" y1="742.70" x2="627.90" y2="747.80" stroke="#111" stroke-width="0.9"/>
<polygon points="627.9,739.5 626.0,743.5 629.8,743.5" fill="#111"/>
<text x="637.50" y="736.00" font-size="11.8" text-anchor="start" fill="#111">20 mV</text>
<text x="475.2" y="777.2" font-size="12.7" font-family="'Liberation Mono', monospace" fill="#1e9ae6">R = V/I</text>
<text x="558.0" y="777.2" font-size="12.7" font-family="'Liberation Mono', monospace" fill="#ee1c1c">C = dQ/dV</text>
<path d="M347.10,807.00 Q347.10,813.25 353.10,813.25 L397.95,813.25 Q403.95,813.25 403.95,819.50 Q403.95,813.25 409.95,813.25 L454.80,813.25 Q460.80,813.25 460.80,807.00" fill="none" stroke="#222" stroke-width="1.0"/>
<path d="M473.10,807.40 Q473.10,813.60 479.10,813.60 L497.00,813.60 Q503.00,813.60 503.00,819.80 Q503.00,813.60 509.00,813.60 L526.90,813.60 Q532.90,813.60 532.90,807.40" fill="none" stroke="#222" stroke-width="1.0"/>
<path d="M548.70,807.40 Q548.70,813.60 554.70,813.60 L586.25,813.60 Q592.25,813.60 592.25,819.80 Q592.25,813.60 598.25,813.60 L629.80,813.60 Q635.80,813.60 635.80,807.40" fill="none" stroke="#222" stroke-width="1.0"/>
<text x="404.00" y="833.80" font-size="12.3" text-anchor="middle" fill="#111">Set or Reset</text>
<text x="404.20" y="847.70" font-size="12.3" text-anchor="middle" fill="#111">(Pulse)</text>
<text x="503.00" y="833.90" font-size="12.3" text-anchor="middle" fill="#111">Res. read</text>
<text x="503.00" y="848.00" font-size="12.3" text-anchor="middle" fill="#111">(DC)</text>
<text x="592.00" y="833.90" font-size="12.3" text-anchor="middle" fill="#111">Cap. read</text>
<text x="592.50" y="848.00" font-size="12.3" text-anchor="middle" fill="#111">(AC&amp;Quasi-Static)</text>
</svg></body></html>
